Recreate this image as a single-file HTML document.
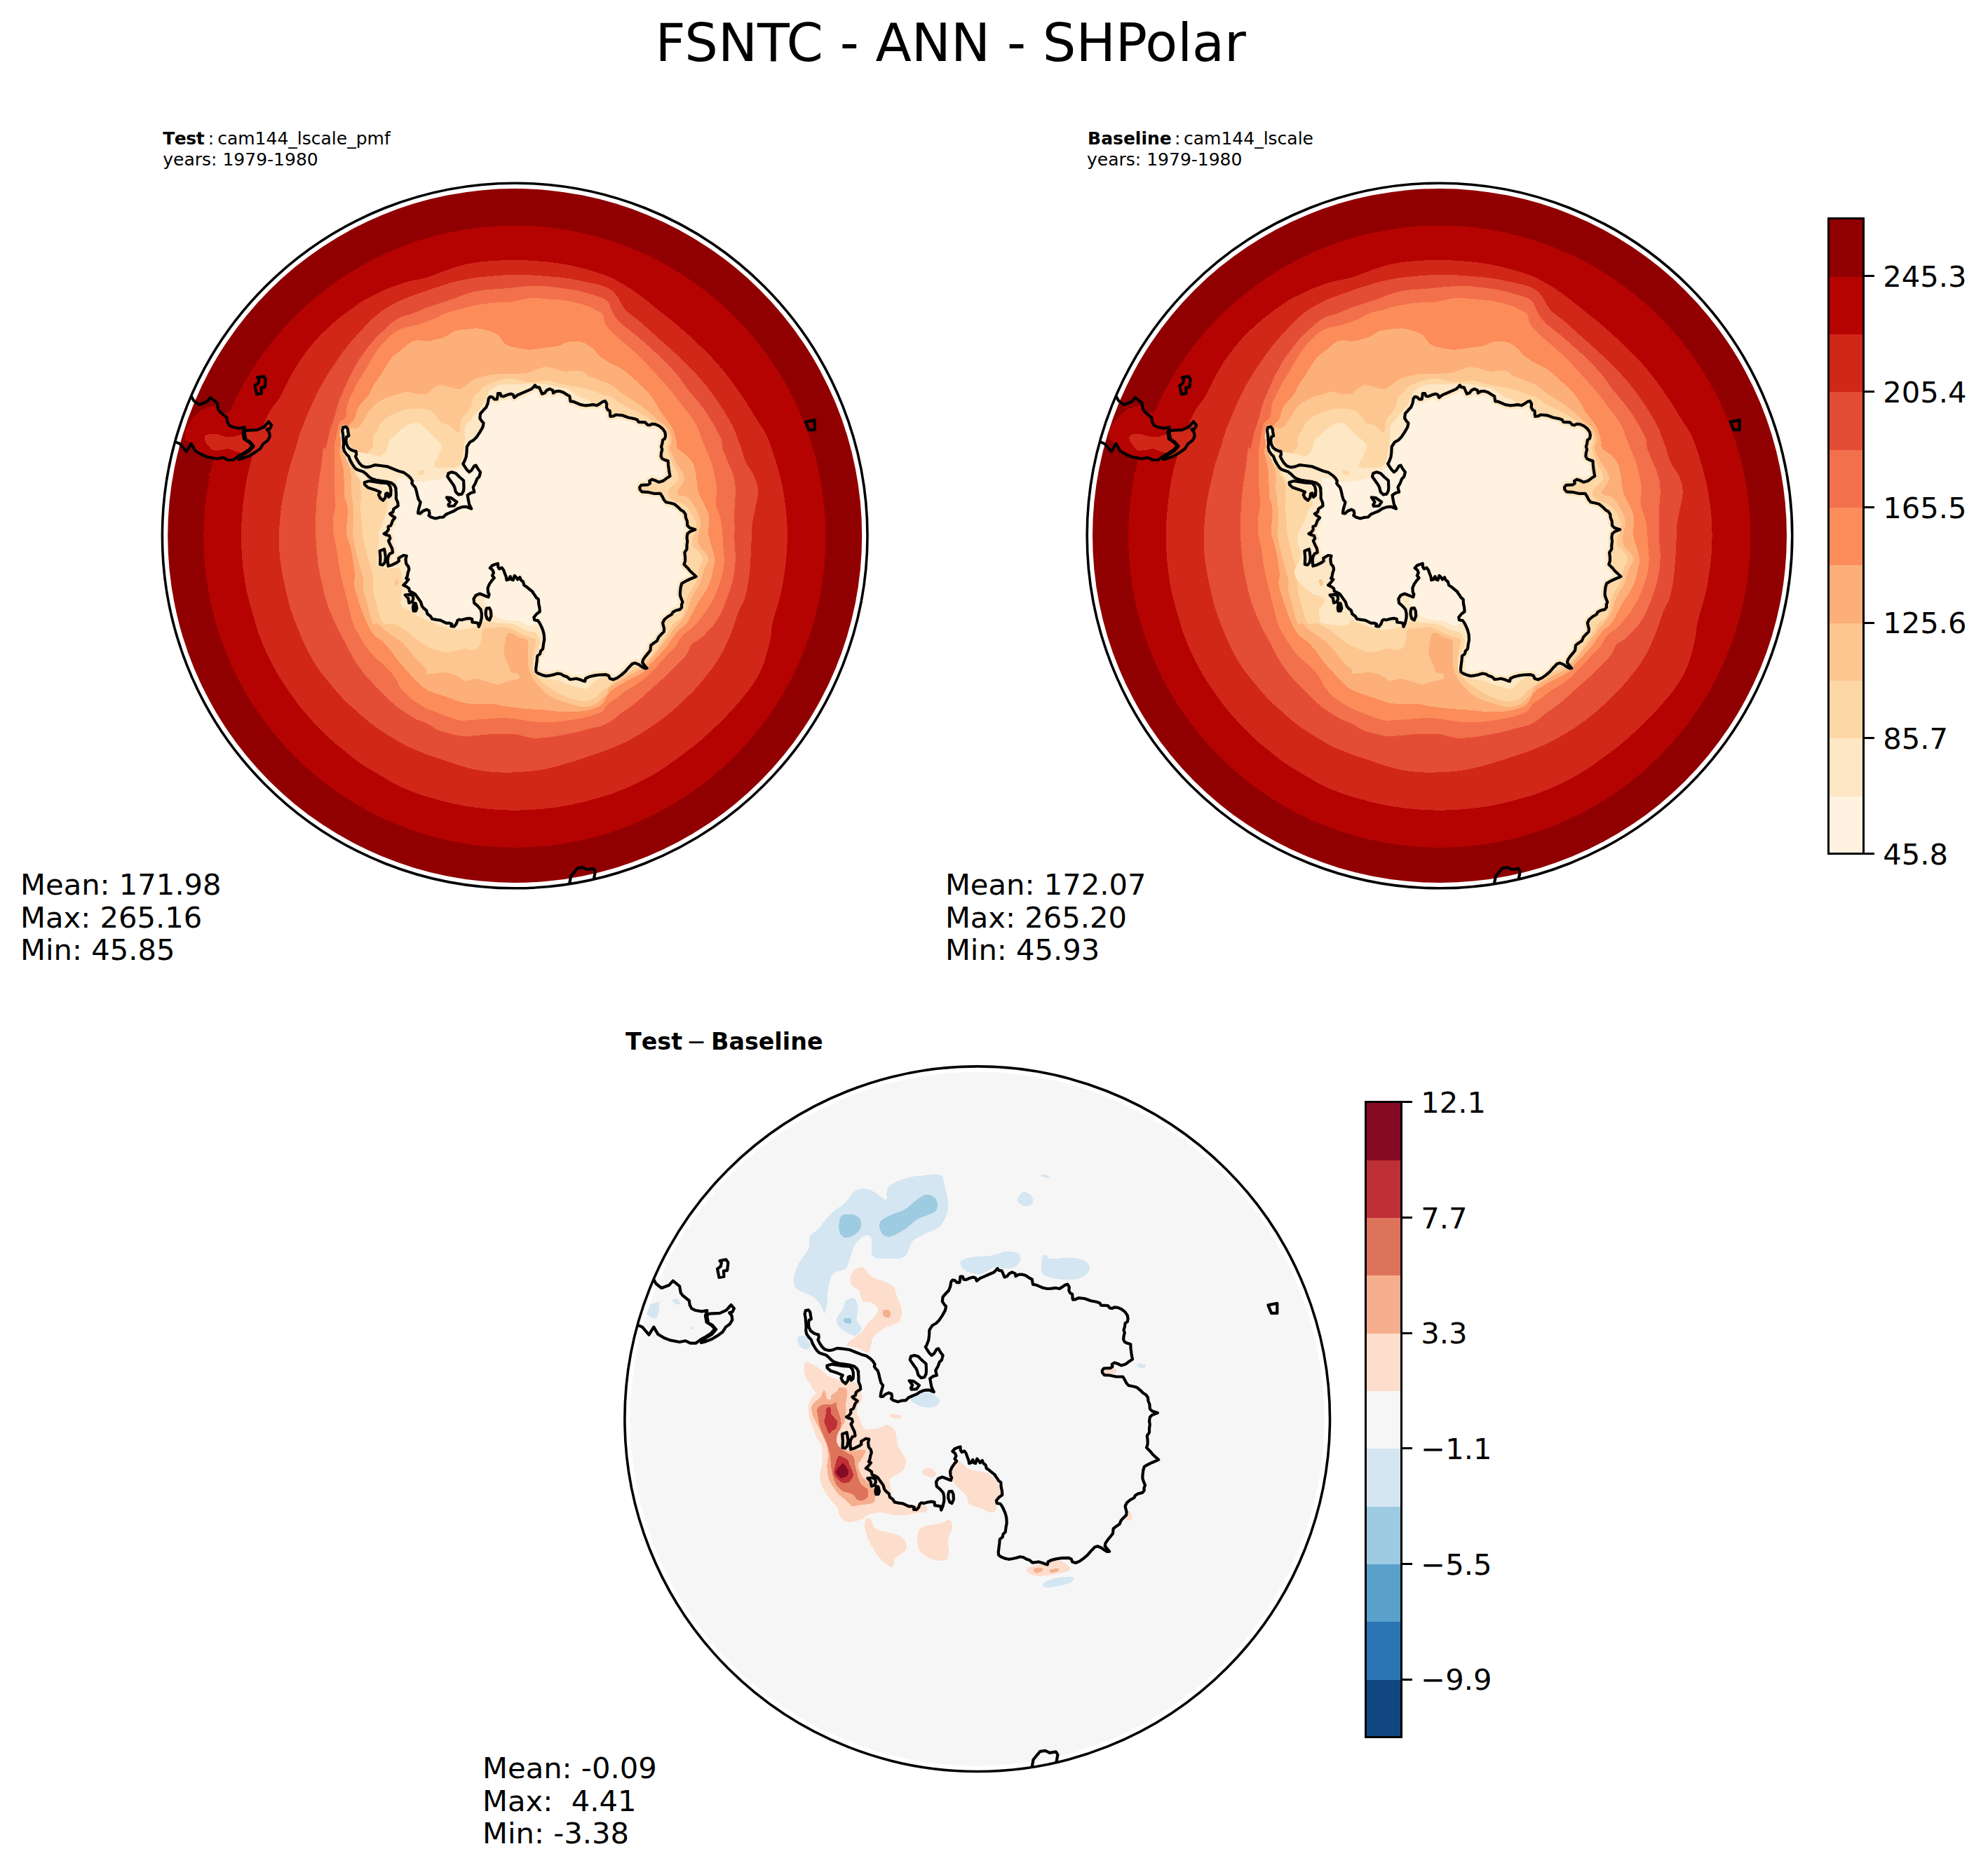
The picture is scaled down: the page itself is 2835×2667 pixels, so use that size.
<!DOCTYPE html>
<html><head><meta charset="utf-8"><title>FSNTC - ANN - SHPolar</title>
<style>html,body{margin:0;padding:0;background:#fff}body{width:2835px;height:2667px;overflow:hidden}
svg text{font-family:"DejaVu Sans","Liberation Sans",sans-serif;fill:#000;white-space:pre}</style></head>
<body>
<svg width="2835" height="2667" viewBox="0 0 2835 2667" style="display:block">
<rect width="2835" height="2667" fill="#fff"/>
<defs>
<clipPath id="cd1"><circle cx="734.2" cy="764" r="495.0"/></clipPath>
<clipPath id="co1"><circle cx="734.2" cy="764" r="502.8"/></clipPath>
<clipPath id="cd2"><circle cx="2053" cy="764" r="495.0"/></clipPath>
<clipPath id="co2"><circle cx="2053" cy="764" r="502.8"/></clipPath>
<clipPath id="cd3"><circle cx="1393.7" cy="2023.7" r="495.0"/></clipPath>
<clipPath id="co3"><circle cx="1393.7" cy="2023.7" r="502.8"/></clipPath>
</defs>
<g clip-path="url(#cd1)" shape-rendering="crispEdges">
<circle cx="734.2" cy="764" r="497.0" fill="#910000"/>
<path d="M1177.5 765.2 L1176.9 788.4 L1175.1 811.6 L1172 834.6 L1167.8 857.4 L1162.4 880 L1155.8 902.3 L1148 924.2 L1139.1 945.6 L1129.2 966.6 L1118.1 987 L1105.9 1006.8 L1092.8 1025.9 L1078.6 1044.4 L1063.6 1062 L1047.6 1078.9 L1030.7 1094.9 L1013.1 1109.9 L994.6 1124.1 L975.5 1137.2 L955.7 1149.4 L935.3 1160.5 L914.3 1170.4 L892.9 1179.3 L871 1187.1 L848.7 1193.7 L826.1 1199.1 L803.3 1203.3 L780.3 1206.4 L757.1 1208.2 L733.9 1208.8 L710.7 1208.2 L687.5 1206.4 L664.5 1203.3 L641.7 1199.1 L619.1 1193.7 L596.8 1187.1 L574.9 1179.3 L553.5 1170.4 L532.5 1160.5 L512.1 1149.4 L492.3 1137.2 L473.2 1124.1 L454.7 1109.9 L437.1 1094.9 L420.2 1078.9 L404.2 1062 L389.2 1044.4 L375 1025.9 L361.9 1006.8 L349.7 987 L338.6 966.6 L328.7 945.6 L319.8 924.2 L312 902.3 L305.4 880 L300 857.4 L295.8 834.6 L292.7 811.6 L290.9 788.4 L290.3 765.2 L290.9 742 L292.7 718.8 L295.8 695.8 L300 673 L305.4 650.4 L312 628.1 L319.8 606.2 L328.7 584.8 L338.6 563.8 L349.7 543.4 L361.9 523.6 L375 504.5 L389.2 486 L404.2 468.4 L420.2 451.5 L437.1 435.5 L454.7 420.5 L473.2 406.3 L492.3 393.2 L512.1 381 L532.5 369.9 L553.5 360 L574.9 351.1 L596.8 343.3 L619.1 336.7 L641.7 331.3 L664.5 327.1 L687.5 324 L710.7 322.2 L733.9 321.6 L757.1 322.2 L780.3 324 L803.3 327.1 L826.1 331.3 L848.7 336.7 L871 343.3 L892.9 351.1 L914.3 360 L935.3 369.9 L955.7 381 L975.5 393.2 L994.6 406.3 L1013.1 420.5 L1030.7 435.5 L1047.6 451.5 L1063.6 468.4 L1078.6 486 L1092.8 504.5 L1105.9 523.6 L1118.1 543.4 L1129.2 563.8 L1139.1 584.8 L1148 606.2 L1155.8 628.1 L1162.4 650.4 L1167.8 673 L1172 695.8 L1175.1 718.8 L1176.9 742Z" fill="#b50302"/>
<path d="M332.7 586.7 L329.1 587.1 L326.6 587.7 L324.8 588.5 L323.3 589.1 L321.5 589.3 L319.6 589 L317.7 588.5 L315.9 587.7 L314.3 586.8 L313 585.9 L312.1 584.7 L311.5 583.4 L311.1 582 L310.5 580.7 L309.6 579.9 L308.3 579.4 L306.8 579.2 L305.1 579.2 L303.1 579.5 L301 579.9 L298.5 580.5 L295.7 581.4 L292.7 582.5 L289.8 583.7 L287.3 585 L285.3 586.3 L283.5 587.8 L281.9 589.3 L280.4 591 L278.8 592.7 L277 594.6 L275.2 596.6 L273.5 598.7 L271.8 600.8 L270.2 603 L268.8 605.1 L267.3 607.3 L266.1 609.5 L265 611.8 L264.2 614.1 L263.7 616.5 L263.4 619.1 L263.3 621.6 L263.6 624 L264.2 626.1 L265.4 627.7 L267.1 629.1 L269 630.3 L271 631.5 L272.8 632.9 L274.4 634.5 L275.9 636.3 L277.4 638.1 L278.9 639.8 L280.5 641.5 L282.1 643 L283.7 644.5 L285.3 645.8 L287.1 647.1 L289 648.3 L291.3 649.3 L294 650.2 L296.7 651 L299.1 651.8 L301 652.6 L302.3 653.3 L303.3 653.9 L303.9 654.5 L304.3 655.5 L304.4 656.9 L304.3 658.9 L303.8 661.5 L303.1 664.3 L302.4 667.2 L301.9 669.7 L300.7 672.1 L298.7 674.5 L297.3 676.7 L297.6 678.6 L301 680 L309.1 682.1 L321.1 685.1 L334.5 687 L346.9 686 L355.8 680 L361.1 666.1 L364.4 645.6 L366 623 L365.9 602.5 L364.3 588.4 L360.2 582.3 L353.6 581.1 L345.8 582.8 L338.3 585.4Z" fill="#b50302"/>
<path d="M349.6 696.2 L351.6 684.6 L353.9 673.8 L356.4 663.5 L359.2 653.4 L362.3 643.2 L365.8 632.4 L369.8 621.4 L373.9 610.6 L378 600.7 L381.9 592.2 L385.5 585.5 L389.1 580.2 L392.6 575.8 L395.9 571.6 L399.1 566.8 L402 561.5 L404.7 556 L407.3 550.5 L409.9 545.2 L412.5 540.1 L415.1 535.2 L417.8 530.5 L420.5 526 L423.2 521.6 L425.8 517.3 L428.5 513.3 L431.2 509.4 L433.9 505.7 L436.5 502.1 L439.2 498.6 L441.9 495.2 L444.6 491.9 L447.2 488.7 L449.9 485.6 L452.6 482.6 L455.3 479.7 L457.9 477 L460.6 474.3 L463.3 471.8 L466 469.2 L468.6 466.7 L471.3 464.2 L474 461.8 L476.6 459.5 L479.3 457.2 L482 454.9 L484.7 452.7 L487.3 450.6 L490 448.5 L492.7 446.5 L495.4 444.5 L498 442.6 L500.7 440.8 L503.4 439 L506.1 437.1 L508.7 435.2 L511.4 433.3 L514.1 431.3 L516.8 429.5 L519.4 427.8 L522.1 426.3 L524.8 424.9 L527.4 423.6 L530.1 422.4 L532.8 421.1 L535.5 419.7 L538.1 418.3 L540.8 417 L543.5 415.7 L546.2 414.4 L548.8 413.2 L551.5 412.1 L554.2 411.1 L556.9 410.1 L559.5 409.1 L562.2 408.1 L564.9 407.1 L567.6 406.2 L570.2 405.3 L572.9 404.4 L575.4 403.5 L577.8 402.8 L580.3 402 L583 401.2 L586.3 400.4 L589.7 399.7 L593.1 399.2 L597 398.6 L602.1 397.6 L609 395.7 L618 392.6 L628.7 388.4 L640.7 383.9 L653.2 379.7 L665.9 376.5 L678.8 374.3 L692.4 372.8 L706.3 371.7 L720.4 371.2 L734.2 371 L748.1 371.2 L762.1 372 L776.1 373.1 L789.6 374.6 L802.5 376.5 L815.1 378.8 L827.4 381.7 L839.1 384.9 L849.8 388.1 L859 391 L866.3 393.6 L871.8 396 L876.5 398.4 L880.9 400.9 L885.7 403.7 L891.1 406.8 L896.4 410.1 L901.8 413.6 L907.1 417.3 L912.5 421.1 L917.8 425.1 L923.2 429.4 L928.5 433.7 L933.9 438.1 L939.2 442.5 L944.6 446.7 L949.9 450.9 L955.3 455.1 L960.6 459.4 L966 463.9 L971.3 468.5 L976.6 473.2 L982 478 L987.3 482.9 L992.7 487.9 L998.1 493.1 L1003.7 498.6 L1009.2 504 L1014.5 509.4 L1019.4 514.7 L1023.9 519.6 L1027.9 524.3 L1031.8 528.9 L1035.6 533.7 L1039.5 538.7 L1043.5 544 L1047.5 549.5 L1051.5 555.1 L1055.5 560.9 L1059.5 566.8 L1063.6 573 L1067.7 579.4 L1071.8 586 L1075.7 592.5 L1079.6 598.9 L1083.2 604.5 L1086.6 609.5 L1090 614.8 L1093.4 621.2 L1097 629.6 L1100.9 640.7 L1105.2 653.8 L1109.4 668.1 L1113.2 682.6 L1116.3 696.6 L1118.6 710.1 L1120.4 723.5 L1121.7 737 L1122.5 750.5 L1122.8 764 L1122.5 777.6 L1121.7 791.4 L1120.3 805.2 L1118.6 818.6 L1116.6 831.4 L1114 844.2 L1110.6 857.2 L1107.1 869.4 L1103.9 880.3 L1101.6 889 L1100.5 894.7 L1100.1 898 L1100.1 900 L1100 902 L1099.6 905 L1098.8 909.3 L1097.9 914.1 L1096.8 919.1 L1095.6 924.2 L1094.3 929.1 L1092.9 934 L1091.4 938.9 L1089.8 943.8 L1088.1 948.6 L1086.3 953.2 L1084.4 957.4 L1082.4 961.4 L1080.4 965.3 L1078.1 969.2 L1075.6 973.2 L1072.8 977.4 L1069.7 981.6 L1066.5 985.9 L1063.1 990.2 L1059.5 994.6 L1055.8 999.1 L1051.8 1003.7 L1047.7 1008.4 L1043.6 1012.9 L1039.5 1017.3 L1035.6 1021.5 L1031.8 1025.4 L1027.9 1029.2 L1023.9 1033.2 L1019.4 1037.4 L1014.5 1042 L1009.2 1046.9 L1003.7 1051.9 L998.1 1056.8 L992.7 1061.5 L987.3 1065.7 L982 1069.8 L976.6 1073.8 L971.3 1077.7 L966 1081.5 L960.6 1085.4 L955.3 1089.3 L949.9 1093.1 L944.6 1096.8 L939.2 1100.2 L933.9 1103.5 L928.5 1106.5 L923.2 1109.4 L917.8 1112.2 L912.5 1114.9 L907.1 1117.6 L901.8 1120.1 L896.4 1122.5 L891.1 1124.8 L885.7 1127 L880.9 1128.9 L876.5 1130.7 L871.9 1132.4 L866.3 1134.2 L859 1136.3 L849.8 1138.9 L839 1141.9 L827.2 1144.9 L814.8 1147.7 L802.3 1150 L789.4 1151.9 L775.9 1153.4 L762 1154.6 L748 1155.4 L734.2 1155.7 L720.4 1155.4 L706.4 1154.6 L692.6 1153.4 L679 1151.9 L666.1 1150 L653.5 1147.7 L640.8 1144.9 L628.8 1141.8 L618 1138.8 L609 1136.3 L602.1 1134.3 L597 1132.6 L593 1131 L589.7 1129.6 L586.3 1128.3 L583 1127.1 L580.3 1126 L577.8 1125.1 L575.4 1124.1 L572.9 1123 L570.2 1121.7 L567.6 1120.4 L564.9 1119.1 L562.2 1117.7 L559.5 1116.3 L556.9 1114.8 L554.2 1113.2 L551.5 1111.5 L548.8 1109.9 L546.2 1108.3 L543.5 1106.6 L540.8 1105 L538.1 1103.4 L535.5 1101.8 L532.8 1100.2 L530.1 1098.6 L527.4 1097.1 L524.8 1095.5 L522.1 1093.9 L519.4 1092.2 L516.8 1090.4 L514.1 1088.6 L511.4 1086.8 L508.7 1084.8 L506.1 1082.9 L503.4 1080.8 L500.7 1078.7 L498 1076.5 L495.4 1074.3 L492.7 1072.2 L490 1070 L487.3 1067.9 L484.7 1065.8 L482 1063.7 L479.3 1061.5 L476.6 1059.2 L474 1056.8 L471.3 1054.4 L468.6 1051.9 L466 1049.4 L463.3 1046.9 L460.6 1044.2 L457.9 1041.6 L455.3 1038.8 L452.6 1036.1 L449.9 1033.2 L447.2 1030.3 L444.6 1027.4 L441.9 1024.4 L439.2 1021.4 L436.5 1018.3 L433.9 1015.2 L431.2 1012 L428.5 1008.7 L425.8 1005.3 L423.2 1001.8 L420.5 998.1 L417.8 994.3 L415.1 990.5 L412.5 986.6 L409.8 982.7 L407.1 978.9 L404.5 974.9 L401.8 970.8 L399.1 966.5 L396.4 962.1 L393.8 957.5 L391.1 952.7 L388.4 947.7 L385.7 942.5 L383 936.9 L380.1 930.8 L377.3 924.7 L374.7 918.7 L372.4 913.1 L370.5 908.4 L369.1 904.6 L367.8 900.8 L366.3 895.8 L364.3 889 L361.7 879.9 L358.5 869 L355.2 857 L352.1 844.5 L349.6 831.8 L347.7 818.9 L346.1 805.5 L344.9 791.6 L344.2 777.7 L343.9 764 L344.2 750.2 L345 736.2 L346.3 722.2 L347.9 708.8Z" fill="#d12719"/>
<path d="M291.6 623.5 L292.2 622.3 L293.1 621.3 L294.4 620.4 L295.9 619.7 L297.6 619.2 L299.5 618.9 L301.8 618.8 L304.2 618.8 L306.6 619 L308.7 619.2 L310.6 619.6 L312.3 620.1 L314 620.7 L315.6 621.3 L317.3 621.8 L319 622.2 L320.7 622.7 L322.4 623 L324.1 623.3 L325.8 623.5 L327.5 623.5 L329.1 623.4 L330.8 623.2 L332.5 623 L334.4 622.7 L336.6 622.1 L339.1 621.3 L341.6 620.5 L343.8 620 L345.5 620.1 L346.3 620.9 L346.5 622.3 L346.5 623.9 L346.6 625.6 L347.2 626.9 L348.5 627.9 L350.3 628.8 L352.3 629.6 L354.2 630.4 L355.8 631.2 L357.1 632 L358.3 632.8 L359.3 633.6 L359.9 634.5 L360 635.5 L359.5 636.6 L358.5 637.8 L357.1 639.1 L355.6 640.4 L354 641.5 L352.5 642.5 L350.8 643.6 L349 644.6 L347.2 645.3 L345.5 645.7 L343.8 645.8 L342 645.5 L340.2 645.1 L338.5 644.5 L336.9 644 L335.4 643.6 L334 643 L332.6 642.5 L331.3 641.9 L330.1 641.5 L329 641 L328 640.6 L327.1 640.2 L326.1 639.9 L325 639.8 L323.7 639.9 L322.3 640.2 L320.8 640.7 L319.2 641.1 L317.3 641.5 L314.9 641.8 L312.2 642.2 L309.3 642.5 L306.6 642.6 L304.4 642.3 L302.8 641.7 L301.5 640.7 L300.4 639.5 L299.4 638.3 L298.4 637.2 L297.5 636.2 L296.5 635.3 L295.7 634.4 L294.9 633.3 L294.2 632.1 L293.4 630.5 L292.6 628.7 L291.9 626.8 L291.5 625Z" fill="#d12719"/>
<path d="M384.8 602.1 L376.3 609 L366.9 612.8 L355.8 613.7 L349.8 614.1 L348.9 626.9 L355.8 631.2 L360.9 635.5 L355.8 643.2 L347.2 648.3 L340.4 655.2 L351.5 653.4 L360 648.3 L359.2 661.1 L355.8 680 L390 680 L396 597Z" fill="#d12719"/>
<path d="M398.4 752.6 L398.8 746 L399.4 739.3 L400 732.6 L400.8 725.9 L401.8 719.2 L402.9 712.4 L404.2 705.5 L405.6 698.7 L407.1 692 L408.5 685.8 L409.8 679.9 L411.1 674.3 L412.5 668.9 L413.8 663.9 L415.1 659.1 L416.5 654.7 L417.8 650.7 L419.2 646.9 L420.5 643.1 L421.8 639 L423.1 634.7 L424.3 630.3 L425.6 625.8 L426.9 621.1 L428.5 616.3 L430.4 611.2 L432.4 606 L434.6 600.6 L436.8 595.1 L439.2 589.5 L441.7 583.7 L444.4 577.7 L447.1 571.6 L449.9 565.7 L452.6 560.1 L455.3 554.9 L457.9 549.9 L460.6 545.1 L463.3 540.5 L466 536.1 L468.6 531.8 L471.3 527.7 L474 523.7 L476.6 519.9 L479.3 516 L482 512.1 L484.7 508.3 L487.3 504.5 L490 500.8 L492.7 497.3 L495.4 493.9 L498 490.6 L500.7 487.4 L503.4 484.3 L506.1 481.2 L508.7 478.2 L511.4 475.2 L514.1 472.3 L516.8 469.4 L519.4 466.5 L522.1 463.7 L524.8 461 L527.4 458.3 L530.1 455.7 L532.8 453.2 L535.5 450.8 L538.1 448.6 L540.8 446.4 L543.5 444.4 L546.2 442.5 L548.8 440.7 L551.5 439 L554.2 437.4 L556.9 435.9 L559.5 434.5 L562.2 433 L564.9 431.6 L567.6 430.3 L570.2 429 L572.9 427.8 L575.6 426.6 L578.3 425.5 L580.9 424.4 L583.6 423.4 L586.3 422.4 L589 421.4 L591.8 420.4 L594.6 419.5 L597.2 418.6 L599.6 417.7 L601.6 417 L603.2 416.5 L604.7 415.9 L606.5 415.3 L609 414.4 L612.3 413.3 L616.3 411.9 L620.5 410.5 L624.9 409.1 L629.1 407.7 L633 406.5 L636.8 405.2 L640.6 404 L644.7 402.9 L649.1 401.7 L654 400.5 L659.3 399.4 L664.8 398.3 L670.4 397.2 L675.8 396.4 L681.2 395.6 L686.5 395 L691.9 394.6 L697.2 394.1 L702.6 393.7 L707.9 393.2 L713.3 392.8 L718.6 392.4 L724 392.1 L729.3 391.9 L734.7 391.9 L740 391.9 L745.4 392 L750.7 392.1 L756.1 392.3 L761.4 392.6 L766.8 393 L772.1 393.4 L777.4 393.9 L782.8 394.3 L788.1 394.8 L793.5 395.2 L798.8 395.7 L804.2 396.3 L809.5 397 L814.9 397.9 L820.4 399 L825.9 400.1 L831.2 401.3 L836.3 402.4 L841.2 403.4 L846.1 404.4 L850.8 405.5 L855.1 406.6 L859 407.7 L862.3 408.9 L865.2 410.1 L867.8 411.4 L870.1 412.8 L872.4 414.4 L874.5 416.2 L876.3 418.1 L878.1 420.1 L879.8 422.5 L881.7 425.1 L883.6 428.2 L885.5 431.6 L887.4 435.3 L889.7 439 L892.4 442.5 L895.7 445.6 L899.4 448.6 L903.5 451.6 L907.9 454.8 L912.5 458.5 L917.4 462.8 L922.7 467.6 L928.2 472.6 L933.8 477.6 L939.2 482.6 L944.6 487.4 L949.9 492.1 L955.3 496.8 L960.6 501.7 L966 506.6 L971.4 511.9 L977 517.3 L982.5 522.8 L987.8 528.2 L992.7 533.4 L997.1 538.3 L1001.2 542.9 L1005 547.6 L1008.8 552.3 L1012.7 557.4 L1016.9 563.1 L1021.1 569.1 L1025.3 575.2 L1029.2 581.2 L1032.8 586.9 L1035.9 592 L1038.8 596.7 L1041.3 601.3 L1043.8 605.9 L1046.2 610.9 L1048.5 616.4 L1050.8 622.3 L1053 628.2 L1055 633.8 L1056.9 639 L1058.4 643.5 L1059.6 647.6 L1060.7 651.4 L1061.9 655.2 L1063.5 659.1 L1065.7 663.1 L1068.3 667.1 L1071 671.1 L1073.5 675.1 L1075.6 679.1 L1077.2 683.1 L1078.6 687.1 L1079.7 691.1 L1080.5 695.1 L1080.9 699.2 L1080.9 703.1 L1080.6 706.9 L1079.9 710.7 L1079.1 714.8 L1078.3 719.2 L1077.3 724.1 L1076.1 729.4 L1074.9 734.9 L1073.8 740.5 L1072.9 746 L1072.4 751.3 L1072.1 756.6 L1071.9 762 L1071.8 767.3 L1071.6 772.7 L1071.3 778 L1071.1 783.4 L1070.9 788.7 L1070.6 794.1 L1070.2 799.4 L1069.8 804.8 L1069.4 810.1 L1068.9 815.5 L1068.3 820.8 L1067.6 826.2 L1066.7 831.6 L1065.8 837.2 L1064.8 842.7 L1063.6 848 L1062.2 852.9 L1060.6 857.3 L1058.7 861.2 L1056.7 865 L1054.7 868.8 L1052.9 873 L1051.1 877.6 L1049.5 882.7 L1047.9 887.8 L1046.3 892.7 L1044.8 897 L1043.4 900.7 L1042.1 904 L1040.9 906.9 L1039.5 909.9 L1038.1 913.1 L1036.7 916.5 L1035.2 919.9 L1033.6 923.4 L1031.9 926.9 L1030.1 930.4 L1028.2 933.9 L1026.2 937.4 L1024 940.9 L1021.8 944.3 L1019.4 947.8 L1016.9 951.3 L1014.3 954.8 L1011.5 958.3 L1008.8 961.8 L1006.1 965.2 L1003.4 968.5 L1000.7 971.8 L998 975.1 L995.4 978.2 L992.7 981.2 L990.1 984 L987.7 986.5 L985.1 989 L982.4 991.6 L979.3 994.6 L975.7 998.1 L971.8 1001.8 L967.6 1005.8 L963.4 1009.7 L959.3 1013.3 L955.3 1016.8 L951.2 1020.1 L947.2 1023.3 L943.2 1026.4 L939.2 1029.4 L935.2 1032.2 L931.2 1035 L927.2 1037.6 L923.2 1040.2 L919.2 1042.7 L915.1 1045.3 L911.1 1047.8 L907.1 1050.2 L903.1 1052.6 L899.1 1054.8 L895.1 1056.8 L891.1 1058.8 L887.1 1060.6 L883.1 1062.4 L879.1 1064.1 L875 1065.9 L870.8 1067.6 L866.7 1069.2 L862.8 1070.7 L859 1072.2 L855.6 1073.4 L852.5 1074.4 L849.5 1075.4 L846.4 1076.4 L843 1077.5 L839.3 1078.7 L835.5 1080 L831.6 1081.4 L827.4 1082.7 L822.9 1084.2 L818 1085.7 L812.7 1087.4 L807.2 1089.1 L801.6 1090.7 L796.2 1092.2 L790.8 1093.6 L785.5 1094.9 L780.1 1096.2 L774.8 1097.3 L769.4 1098.2 L764.1 1099 L758.7 1099.6 L753.4 1100.1 L748 1100.5 L742.7 1100.9 L737.3 1101.2 L732 1101.4 L726.6 1101.6 L721.3 1101.6 L716 1101.6 L710.5 1101.4 L704.9 1101.1 L699.4 1100.6 L694.1 1100.1 L689.2 1099.6 L684.8 1098.9 L680.7 1098.2 L676.9 1097.4 L673.1 1096.5 L669.2 1095.6 L665.1 1094.5 L661.1 1093.3 L657.1 1092.1 L653.1 1090.8 L649.1 1089.5 L645.1 1088.2 L641.1 1086.9 L637.1 1085.6 L633.1 1084.2 L629.1 1082.9 L624.9 1081.5 L620.5 1080 L616.3 1078.6 L612.3 1077.3 L609 1076.2 L606.5 1075.2 L604.7 1074.4 L603.2 1073.7 L601.6 1073 L599.6 1072.2 L597.2 1071.2 L594.6 1070.2 L591.8 1069.1 L589 1068 L586.3 1066.8 L583.6 1065.6 L580.9 1064.3 L578.3 1063 L575.6 1061.6 L572.9 1060.1 L570.2 1058.6 L567.6 1057 L564.9 1055.4 L562.2 1053.7 L559.5 1052.1 L556.9 1050.5 L554.2 1049 L551.5 1047.4 L548.8 1045.8 L546.2 1044.1 L543.5 1042.3 L540.8 1040.5 L538.1 1038.6 L535.5 1036.7 L532.8 1034.7 L530.1 1032.7 L527.4 1030.6 L524.8 1028.5 L522.1 1026.3 L519.4 1024 L516.8 1021.7 L514.1 1019.3 L511.4 1016.9 L508.7 1014.4 L506.1 1012 L503.4 1009.6 L500.7 1007.3 L498 1005 L495.4 1002.5 L492.7 1000 L490 997.2 L487.3 994.3 L484.7 991.4 L482 988.3 L479.3 985.3 L476.6 982.2 L474 979 L471.3 975.8 L468.6 972.5 L466 969.2 L463.3 965.9 L460.6 962.6 L457.9 959.2 L455.3 955.7 L452.6 951.8 L449.8 947.6 L447 943 L444.3 938.3 L441.6 933.6 L439.2 929.1 L437.1 924.9 L435.1 920.9 L433.3 916.9 L431.6 913 L429.9 909.1 L428.2 905.1 L426.6 901.2 L425 897.2 L423.4 893.2 L421.8 889 L420.2 884.7 L418.6 880.3 L416.9 875.8 L415.3 871.1 L413.8 866.3 L412.4 861.2 L411 855.9 L409.6 850.4 L408.4 844.9 L407.1 839.5 L405.9 834.2 L404.8 828.8 L403.7 823.5 L402.7 818.1 L401.8 812.8 L400.9 807.6 L400.1 802.4 L399.4 797.2 L398.9 791.8 L398.4 786.1 L398.2 779.8 L398 773.2 L398 766.3 L398.2 759.4Z" fill="#e44d35"/>
<path d="M449.9 752.6 L450 746.3 L450.2 739.4 L450.5 732.4 L450.9 725.6 L451.2 719.2 L451.7 713.4 L452.2 708 L452.7 702.9 L453.3 697.7 L453.9 692.5 L454.6 687.1 L455.5 681.8 L456.3 676.4 L457.1 671.1 L457.9 665.7 L458.6 660 L459.3 653.8 L460 647.8 L460.6 642.6 L461.3 639 L461.9 637.7 L462.5 638.2 L463.1 639.4 L463.8 640 L464.6 639 L465.5 635.9 L466.5 631.4 L467.6 626.3 L468.8 621 L470 616.3 L471.2 612.1 L472.6 608.1 L474 604.1 L475.4 600.2 L476.6 596.2 L477.7 592.3 L478.7 588.3 L479.6 584.4 L480.7 580.3 L482 576.2 L483.6 571.7 L485.5 567 L487.5 562.3 L489.5 557.7 L491.4 553.4 L493 549.7 L494.5 546.2 L496 542.9 L497.6 539.6 L499.4 536.1 L501.4 532.1 L503.5 527.9 L505.8 523.7 L508 519.6 L510.1 516 L512 513 L513.7 510.4 L515.5 508 L517.3 505.5 L519.4 502.6 L521.8 499.4 L524.5 495.8 L527.3 492.1 L530.1 488.5 L532.8 485.3 L535.5 482.3 L538.1 479.6 L540.8 476.9 L543.5 474.4 L546.2 471.9 L548.8 469.3 L551.5 466.8 L554.2 464.3 L556.9 462 L559.5 459.9 L562.2 457.9 L564.9 456.2 L567.6 454.6 L570.2 453.1 L572.9 451.8 L575.6 450.8 L578.3 450 L580.9 449.3 L583.6 448.6 L586.3 447.8 L589 446.8 L591.8 445.7 L594.6 444.6 L597.2 443.5 L599.6 442.5 L601.6 441.6 L603.2 440.9 L604.7 440.2 L606.5 439.4 L609 438.5 L612.3 437.3 L616.3 436 L620.5 434.6 L624.9 433.2 L629.1 431.8 L633.1 430.5 L637.1 429.1 L641.1 427.8 L645.1 426.5 L649.1 425.1 L653.1 423.6 L657.1 422 L661.1 420.5 L665.1 419 L669.2 417.7 L673.1 416.7 L676.9 415.8 L680.7 415 L684.8 414.4 L689.2 413.7 L694.1 413.2 L699.4 412.8 L704.9 412.5 L710.5 412.1 L716 411.7 L721.3 411.2 L726.6 410.6 L732 410.1 L737.3 409.5 L742.7 409.1 L748 408.6 L753.4 408.2 L758.7 407.9 L764.1 407.7 L769.4 407.7 L774.8 408 L780.1 408.4 L785.5 409 L790.8 409.7 L796.2 410.4 L801.6 411.1 L807.2 411.8 L812.7 412.6 L818 413.5 L822.9 414.4 L827.4 415.4 L831.6 416.4 L835.5 417.5 L839.3 418.7 L843 419.7 L846.6 420.8 L850 421.9 L853.4 423 L856.4 424 L859 425.1 L861.1 426 L862.8 426.7 L864.2 427.4 L865.5 428.6 L867 430.4 L868.6 433.2 L870.1 436.7 L871.6 440.6 L873.3 444.4 L875 447.8 L876.9 450.7 L878.7 453.3 L880.7 455.8 L883 458.4 L885.7 461.2 L889.1 464.2 L893.1 467.4 L897.3 470.6 L901.6 473.9 L905.8 477.2 L909.8 480.6 L913.8 484 L917.8 487.5 L921.8 491 L925.8 494.6 L929.9 498.2 L933.9 501.9 L937.9 505.6 L941.9 509.4 L945.9 513.3 L950 517.5 L954.2 521.8 L958.4 526.2 L962.4 530.6 L966 534.7 L969.1 538.7 L971.8 542.5 L974.3 546.3 L976.8 549.9 L979.3 553.4 L982 556.8 L984.7 560 L987.3 563.1 L990 566.2 L992.7 569.5 L995.4 572.8 L998 576.1 L1000.7 579.6 L1003.4 583.1 L1006.1 586.9 L1008.8 590.9 L1011.6 595.3 L1014.4 599.7 L1017 604.1 L1019.4 608.3 L1021.7 612.3 L1023.8 616.3 L1025.8 620.1 L1027.5 623.7 L1028.8 627 L1029.5 629.7 L1029.6 631.9 L1029.5 633.9 L1029.6 636.2 L1030.1 639 L1031.3 642.5 L1032.9 646.4 L1034.6 650.6 L1036.4 654.9 L1038.1 659.1 L1039.8 663.1 L1041.6 667.1 L1043.3 671.1 L1044.9 675.1 L1046.2 679.1 L1047.1 683 L1047.8 686.8 L1048.3 690.7 L1048.6 694.7 L1048.8 699.2 L1048.8 704.1 L1048.5 709.4 L1048.1 714.9 L1047.7 720.4 L1047.5 725.9 L1047.4 731.4 L1047.4 736.9 L1047.4 742.4 L1047.5 747.7 L1047.5 752.6 L1047.5 757.1 L1047.4 761.1 L1047.4 765 L1047.4 768.8 L1047.5 772.7 L1047.7 776.7 L1048.1 780.7 L1048.4 784.7 L1048.7 788.7 L1048.8 792.7 L1048.8 796.8 L1048.6 800.8 L1048.4 804.8 L1048 808.8 L1047.5 812.8 L1046.9 816.8 L1046.2 820.8 L1045.4 824.8 L1044.5 828.8 L1043.5 832.9 L1042.3 836.9 L1041.1 840.9 L1039.7 844.9 L1038.3 848.9 L1036.8 852.9 L1035.3 857 L1033.8 861.1 L1032.2 865.2 L1030.5 869.2 L1028.8 873 L1027 876.5 L1025.1 879.9 L1023.2 883.2 L1021.3 886.2 L1019.4 889 L1017.6 891.5 L1015.7 893.7 L1013.9 895.7 L1012 897.6 L1010.1 899.7 L1008.1 901.9 L1006 904 L1003.9 906.2 L1001.7 908.3 L999.4 910.4 L996.8 912.3 L993.9 914 L991 915.8 L988.3 917.6 L986 919.7 L984.3 922.1 L983.2 924.7 L982.2 927.5 L981 930.3 L979.3 933.1 L977.1 936 L974.5 939 L971.6 942 L968.7 944.9 L966 947.8 L963.3 950.6 L960.6 953.3 L957.9 956 L955.3 958.6 L952.6 961.2 L949.9 963.7 L947.2 966.1 L944.6 968.5 L941.9 970.8 L939.2 973.2 L936.5 975.6 L933.9 978 L931.2 980.4 L928.5 982.9 L925.8 985.3 L923.2 987.7 L920.5 990.1 L917.8 992.6 L915.1 995 L912.5 997.3 L909.8 999.5 L907.1 1001.7 L904.5 1003.9 L901.8 1006 L899.1 1008 L896.4 1009.9 L893.8 1011.8 L891.1 1013.6 L888.4 1015.4 L885.7 1017.3 L883.1 1019.5 L880.4 1021.7 L877.7 1024 L875 1026.1 L872.4 1028 L869.7 1029.7 L867.1 1031.1 L864.5 1032.4 L861.8 1033.6 L859 1034.7 L856 1035.7 L853 1036.5 L849.8 1037.2 L846.5 1037.9 L843 1038.7 L839.2 1039.7 L835.2 1040.8 L831.1 1042 L827 1043.1 L822.9 1044.1 L818.9 1045 L814.9 1045.8 L810.9 1046.6 L806.9 1047.4 L802.9 1048.1 L798.8 1048.8 L794.8 1049.6 L790.8 1050.3 L786.8 1050.9 L782.8 1051.4 L778.7 1051.9 L774.5 1052.3 L770.3 1052.6 L766.3 1052.7 L762.7 1052.8 L759.6 1052.6 L756.9 1052.3 L754.4 1051.8 L751.9 1051.3 L749.4 1050.8 L746.8 1050.1 L744.3 1049.4 L741.8 1048.6 L739.1 1047.9 L736 1047.4 L732.4 1047.1 L728.5 1046.9 L724.3 1046.8 L720.1 1046.8 L716 1046.8 L711.9 1046.8 L707.9 1046.9 L703.9 1047 L699.9 1047.2 L695.9 1047.4 L691.9 1047.8 L687.9 1048.2 L683.9 1048.7 L679.9 1049.1 L675.8 1049.4 L671.8 1049.6 L667.8 1049.8 L663.8 1049.9 L659.8 1049.8 L655.8 1049.4 L651.7 1048.8 L647.4 1047.9 L643.3 1046.8 L639.3 1045.8 L635.7 1044.7 L632.6 1043.9 L629.9 1043 L627.4 1042.2 L624.9 1041.2 L622.4 1040.1 L619.7 1038.7 L617.1 1037 L614.5 1035.3 L611.8 1033.6 L609 1032 L605.9 1030.6 L602.6 1029.3 L599.3 1028.1 L596 1026.8 L593 1025.4 L590.1 1023.8 L587.4 1022.3 L584.7 1020.6 L582.1 1019 L579.6 1017.3 L577.1 1015.8 L574.6 1014.2 L572.2 1012.6 L569.9 1011 L567.6 1009.3 L565.3 1007.6 L563.2 1005.7 L561.1 1003.9 L559 1001.9 L556.9 1000 L554.8 998 L552.7 995.9 L550.6 993.8 L548.5 991.6 L546.2 989.3 L543.7 986.8 L541 984.2 L538.3 981.5 L535.5 978.7 L532.8 975.9 L530.1 973.1 L527.4 970.3 L524.8 967.4 L522.1 964.4 L519.4 961.2 L516.7 957.7 L514 954.1 L511.2 950.3 L508.6 946.4 L506.1 942.5 L503.7 938.5 L501.5 934.4 L499.4 930.3 L497.4 926.3 L495.4 922.4 L493.4 918.8 L491.5 915.2 L489.6 911.8 L487.8 908.4 L486 905 L484.4 902 L482.9 899.2 L481.4 896.3 L479.8 893 L478 889 L475.7 883.9 L473.2 878.1 L470.6 871.8 L468.1 865.5 L466 859.6 L464.3 854.1 L462.8 848.7 L461.6 843.4 L460.4 838.2 L459.3 832.9 L458.1 827.5 L456.9 822.2 L455.8 816.8 L454.8 811.5 L453.9 806.1 L453.2 800.8 L452.6 795.4 L452.1 790.1 L451.7 784.7 L451.2 779.4 L450.9 774.1 L450.5 769 L450.2 763.8 L450 758.4Z" fill="#f2704c"/>
<path d="M475.3 759.3 L475 755.3 L474.9 751.3 L474.9 747.3 L475.1 743.3 L475.3 739.3 L475.7 735.4 L476.4 731.6 L477.1 727.7 L477.7 723.7 L478 719.2 L478 714.3 L477.7 709 L477.3 703.5 L476.9 697.9 L476.6 692.5 L476.6 687.1 L476.6 681.8 L476.6 676.4 L476.6 671.1 L476.6 665.7 L476.6 660.2 L476.5 654.5 L476.5 648.9 L476.5 643.7 L476.6 639 L477 635.1 L477.5 631.7 L478.1 628.7 L478.7 625.8 L479.3 623 L479.9 620 L480.4 617.2 L480.9 614.4 L481.5 611.9 L482 609.6 L482.4 607.6 L482.8 605.9 L483.2 604.4 L483.8 603 L484.7 601.6 L486 600.3 L487.7 599.4 L489.6 598.4 L491.3 597 L492.7 594.9 L493.5 591.9 L493.9 588.2 L494.2 584.1 L494.6 580 L495.4 576.2 L496.6 572.6 L498.2 569.1 L499.9 565.6 L501.7 562.2 L503.4 558.8 L505 555.4 L506.6 552.1 L508.2 548.8 L509.8 545.7 L511.4 542.7 L513 540.2 L514.5 538 L516 535.8 L517.7 533.5 L519.4 530.7 L521.4 527.4 L523.5 523.6 L525.7 519.6 L527.9 515.7 L530.1 512 L532.2 508.6 L534.3 505.3 L536.4 502 L538.6 498.9 L540.8 496 L543.1 493.1 L545.5 490.3 L547.9 487.6 L550.3 485 L552.9 482.6 L555.4 480.2 L558.1 477.9 L560.8 475.7 L563.5 473.6 L566.2 471.9 L568.9 470.4 L571.6 469.2 L574.2 468.2 L576.9 467.4 L579.6 466.5 L582.2 465.9 L584.8 465.4 L587.4 465 L590.1 464.5 L593 463.9 L596 463 L599.3 461.9 L602.6 460.8 L605.9 459.6 L609 458.5 L611.8 457.5 L614.5 456.4 L617.1 455.4 L619.7 454.3 L622.4 453.2 L624.9 451.9 L627.4 450.5 L629.9 449.1 L632.6 447.8 L635.7 446.5 L639.3 445.3 L643.3 444.3 L647.4 443.2 L651.7 442.2 L655.8 441.1 L659.7 440 L663.5 438.9 L667.3 437.8 L671.4 436.8 L675.8 435.8 L680.8 434.9 L686.1 434 L691.6 433.1 L697.1 432.4 L702.6 431.8 L707.9 431.4 L713.3 431.2 L718.6 431.1 L724 430.9 L729.3 430.4 L734.7 429.5 L740 428.3 L745.4 426.9 L750.7 425.8 L756.1 425.1 L761.4 424.9 L766.8 425.1 L772.1 425.5 L777.4 426 L782.8 426.4 L788.1 426.8 L793.5 427.2 L798.8 427.7 L804.2 428.3 L809.5 429.1 L815.1 430.2 L820.9 431.5 L826.5 432.9 L831.8 434.4 L836.3 435.8 L839.9 437.1 L842.8 438.5 L845.2 439.9 L847.4 441.2 L849.6 442.5 L851.9 443.5 L853.9 444.3 L855.8 445.2 L857.5 446.3 L859 447.8 L860.1 450 L860.7 452.7 L861.3 455.6 L862 458.5 L863 461.2 L864.5 463.7 L866.2 466.1 L868.1 468.5 L870.2 470.8 L872.4 473.2 L874.7 475.5 L877.1 477.8 L879.7 480.1 L882.6 482.5 L885.7 485.3 L889.3 488.3 L893.3 491.7 L897.4 495.2 L901.7 498.9 L905.8 502.6 L909.9 506.6 L914.1 510.7 L918.3 514.9 L922.3 519 L925.8 522.7 L928.9 526 L931.7 529 L934.2 531.8 L936.6 534.5 L939.2 537.4 L941.9 540.4 L944.7 543.3 L947.4 546.3 L950.1 549.2 L952.6 552.1 L954.9 554.8 L957 557.4 L959 560 L961.1 562.6 L963.3 565.5 L965.6 568.6 L968.1 571.8 L970.5 575.2 L973 578.4 L975.3 581.5 L977.6 584.3 L979.7 586.9 L981.9 589.5 L984 592.1 L986 594.9 L988 597.9 L990 601.2 L992 604.5 L993.8 607.8 L995.4 610.9 L996.7 614 L997.8 617 L998.8 619.9 L999.7 622.8 L1000.7 625.6 L1001.7 628.3 L1002.7 630.8 L1003.7 633.2 L1004.8 635.9 L1006.1 639 L1007.5 642.6 L1009.2 646.5 L1010.9 650.7 L1012.6 654.9 L1014.1 659.1 L1015.4 663.1 L1016.5 667.1 L1017.6 671.1 L1018.6 675.1 L1019.4 679.1 L1020.2 683.1 L1020.9 687.1 L1021.4 691.1 L1021.9 695.1 L1022.1 699.2 L1022 703.2 L1021.5 707.2 L1020.9 711.2 L1020.6 715.2 L1020.8 719.2 L1021.7 723.2 L1023.1 727.2 L1024.7 731.2 L1026.2 735.3 L1027.4 739.3 L1028.3 743.3 L1028.9 747.3 L1029.3 751.3 L1029.7 755.3 L1030.1 759.3 L1030.5 763.3 L1030.8 767.3 L1031 771.4 L1031.2 775.4 L1031.5 779.4 L1031.8 783.4 L1032.2 787.4 L1032.6 791.4 L1032.8 795.4 L1032.8 799.4 L1032.6 803.4 L1032.2 807.4 L1031.7 811.5 L1031 815.5 L1030.1 819.5 L1029 823.6 L1027.7 827.7 L1026.3 831.8 L1024.8 835.8 L1023.4 839.5 L1022.2 843 L1021 846.2 L1019.7 849.3 L1018.3 852.3 L1016.8 855.6 L1015 858.9 L1013.1 862.2 L1011 865.7 L1008.7 869.2 L1006.1 873 L1002.9 877.2 L999.2 881.9 L995.4 886.7 L991.7 890.9 L988.7 894.3 L986.3 896.6 L984.4 898 L982.7 898.9 L981.1 899.8 L979.3 901 L977.4 902.7 L975.4 904.5 L973.5 906.3 L971.7 908.3 L970 910.4 L968.5 912.6 L967.3 915.1 L966.1 917.6 L964.8 920.1 L963.3 922.4 L961.4 924.6 L959.4 926.6 L957.2 928.6 L955 930.7 L952.6 933.1 L950 935.9 L947.3 938.9 L944.5 942 L941.8 945.1 L939.2 947.8 L936.9 950.2 L934.7 952.5 L932.6 954.5 L930.5 956.5 L928.5 958.5 L926.6 960.5 L924.9 962.4 L923.1 964.2 L921.3 966 L919.2 967.9 L916.7 969.8 L914.1 971.7 L911.3 973.6 L908.5 975.4 L905.8 977.2 L903.1 978.9 L900.4 980.4 L897.8 981.9 L895.1 983.5 L892.4 985.3 L889.7 987.3 L887 989.5 L884.3 991.7 L881.6 993.9 L879.1 996 L876.5 997.7 L874 999.2 L871.5 1000.7 L869.1 1002.2 L867 1004 L865.2 1006 L863.6 1008.4 L862.1 1010.7 L860.6 1012.9 L859 1014.7 L857.3 1015.9 L855.5 1016.8 L853.7 1017.4 L851.8 1018 L849.6 1018.7 L847.3 1019.5 L844.9 1020.3 L842.3 1021.1 L839.4 1021.9 L836.3 1022.7 L832.7 1023.5 L828.7 1024.4 L824.6 1025.2 L820.3 1026 L816.2 1026.7 L812.2 1027.4 L808.2 1028 L804.2 1028.5 L800.2 1029 L796.2 1029.4 L792.2 1029.7 L788.1 1029.9 L784.1 1030 L780.1 1030.1 L776.1 1030 L772.1 1029.9 L768.1 1029.7 L764.1 1029.5 L760.1 1029.1 L756.1 1028.7 L752 1028.1 L748 1027.4 L744 1026.7 L740 1025.9 L736 1025.4 L732 1024.9 L728 1024.6 L724 1024.3 L720 1024.1 L716 1024 L711.9 1024.1 L707.9 1024.4 L703.9 1024.7 L699.9 1025.1 L695.9 1025.4 L691.9 1025.6 L687.9 1025.9 L683.9 1026.2 L679.9 1026.5 L675.8 1026.7 L671.8 1027 L667.8 1027.3 L663.8 1027.6 L659.8 1027.7 L655.8 1027.4 L651.7 1026.6 L647.4 1025.4 L643.3 1024 L639.3 1022.6 L635.7 1021.4 L632.6 1020.2 L629.9 1019.2 L627.4 1018.1 L624.9 1017.1 L622.4 1016 L619.6 1014.9 L616.8 1013.9 L614.1 1012.8 L611.4 1011.7 L609 1010.7 L606.9 1009.6 L605 1008.6 L603.3 1007.5 L601.5 1006.5 L599.6 1005.3 L597.6 1004.1 L595.4 1002.8 L593.2 1001.5 L591 1000.1 L588.9 998.6 L587 997.1 L585.1 995.6 L583.3 994.1 L581.4 992.4 L579.6 990.6 L577.7 988.6 L575.7 986.5 L573.7 984.3 L571.8 982.1 L570.2 979.9 L568.9 977.8 L567.9 975.6 L567 973.5 L566.1 971.4 L564.9 969.2 L563.5 967.1 L562 964.9 L560.4 962.8 L558.7 960.7 L556.9 958.5 L555 956.4 L553 954.4 L551 952.4 L548.7 950.2 L546.2 947.8 L543.2 945.1 L539.9 942.2 L536.4 939.2 L533.1 936.1 L530.1 933.1 L527.6 930.2 L525.4 927.3 L523.4 924.4 L521.4 921.4 L519.4 918.4 L517.4 915.2 L515.5 912 L513.6 908.7 L511.7 905.4 L510.1 902.4 L508.6 899.9 L507.3 897.9 L506.1 895.9 L504.9 893.1 L503.4 889 L501.6 883.1 L499.7 875.7 L497.7 867.8 L495.8 859.9 L494 852.9 L492.5 846.9 L491 841.2 L489.7 835.9 L488.5 830.9 L487.3 826.2 L486.4 821.8 L485.5 818 L484.8 814.3 L484.1 810.4 L483.3 806.1 L482.5 801.1 L481.7 795.6 L480.9 789.9 L480.1 784.4 L479.3 779.4 L478.5 774.9 L477.5 770.9 L476.6 767 L475.9 763.2Z" fill="#fc8c59"/>
<path d="M494 759.3 L493.9 755.3 L494.1 751.2 L494.6 747.1 L495.1 743.1 L495.4 739.3 L495.5 735.6 L495.7 731.9 L495.7 728.4 L495.6 725.1 L495.4 721.9 L494.8 719 L493.9 716.4 L492.9 713.9 L492 711.3 L491.4 708.5 L491 705.5 L490.8 702.5 L490.8 699.3 L490.8 696 L490.7 692.5 L490.6 688.7 L490.6 684.7 L490.5 680.6 L490.4 676.5 L490 672.4 L489.4 668.3 L488.5 664.1 L487.6 659.9 L486.7 656 L486 652.4 L485.4 649.5 L484.6 647.4 L484.1 645.3 L484 642.7 L484.7 639 L486.3 633.6 L488.9 626.7 L491.8 619.6 L494.6 613.1 L496.7 608.3 L498 605.6 L498.8 604.3 L499.4 603.9 L500 603.7 L500.7 602.9 L501.7 601.8 L502.8 600.6 L504 599.4 L505.1 598 L506.1 596.2 L506.9 593.9 L507.6 591.2 L508.3 588.2 L509.1 585.4 L510.1 582.9 L511.2 580.7 L512.4 578.9 L513.8 577.1 L515.2 575.4 L516.8 573.5 L518.5 571.5 L520.4 569.4 L522.4 567.3 L524.4 565.1 L526.1 562.8 L527.6 560.3 L528.9 557.6 L530.1 554.9 L531.3 552.1 L532.8 549.4 L534.5 546.8 L536.4 544.1 L538.4 541.4 L540.3 538.7 L542.2 536.1 L543.8 533.4 L545.4 530.7 L546.9 528 L548.5 525.4 L550.2 522.7 L551.9 520 L553.6 517.2 L555.4 514.5 L557.4 511.8 L559.5 509.3 L562 507 L564.6 504.9 L567.4 502.8 L570.2 500.7 L572.9 498.6 L575.6 496.4 L578.4 494 L581.1 491.6 L583.8 489.6 L586.3 487.9 L588.6 486.8 L590.7 486.1 L592.7 485.7 L594.8 485.4 L597 485.3 L599.3 485.3 L601.6 485.7 L604 486.2 L606.5 486.5 L609 486.6 L611.6 486.3 L614.3 485.9 L617 485.3 L619.7 484.6 L622.4 483.9 L625 483.3 L627.7 482.6 L630.4 481.9 L633.1 481 L635.7 479.9 L638.3 478.5 L640.8 476.7 L643.3 474.9 L646 473.2 L649.1 471.9 L652.8 471 L657 470.3 L661.3 469.9 L665.5 469.5 L669.2 469.2 L672.3 468.9 L675 468.6 L677.5 468.4 L680 468.4 L682.5 468.5 L685.2 468.9 L687.9 469.5 L690.6 470.2 L693.2 471 L695.9 471.9 L698.7 472.8 L701.6 473.8 L704.4 474.8 L707 476 L709.3 477.2 L711 478.7 L712.4 480.3 L713.6 482 L714.7 483.7 L716 485.3 L717.2 486.7 L718.3 488.2 L719.5 489.5 L720.9 490.8 L722.6 491.9 L724.8 492.9 L727.2 493.8 L729.9 494.6 L732.8 495.3 L736 496 L739.6 496.7 L743.5 497.4 L747.7 498 L751.9 498.5 L756.1 498.6 L760.1 498.4 L764.1 497.9 L768.1 497.3 L772.1 496.6 L776.1 496 L780.2 495.5 L784.5 495 L788.6 494.5 L792.6 494 L796.2 493.3 L799.3 492.3 L802 491.1 L804.5 489.9 L807 488.8 L809.5 487.9 L812.2 487.3 L814.9 486.9 L817.6 486.6 L820.2 486.5 L822.9 486.6 L825.6 487 L828.4 487.6 L831.1 488.5 L833.8 489.5 L836.3 490.6 L838.6 492 L840.9 493.5 L843.1 495.2 L845.1 497 L847 498.6 L848.6 500.3 L850 502 L851.3 503.7 L852.5 505.3 L853.7 506.6 L854.7 507.7 L855.6 508.4 L856.5 509.1 L857.6 509.7 L859 510.7 L860.7 511.8 L862.6 513.1 L864.8 514.4 L867.1 515.9 L869.7 517.3 L872.6 518.8 L875.9 520.3 L879.3 521.9 L882.6 523.6 L885.7 525.4 L888.6 527.3 L891.3 529.4 L893.9 531.6 L896.5 533.8 L899.1 536.1 L901.8 538.4 L904.5 540.7 L907.1 543.1 L909.8 545.6 L912.5 548.1 L915.2 550.7 L918 553.3 L920.8 556 L923.4 558.8 L925.8 561.5 L928 564.2 L930 566.9 L931.8 569.6 L933.6 572.2 L935.2 574.8 L936.7 577.3 L938 579.8 L939.2 582.2 L940.5 584.6 L941.9 586.9 L943.4 589.1 L945 591.2 L946.6 593.3 L948.3 595.4 L949.9 597.6 L951.6 599.7 L953.3 601.8 L955 604 L956.6 606.1 L957.9 608.3 L959 610.4 L959.9 612.5 L960.6 614.7 L961.3 616.8 L961.9 618.9 L962.6 621.1 L963.2 623.3 L963.7 625.5 L964.2 627.6 L964.6 629.6 L964.8 631.6 L964.7 633.4 L964.6 635.2 L964.9 637.1 L966 639 L967.9 641 L970.6 643.1 L973.7 645.3 L976.7 647.4 L979.3 649.7 L981.5 651.9 L983.6 654.2 L985.5 656.5 L987.2 659 L988.7 661.7 L989.8 664.8 L990.7 668.2 L991.4 671.7 L992.1 675.4 L992.7 679.1 L993.3 683.1 L993.7 687.3 L994.2 691.5 L994.7 695.5 L995.4 699.2 L996.2 702.3 L997.2 705 L998.3 707.5 L999.5 710 L1000.7 712.5 L1002 715.2 L1003.4 717.9 L1004.9 720.6 L1006.2 723.2 L1007.4 725.9 L1008.5 728.5 L1009.4 730.9 L1010.3 733.4 L1011 736.2 L1011.4 739.3 L1011.4 743 L1011.1 747.1 L1010.6 751.5 L1010.2 755.6 L1010.1 759.3 L1010.3 762.4 L1010.8 765.1 L1011.4 767.7 L1012.1 770.1 L1012.7 772.7 L1013.5 775.4 L1014.3 778 L1015.2 780.7 L1016 783.4 L1016.8 786.1 L1017.5 788.7 L1018.2 791.4 L1018.8 794.1 L1019.3 796.8 L1019.4 799.4 L1019.3 802.1 L1018.8 804.6 L1018.2 807.3 L1017.5 810 L1016.8 812.8 L1016.1 815.9 L1015.4 819.1 L1014.6 822.4 L1013.7 825.7 L1012.7 828.8 L1011.6 831.8 L1010.5 834.8 L1009.1 837.6 L1007.7 840.5 L1006.1 843.5 L1004.1 846.7 L1001.9 849.9 L999.6 853.2 L997.4 856.4 L995.4 859.6 L993.6 862.6 L992 865.6 L990.4 868.5 L988.9 871.4 L987.3 874.3 L985.8 877.3 L984.3 880.4 L982.7 883.5 L981.1 886.4 L979.3 889 L977.3 891.2 L975.1 893.1 L972.8 894.9 L970.6 896.6 L968.6 898.4 L966.9 900.2 L965.2 902 L963.7 903.8 L962.2 905.7 L960.6 907.7 L959 910 L957.4 912.5 L955.8 915 L954.2 917.5 L952.6 919.7 L951 921.7 L949.5 923.6 L948 925.3 L946.3 927.1 L944.6 929.1 L942.6 931.4 L940.3 933.9 L938.1 936.5 L935.9 938.9 L933.9 941.1 L932.1 943 L930.4 944.6 L928.8 946.1 L927.3 947.6 L925.8 949.2 L924.5 950.8 L923.4 952.4 L922.3 954 L920.9 955.6 L919.2 957.2 L916.9 958.8 L914.3 960.5 L911.5 962.1 L908.6 963.7 L905.8 965.2 L903.1 966.6 L900.4 967.9 L897.8 969.2 L895.1 970.5 L892.4 971.9 L889.7 973.4 L886.8 975.1 L884 976.8 L881.4 978.5 L879.1 979.9 L877.1 981.1 L875.4 982 L873.9 983 L872.5 984 L871 985.3 L869.6 986.9 L868.2 988.7 L866.9 990.7 L865.6 992.7 L864.3 994.6 L863.3 996.6 L862.3 998.6 L861.4 1000.5 L860.3 1002.4 L859 1004 L857.4 1005.3 L855.7 1006.5 L853.9 1007.5 L851.8 1008.4 L849.6 1009.3 L847.3 1010.2 L844.9 1011.1 L842.3 1011.9 L839.4 1012.7 L836.3 1013.3 L832.7 1013.9 L828.7 1014.4 L824.6 1014.8 L820.3 1015.1 L816.2 1015.3 L812.2 1015.4 L808.2 1015.3 L804.2 1015.2 L800.2 1014.9 L796.2 1014.7 L792.2 1014.3 L788.1 1013.9 L784.1 1013.5 L780.1 1013 L776.1 1012.7 L772.1 1012.4 L768.1 1012.1 L764.1 1011.9 L760.1 1011.6 L756.1 1011.3 L752 1011 L748 1010.6 L744 1010.2 L740 1009.8 L736 1009.3 L731.9 1008.8 L727.7 1008.3 L723.5 1007.7 L719.5 1007.2 L716 1006.6 L713 1006.1 L710.4 1005.4 L708.1 1004.9 L705.6 1004.3 L702.6 1004 L699 1003.8 L695 1003.8 L690.9 1003.9 L686.6 1004 L682.5 1004 L678.5 1003.9 L674.5 1003.8 L670.5 1003.6 L666.5 1003.3 L662.5 1002.6 L658.5 1001.6 L654.5 1000.3 L650.4 998.9 L646.4 997.4 L642.4 996 L638.3 994.6 L634.1 993.2 L629.9 991.8 L626 990.5 L622.4 989.3 L619.2 988.1 L616.3 987.1 L613.7 986.1 L611.3 985.1 L609 983.9 L606.9 982.7 L605 981.5 L603.3 980.3 L601.5 978.9 L599.6 977.2 L597.6 975.4 L595.4 973.2 L593.2 971 L591 968.7 L588.9 966.5 L587 964.4 L585.2 962.4 L583.5 960.3 L581.6 958.2 L579.6 955.8 L577.3 953.3 L574.8 950.7 L572.3 948 L569.8 945.2 L567.6 942.5 L565.6 939.8 L563.7 937.1 L562 934.5 L560.2 931.8 L558.2 929.1 L556 926.4 L553.6 923.6 L551.2 920.9 L548.7 918.2 L546.2 915.7 L543.5 913.5 L540.7 911.5 L537.9 909.6 L535.2 907.5 L532.8 905 L530.6 902.2 L528.6 899 L526.8 895.7 L525.1 892.3 L523.4 889 L521.9 885.9 L520.6 882.8 L519.3 879.7 L518 876.4 L516.8 873 L515.4 869.2 L514 865.2 L512.6 861.1 L511.3 857 L510.1 852.9 L508.8 848.8 L507.5 844.6 L506.3 840.4 L505.3 836.4 L504.7 832.9 L504.6 829.9 L505 827.3 L505.5 825 L505.9 822.5 L506.1 819.5 L505.8 815.9 L505.3 811.9 L504.7 807.8 L504.1 803.5 L503.4 799.4 L502.7 795.4 L501.9 791.4 L501.1 787.4 L500.3 783.4 L499.4 779.4 L498.3 775.4 L497 771.4 L495.7 767.3 L494.7 763.3Z" fill="#fdaf79"/>
<path d="M531.5 889 L529.9 884.9 L528.2 878.9 L526.5 872.1 L524.9 865.3 L523.4 859.6 L522.1 854.9 L520.9 850.6 L519.7 846.6 L518.8 843 L518.1 839.5 L517.8 836.5 L518 834 L518.2 831.7 L518.3 829.2 L518.1 826.2 L517.4 822.7 L516.4 818.9 L515.2 814.9 L514 810.7 L512.7 806.1 L511.4 801.1 L510 795.6 L508.6 789.9 L507.2 784.4 L506.1 779.4 L505.1 774.8 L504.3 770.6 L503.6 766.5 L503 762.8 L502.7 759.3 L502.7 756.4 L503 754.1 L503.4 751.9 L503.8 749.4 L504.1 746 L504.1 741.4 L504 735.9 L503.9 730.1 L503.7 724.3 L503.4 719.2 L502.9 714.8 L502.3 710.7 L501.7 706.9 L501.1 703.1 L500.7 699.2 L500.6 695 L500.6 690.8 L500.8 686.6 L500.8 682.7 L500.7 679.1 L500.4 676.1 L500 673.5 L499.4 671.1 L498.8 668.6 L498 665.7 L497 662.6 L495.6 659.3 L494.2 655.8 L493.1 651.8 L492.7 647 L493 640.8 L493.9 633.2 L495.2 625.5 L496.6 618.6 L498 613.6 L499.5 611.1 L501.1 610.3 L502.8 610.5 L504.5 611 L506.1 610.9 L507.5 610.5 L508.9 610.1 L510.2 609.7 L511.5 609.1 L512.7 608.3 L513.9 607 L514.9 605.6 L515.9 603.9 L517 602.1 L518.1 600.2 L519.3 598.2 L520.7 596.1 L522 593.8 L523.4 591.6 L524.8 589.5 L526.1 587.5 L527.4 585.6 L528.7 583.7 L530 581.9 L531.5 580.2 L532.9 578.7 L534.3 577.3 L535.8 576 L537.5 574.8 L539.5 573.5 L541.8 572.1 L544.4 570.7 L547.2 569.3 L550.1 568 L552.9 566.8 L555.5 565.8 L558.2 565 L560.9 564.3 L563.5 563.6 L566.2 562.8 L568.9 561.9 L571.6 560.9 L574.2 559.9 L576.9 559.2 L579.6 558.8 L582.2 558.9 L584.8 559.5 L587.4 560.3 L590.1 561 L593 561.5 L596.1 561.7 L599.6 562 L603 562.1 L606.3 561.9 L609 561.5 L611.1 560.5 L612.7 559.2 L614.1 557.7 L615.5 556.1 L617 554.8 L618.7 553.5 L620.3 552.2 L622.1 550.9 L624.1 550 L626.4 549.4 L629.2 549.4 L632.5 549.9 L636 550.6 L639.4 551.4 L642.4 552.1 L645.1 552.9 L647.5 553.9 L649.8 554.8 L652.1 555.4 L654.5 555.4 L656.9 554.7 L659.3 553.3 L661.7 551.6 L664.1 549.8 L666.5 548.1 L668.9 546.5 L671.2 544.7 L673.6 543 L676 541.4 L678.5 540.1 L681 539 L683.6 538.1 L686.2 537.4 L688.9 536.7 L691.9 536.1 L695.1 535.4 L698.4 534.8 L701.9 534.2 L705.6 533.8 L709.3 533.4 L713.1 533.1 L717.1 533 L721.2 532.9 L725.3 532.8 L729.3 532.7 L733.4 532.6 L737.7 532.6 L741.8 532.6 L745.8 532.4 L749.4 532 L752.5 531.5 L755.2 530.7 L757.7 529.9 L760.2 528.9 L762.7 528 L765.4 527 L768.1 525.9 L770.8 524.8 L773.4 523.9 L776.1 523.4 L778.8 523.3 L781.5 523.6 L784.1 524.1 L786.8 524.7 L789.5 525.4 L792.2 526.1 L794.8 527 L797.5 528 L800.2 528.8 L802.9 529.4 L805.5 529.6 L808.2 529.7 L810.9 529.6 L813.5 529.4 L816.2 529.4 L819 529.3 L821.8 529.1 L824.5 528.9 L827.2 528.9 L829.6 529.4 L831.7 530.3 L833.6 531.7 L835.3 533.3 L837.1 534.8 L838.9 536.1 L841 537 L843.2 537.9 L845.4 538.6 L847.6 539.3 L849.6 540.1 L851.5 540.9 L853.3 541.6 L855 542.4 L856.9 543.2 L859 544.1 L861.4 545 L864.1 545.9 L866.8 546.8 L869.6 548 L872.4 549.4 L875 551.3 L877.7 553.4 L880.4 555.7 L883.1 558 L885.7 560.1 L888.4 562 L891.1 563.7 L893.8 565.4 L896.4 567.1 L899.1 568.8 L901.8 570.5 L904.5 572.2 L907.1 573.9 L909.8 575.6 L912.5 577.5 L915.1 579.5 L917.8 581.6 L920.5 583.7 L923.2 585.9 L925.8 588.2 L928.6 590.6 L931.3 593.1 L934.1 595.6 L936.7 598.1 L939.2 600.2 L941.6 602 L943.9 603.6 L946 605 L948.1 606.5 L949.9 608.3 L951.6 610.2 L953.1 612.3 L954.5 614.5 L955.7 616.8 L956.6 618.9 L957.3 621.1 L957.7 623.3 L957.9 625.5 L958 627.6 L957.9 629.6 L957.5 631.5 L956.8 633.3 L955.9 635 L955.3 636.9 L955.3 639 L955.8 641.5 L956.8 644.3 L958.1 647.1 L959.4 649.9 L960.6 652.4 L961.7 654.5 L962.7 656.3 L963.7 658.1 L964.8 659.8 L966 661.7 L967.3 663.8 L968.7 665.9 L970.1 668.1 L971.5 670.3 L972.6 672.4 L973.6 674.6 L974.6 676.8 L975.4 678.9 L975.9 681.1 L976 683.1 L975.6 685.1 L974.7 687 L973.6 688.9 L972.4 690.7 L971.3 692.5 L970.2 694.2 L968.9 695.9 L967.6 697.5 L966.6 699.1 L966 700.5 L965.6 701.8 L965.5 703 L965.7 704 L966.2 705 L967.3 705.8 L969 706.4 L971.4 706.6 L974.1 706.8 L976.8 707.3 L979.3 708.5 L981.6 710.5 L983.9 713.1 L986.1 716 L988.2 719 L990 721.9 L991.7 724.6 L993.2 727.4 L994.5 730.1 L995.7 732.8 L996.7 735.3 L997.6 737.5 L998.3 739.6 L998.9 741.6 L999.2 743.7 L999.4 746 L999.2 748.5 L998.6 751.1 L997.9 753.8 L997.2 756.6 L996.7 759.3 L996.2 762 L995.7 764.8 L995.4 767.5 L995.2 770.2 L995.4 772.7 L996 775.1 L997 777.4 L998.2 779.5 L999.4 781.5 L1000.7 783.4 L1002 784.9 L1003.5 786.2 L1004.9 787.4 L1006.3 788.6 L1007.4 790.1 L1008.3 791.7 L1009.1 793.6 L1009.8 795.5 L1010.1 797.4 L1010.1 799.4 L1009.5 801.4 L1008.4 803.5 L1007.1 805.6 L1005.8 807.8 L1004.7 810.1 L1003.8 812.7 L1003 815.4 L1002.3 818.2 L1001.5 820.9 L1000.7 823.5 L1000 825.8 L999.3 827.8 L998.6 829.8 L997.8 831.9 L996.7 834.2 L995.3 836.7 L993.7 839.4 L991.9 842.2 L990.2 844.9 L988.7 847.6 L987.4 850 L986.3 852.4 L985.2 854.7 L984.3 857.1 L983.3 859.6 L982.6 862.1 L982 864.7 L981.3 867.4 L980.5 870.1 L979.3 873 L977.5 876.1 L975.3 879.6 L972.9 883.1 L970.6 886.3 L968.6 889 L967 890.9 L965.7 892.2 L964.4 893.3 L963.2 894.3 L961.9 895.7 L960.6 897.4 L959.3 899.2 L958 901.1 L956.7 903 L955.3 905 L953.7 907.1 L952.1 909.2 L950.5 911.4 L948.9 913.6 L947.2 915.7 L945.7 917.9 L944.1 920 L942.5 922.1 L940.9 924.2 L939.2 926.4 L937.4 928.8 L935.5 931.3 L933.6 933.8 L931.7 936.2 L929.9 938.5 L928.1 940.6 L926.5 942.5 L924.9 944.4 L923.3 946.2 L921.8 947.8 L920.5 949.4 L919.3 950.8 L918.1 952.1 L916.8 953.3 L915.1 954.5 L913.1 955.6 L910.8 956.6 L908.3 957.6 L905.7 958.6 L903.1 959.9 L900.5 961.3 L897.8 962.9 L895.1 964.6 L892.4 966.3 L889.7 967.9 L887.2 969.3 L884.7 970.6 L882.3 972 L879.9 973.2 L877.7 974.6 L875.6 975.9 L873.5 977.2 L871.5 978.5 L869.8 979.8 L868.4 981.2 L867.5 982.8 L867 984.4 L866.7 986.1 L866.4 987.7 L865.7 989.3 L864.6 990.7 L863.4 992 L862.1 993.2 L860.6 994.6 L859 996 L857.4 997.5 L855.6 999.3 L853.8 1001 L851.8 1002.6 L849.6 1004 L847.2 1005.1 L844.6 1006.1 L841.8 1007 L839 1007.6 L836.3 1008 L833.6 1008.1 L830.9 1008 L828.3 1007.6 L825.6 1007.2 L822.9 1006.6 L820.2 1006 L817.6 1005.2 L814.9 1004.4 L812.2 1003.5 L809.5 1002.6 L806.9 1001.9 L804.2 1001.2 L801.5 1000.4 L798.8 999.6 L796.2 998.6 L793.4 997.5 L790.7 996.3 L788 994.9 L785.3 993.5 L782.8 991.9 L780.5 990.3 L778.3 988.5 L776.2 986.6 L774.1 984.6 L772.1 982.6 L770.1 980.6 L768.1 978.5 L766.2 976.3 L764.4 974.1 L762.7 971.9 L761.2 969.5 L759.7 967.1 L758.3 964.6 L757.1 962.2 L756.1 959.9 L755.2 957.8 L754.6 955.9 L754.1 954 L753.7 951.9 L753.4 949.2 L753.1 945.7 L753 941.6 L752.9 937.3 L752.8 933 L752.7 929.1 L752.8 925.4 L753 921.8 L753.1 918.4 L752.9 915.4 L752 913.1 L750.3 911.5 L747.9 910.7 L745.1 910.2 L742.3 909.7 L740 909.1 L738.2 908 L736.5 906.8 L735 905.5 L733.5 904.5 L732 903.7 L730.3 903.2 L728.6 902.9 L726.8 902.8 L725.3 903 L724 903.7 L723 904.9 L722.2 906.6 L721.6 908.6 L721.1 910.8 L720.6 913.1 L720.1 915.5 L719.6 918.3 L719.1 921.1 L718.8 923.9 L718.6 926.4 L718.6 928.7 L718.7 930.8 L719 932.9 L719.4 934.9 L720 937.1 L720.8 939.5 L721.9 942 L723.1 944.5 L724.3 946.9 L725.3 949.2 L726.1 951.3 L726.8 953.4 L727.4 955.4 L728.2 957.1 L729.3 958.5 L731 959.4 L733.1 959.9 L735.3 960.2 L737.2 960.5 L738.7 961.2 L739.7 962.3 L740.4 963.8 L740.7 965.3 L740.6 966.7 L740 967.9 L738.6 968.7 L736.5 969.2 L734.1 969.7 L731.6 970.1 L729.3 970.6 L727.4 971.1 L725.5 971.6 L723.6 972.2 L721.8 972.7 L720 973.2 L718.1 973.8 L716.2 974.5 L714.3 975.1 L712.4 975.6 L710.6 975.9 L709 975.9 L707.6 975.8 L706.1 975.5 L704.5 975.1 L702.6 974.6 L700.2 973.9 L697.5 973.1 L694.6 972.2 L691.8 971.3 L689.2 970.6 L686.9 969.9 L684.7 969.2 L682.6 968.5 L680.5 968.1 L678.5 967.9 L676.5 968 L674.6 968.4 L672.6 969 L670.8 969.5 L669.2 969.9 L667.8 970.2 L666.6 970.7 L665.5 971 L664.2 971 L662.5 970.6 L660.2 969.4 L657.6 967.7 L654.8 965.8 L651.9 964 L649.1 962.5 L646.4 961.5 L643.8 960.7 L641.1 960 L638.4 959.5 L635.7 959.2 L633.1 959.1 L630.4 959.1 L627.7 959.3 L625 959.6 L622.4 959.9 L619.5 960.2 L616.4 960.7 L613.4 961.1 L610.8 961.3 L609 961.2 L608.2 960.6 L608.3 959.5 L608.7 958.3 L609.1 957 L609 955.8 L608.4 954.9 L607.5 954 L606.4 953 L605.1 951.9 L603.7 950.5 L601.8 948.7 L599.7 946.7 L597.4 944.4 L595.1 942.1 L593 939.8 L591 937.5 L589.2 935.1 L587.4 932.6 L585.5 930.2 L583.6 927.8 L581.6 925.3 L579.5 922.8 L577.4 920.4 L575.2 918 L572.9 915.7 L570.4 913.7 L567.7 911.8 L565 910 L562.3 908.2 L559.5 906.4 L556.8 904.5 L553.9 902.6 L551.1 900.7 L548.5 898.8 L546.2 897 L544.2 895.2 L542.5 893.3 L541 891.6 L539.6 890.1 L538.1 889 L536.7 889 L535.4 889.8 L534.2 890.7 L532.9 890.8Z" fill="#fdc690"/>
<path d="M546.2 889 L544.2 885.9 L542.4 881.4 L540.9 876.3 L539.5 871 L538.1 866.3 L536.8 862 L535.6 857.7 L534.5 853.6 L533.6 849.8 L532.8 846.2 L532.3 843.1 L531.9 840.4 L531.7 837.9 L531.6 835.4 L531.5 832.9 L531.5 830.3 L531.6 827.8 L531.8 825.3 L531.8 822.6 L531.5 819.5 L530.7 815.9 L529.7 811.9 L528.5 807.8 L527.3 803.5 L526.1 799.4 L525 795.4 L523.9 791.4 L522.8 787.4 L521.7 783.4 L520.8 779.4 L519.8 775.3 L518.9 771 L518.1 766.9 L517.3 762.9 L516.8 759.3 L516.4 756.3 L516.3 753.8 L516.3 751.5 L516.3 748.9 L516.1 746 L515.7 742.4 L515.3 738.4 L514.8 734.2 L514.3 730 L514.1 725.9 L514.1 721.9 L514.3 717.9 L514.5 713.9 L514.7 709.9 L514.7 705.8 L514.6 701.7 L514.4 697.6 L514 693.4 L513.5 689.5 L512.7 685.8 L511.2 682.8 L508.9 680.4 L506.7 678 L505.5 675.1 L506.1 671.1 L509.3 665.4 L514.6 658.4 L520.7 651 L526.3 644.2 L530.1 639 L531.8 635.7 L532.3 633.6 L532 632.2 L531.6 631.1 L531.5 629.6 L531.7 628 L531.8 626.3 L532 624.8 L532.3 623.2 L532.8 621.6 L533.6 620.1 L534.6 618.5 L535.8 617 L537 615.4 L538.1 613.6 L539.1 611.6 L540.1 609.4 L541.1 607.1 L542.2 604.9 L543.5 602.9 L545 601.1 L546.8 599.4 L548.6 597.9 L550.7 596.4 L552.9 594.9 L555.3 593.4 L557.9 592 L560.7 590.6 L563.5 589.3 L566.2 588.2 L568.9 587.2 L571.6 586.3 L574.2 585.5 L576.9 584.8 L579.6 584.2 L582.2 583.7 L584.8 583.3 L587.4 583.1 L590.1 582.9 L593 582.9 L596.1 582.9 L599.6 583.1 L603.1 583.4 L606.3 583.8 L609 584.2 L610.9 584.6 L612.3 585 L613.5 585.4 L614.5 586 L615.7 586.9 L617 587.9 L618.4 589.1 L619.7 590.5 L621 592 L622.4 593.5 L623.7 595.4 L624.9 597.4 L626.2 599.5 L627.5 601.4 L629.1 602.9 L630.8 603.8 L632.7 604.3 L634.6 604.6 L636.6 605 L638.4 605.6 L640.1 606.5 L641.8 607.5 L643.5 608.7 L645 609.8 L646.4 610.9 L647.7 612.1 L648.8 613.4 L649.9 614.6 L650.8 615.6 L651.8 616.3 L652.7 616.6 L653.6 616.6 L654.5 616.4 L655.2 615.8 L655.8 614.9 L656.1 613.6 L656.2 611.7 L656.3 609.6 L656.3 607.5 L656.5 605.6 L656.7 603.9 L656.9 602.3 L657.3 600.7 L657.7 599.1 L658.5 597.6 L659.5 596 L660.8 594.4 L662.3 592.8 L663.7 591.2 L665.1 589.5 L666.6 587.7 L668.1 585.8 L669.5 583.9 L670.8 582 L671.8 580.2 L672.4 578.5 L672.6 576.9 L672.7 575.3 L672.8 573.7 L673.2 572.2 L673.8 570.5 L674.5 568.8 L675.3 567.1 L676.2 565.6 L677.2 564.1 L678.4 562.9 L679.7 561.9 L681.2 560.9 L682.6 559.9 L683.9 558.8 L684.9 557.5 L685.7 556.2 L686.6 554.8 L687.7 553.5 L689.2 552.1 L691.4 550.7 L694 549.3 L696.9 547.9 L699.8 546.6 L702.6 545.4 L705.3 544.4 L707.9 543.5 L710.6 542.7 L713.3 542 L716 541.4 L718.6 540.9 L721.3 540.5 L724 540.2 L726.6 540 L729.3 540.1 L732 540.3 L734.7 540.9 L737.3 541.5 L740 542.1 L742.7 542.7 L745.4 543.3 L748 544 L750.7 544.6 L753.4 545.1 L756.1 545.4 L758.7 545.4 L761.4 545.2 L764.1 544.8 L766.8 544.4 L769.4 544.1 L772.1 543.7 L774.8 543.3 L777.4 542.9 L780.1 542.7 L782.8 542.7 L785.5 543.2 L788.1 544 L790.8 545 L793.5 546 L796.2 546.8 L798.8 547.4 L801.5 547.9 L804.2 548.4 L806.9 548.9 L809.5 549.4 L812.2 550 L814.9 550.5 L817.6 551 L820.2 551.6 L822.9 552.1 L825.6 552.6 L828.3 553.1 L830.9 553.6 L833.6 554.2 L836.3 554.8 L839 555.5 L841.8 556.3 L844.6 557.1 L847.2 558 L849.6 558.8 L851.7 559.6 L853.5 560.4 L855.2 561.2 L856.9 562 L859 562.8 L861.4 563.5 L864.1 564.1 L866.8 564.8 L869.6 565.7 L872.4 566.8 L875 568.4 L877.7 570.3 L880.4 572.4 L883.1 574.4 L885.7 576.2 L888.4 577.7 L891.1 579 L893.8 580.3 L896.4 581.6 L899.1 582.9 L901.8 584.2 L904.5 585.5 L907.1 586.8 L909.8 588.1 L912.5 589.5 L915.1 591 L917.8 592.6 L920.5 594.2 L923.2 595.8 L925.8 597.6 L928.6 599.3 L931.3 601.2 L934.1 603.1 L936.7 605 L939.2 606.9 L941.6 608.8 L944 610.7 L946.2 612.6 L948.2 614.5 L949.9 616.3 L951.2 617.9 L952.2 619.5 L952.9 621.1 L953.5 622.6 L953.9 624.3 L954.2 626.1 L954.3 628.1 L954.3 630.1 L954.2 632 L953.9 633.7 L953.4 634.7 L952.6 635.4 L951.8 636 L951.2 637.1 L951.2 639 L952 642.2 L953.2 646.3 L954.8 650.8 L956.4 655.2 L957.9 659.1 L959.3 662.2 L960.8 665 L962.2 667.6 L963.5 670 L964.6 672.4 L965.6 674.8 L966.4 677 L967.1 679.2 L967.4 681.2 L967.3 683.1 L966.6 684.9 L965.3 686.6 L963.7 688.2 L962.1 689.7 L960.6 691.1 L959.2 692.5 L957.7 693.8 L956.2 695.1 L954.9 696.4 L953.9 697.8 L953.2 699.3 L952.6 700.9 L952.2 702.6 L952.2 704.2 L952.6 705.8 L953.5 707.5 L954.9 709.2 L956.7 710.9 L958.6 712.5 L960.6 713.9 L962.8 714.9 L965.3 715.6 L967.8 716.2 L970.3 716.9 L972.6 717.9 L974.7 719.1 L976.6 720.5 L978.5 722.1 L980.3 723.9 L982 725.9 L983.8 728.3 L985.6 731.2 L987.3 734.1 L988.8 736.9 L990 739.3 L991 740.9 L991.7 742.1 L992.2 743.1 L992.5 744.3 L992.7 746 L992.7 748.3 L992.6 751.1 L992.3 754 L991.9 756.9 L991.4 759.3 L990.7 761.2 L989.7 762.8 L988.8 764.2 L987.9 765.7 L987.3 767.3 L987 769.4 L986.7 771.6 L986.6 773.8 L986.8 776 L987.3 778 L988.5 779.8 L990 781.3 L991.9 782.8 L993.7 784.3 L995.4 786.1 L997 788 L998.6 790.1 L1000.2 792.3 L1001.4 794.6 L1002 796.8 L1001.9 798.9 L1001.1 801.2 L1000.1 803.4 L998.9 805.5 L998 807.4 L997.4 809.1 L996.9 810.6 L996.4 812 L995.9 813.6 L995.4 815.5 L994.9 817.8 L994.6 820.4 L994.1 823.2 L993.6 826.1 L992.7 828.8 L991.4 831.6 L989.7 834.3 L987.9 837.1 L986.2 839.7 L984.7 842.2 L983.4 844.5 L982.2 846.6 L981.1 848.6 L980.2 850.6 L979.3 852.9 L978.6 855.4 L978.1 858.1 L977.7 860.8 L977.2 863.6 L976.6 866.3 L976.1 869 L975.5 871.8 L974.9 874.6 L974 877.2 L972.6 879.6 L970.7 881.7 L968.2 883.5 L965.5 885.2 L962.9 886.9 L960.6 889 L958.8 891.4 L957.2 894.1 L955.7 896.8 L954.2 899.6 L952.6 902.4 L950.8 905.1 L948.9 907.8 L946.9 910.5 L945 913.1 L943.2 915.7 L941.6 918.3 L940 920.7 L938.4 923.1 L936.9 925.5 L935.2 927.8 L933.5 930 L931.7 932 L929.9 934.1 L928 936.2 L925.8 938.5 L923.4 941.1 L920.8 944 L918 946.9 L915.2 949.6 L912.5 951.8 L909.8 953.4 L907.1 954.4 L904.5 955.2 L901.8 956 L899.1 957.2 L896.4 958.7 L893.6 960.5 L890.8 962.4 L888.2 964.3 L885.7 965.9 L883.6 967.2 L881.7 968.4 L879.9 969.5 L878.2 970.6 L876.4 971.9 L874.5 973.4 L872.6 975.1 L870.7 976.8 L868.8 978.4 L867 979.9 L865.4 981.1 L863.8 982 L862.2 983 L860.7 984 L859 985.3 L857.3 986.9 L855.5 988.9 L853.7 991 L851.8 992.9 L849.6 994.6 L847.2 996 L844.6 997.4 L841.8 998.5 L839 999.4 L836.3 1000 L833.6 1000.2 L830.9 1000 L828.3 999.7 L825.6 999.2 L822.9 998.6 L820.2 998 L817.6 997.3 L814.9 996.5 L812.2 995.6 L809.5 994.6 L806.9 993.5 L804.2 992.2 L801.5 990.8 L798.8 989.4 L796.2 987.9 L793.5 986.5 L790.8 984.9 L788.1 983.4 L785.5 981.7 L782.8 979.9 L780 978 L777.2 976 L774.4 973.8 L771.8 971.6 L769.4 969.2 L767.4 966.7 L765.5 964.1 L763.9 961.3 L762.5 958.6 L761.4 955.8 L760.7 953.2 L760.3 950.5 L760.1 947.8 L760.1 945.1 L760.1 942.5 L760.1 939.8 L760.3 937.3 L760.6 934.6 L761 932 L761.4 929.1 L762 925.9 L762.9 922.3 L763.7 918.7 L764.2 915.5 L764.1 913.1 L763.2 911.5 L761.9 910.7 L760.2 910.2 L758.2 909.7 L756.1 909.1 L753.7 908.1 L751.1 907.1 L748.3 906 L745.4 904.9 L742.7 903.7 L740 902.4 L737.3 900.9 L734.7 899.5 L732 898.1 L729.3 897 L726.6 896.2 L724 895.5 L721.3 894.9 L718.6 894.6 L716 894.3 L713.3 894.4 L710.6 894.6 L707.9 895 L705.3 895.4 L702.6 895.7 L699.7 895.8 L696.7 895.7 L693.8 895.7 L691.2 896.1 L689.2 897 L688 898.8 L687.4 901.1 L687.1 903.8 L686.9 906.6 L686.5 909.1 L686.1 911.3 L685.7 913.6 L685.3 915.8 L684.7 917.8 L683.9 919.7 L682.7 921.6 L681.3 923.4 L679.7 925 L677.9 926.3 L675.8 927.1 L673.5 927.2 L670.9 926.7 L668.1 926 L665.2 925.3 L662.5 925.1 L659.8 925.3 L657.1 925.8 L654.5 926.5 L651.8 927.2 L649.1 927.8 L646.4 928.4 L643.8 929.2 L641.1 929.9 L638.4 930.3 L635.7 930.4 L633.1 930.1 L630.4 929.4 L627.7 928.4 L625 927.4 L622.4 926.4 L619.5 925.5 L616.4 924.4 L613.4 923.4 L610.8 922.4 L609 921.8 L608.3 921.4 L608.5 921.4 L609 921.5 L609.4 921.5 L609 921.1 L607.8 920.4 L606.1 919.5 L604.1 918.5 L601.9 917.2 L599.6 915.7 L597.2 913.9 L594.6 911.8 L591.8 909.5 L589 907.2 L586.3 905 L583.6 903 L580.9 901.1 L578.3 899.2 L575.6 897.4 L572.9 895.7 L570.2 894.1 L567.6 892.5 L564.9 891.1 L562.2 889.9 L559.5 889 L556.8 888.9 L553.9 889.6 L551.1 890.3 L548.5 890.3Z" fill="#fdd8a6"/>
<path d="M690 575 L682.7 585.1 L676.3 591.5 L671.5 599.5 L665.1 604.3 L662.7 613.2 L662.7 629.2 L661.1 641.2 L658.7 653.3 L655.5 662.9 L648.3 666.9 L636.2 666.9 L625 667.7 L619 665.3 L620.2 658.9 L624.2 653.3 L627.4 645.2 L630.6 638 L629.8 634 L624.2 628.4 L617 622 L609.8 614.8 L602.6 607.6 L596.1 602.3 L588.1 603.5 L578.5 607.6 L570.5 614 L562.5 622 L556 627.6 L552.8 638 L550.4 645.2 L542.3 651.1 L526.2 647.1 L510.4 644.7 L510.3 643.7 L510.2 643.4 L510.2 643.2 L510.1 642.9 L510 642.7 L509.8 642.5 L509.7 642.3 L509.5 642.1 L509.3 641.9 L509.1 641.8 L508.9 641.7 L508.6 641.6 L508.4 641.5 L505.3 640.7 L502.8 639.7 L497 632 L498 623.9 L498.5 623.7 L498.7 623.6 L498.9 623.4 L499.1 623.3 L499.3 623.1 L499.4 622.9 L499.5 622.7 L499.7 622.4 L499.7 622.2 L499.8 622 L499.8 621.7 L499.9 621.5 L499.8 621.2 L499.8 621 L499 617 L498.9 616.5 L499 616 L498.8 615.7 L498.2 611.5 L498.2 611.2 L498.1 611 L498 610.8 L497.9 610.5 L497.8 610.3 L495.4 607.1 L495.2 606.9 L495 606.8 L494.8 606.6 L494.6 606.5 L494.4 606.3 L494.1 606.3 L494 606 L488 606 L487.4 607.9 L487.4 607.9 L487.2 608.1 L487.1 608.3 L487 608.6 L486.9 608.8 L486.5 610.5 L485 615 L486 630 L487.3 636.7 L487.2 638.1 L487.2 638.4 L487.3 638.7 L487.3 638.9 L488.5 643.7 L488.6 644 L488.7 644.3 L488.9 644.5 L488.9 644.6 L489 645 L494 654 L500 664 L502.4 666.4 L503.3 667.8 L503.4 668 L503.6 668.1 L506.8 671.3 L507 671.5 L507.2 671.6 L507.4 671.8 L507.6 671.9 L507.8 672 L508 672 L516 688 L530 697 L545 708 L553.6 715 L552 727 L548 739 L544 751 L539.5 759.3 L540.8 772.7 L539.5 783.4 L538.1 806.1 L552.9 811.5 L567.6 808.8 L572.9 816.8 L574.1 832.1 L573.5 832.8 L573.3 833 L573.2 833.2 L573.1 833.4 L573 833.6 L572.9 833.8 L572.8 834.1 L572.8 834.3 L572.8 834.6 L572.8 834.8 L572.8 835.1 L572.9 835.3 L573 835.5 L573.1 835.8 L573.2 836 L573.4 836.2 L573.6 836.3 L573.7 836.5 L573.8 836.5 L572.1 851.4 L571.3 861 L574.5 866.7 L581.7 869.1 L588.1 873.1 L596.1 878.7 L604.2 882.7 L616.2 887.5 L628.2 892.3 L640.2 896.3 L652.3 898.7 L664.3 897.1 L676.3 894.7 L680 892.8 L680.3 894.3 L680.3 894.5 L680.4 894.8 L680.5 895 L680.6 895.2 L680.8 895.4 L680.9 895.6 L681.1 895.8 L681.3 895.9 L681.5 896.1 L681.7 896.2 L681.9 896.3 L682.2 896.4 L682.4 896.4 L682.7 896.4 L682.9 896.4 L683.2 896.4 L683.4 896.3 L683.6 896.2 L683.9 896.1 L684.1 896 L684.3 895.9 L684.5 895.7 L684.6 895.5 L684.8 895.3 L684.9 895.1 L685 894.9 L687.4 889.3 L687.5 889.1 L687.6 888.9 L690 887.5 L698 885.9 L706 887.5 L718.1 888.7 L730.1 889.9 L738.1 892.3 L746.1 897.1 L754.2 900.3 L762.2 901.1 L767 906 L770.2 913.2 L769.4 921.2 L766.2 929.2 L762.2 935.6 L760.6 945.2 L759.8 953.3 L762.2 958.9 L762.2 958.9 L762.3 959.1 L762.4 959.3 L762.5 959.5 L762.7 959.7 L762.9 959.9 L763.1 960.1 L766.3 962.5 L766.5 962.6 L766.8 962.8 L767.3 963 L770.2 965.3 L778.2 967.7 L786.2 969.3 L794.3 970.1 L802.3 972.5 L810.3 976.5 L818.3 978.1 L826.3 980.5 L834.3 982.9 L840 980 L848 971.7 L856 966.9 L864.1 965.3 L863.9 964.7 L866.1 965.6 L867.4 968.6 L867.5 968.8 L867.6 969.1 L867.7 969.2 L867.9 969.4 L868 969.6 L868.2 969.7 L868.4 969.9 L868.7 970 L868.9 970.1 L873.7 971.7 L873.9 971.7 L874.2 971.8 L874.5 971.8 L874.7 971.8 L875 971.7 L875.2 971.7 L875.5 971.6 L881.1 969.2 L881.3 969.1 L881.5 968.9 L887.2 964.9 L887.3 964.8 L893 960 L893.2 959.7 L898.8 953.4 L903.1 949.1 L905.6 948.3 L909.4 949.9 L914 952.9 L914.1 953 L918.1 955.4 L918.3 955.5 L918.5 955.6 L918.8 955.7 L919 955.7 L919.2 955.8 L919.5 955.8 L919.7 955.7 L922.9 955.3 L923.2 955.3 L923.4 955.2 L923.6 955.1 L923.8 955 L924 954.9 L924.2 954.7 L924.4 954.6 L924.6 954.4 L924.7 954.2 L924.8 954 L924.9 953.7 L925 953.5 L925.1 953.3 L925.1 953 L925.1 952.8 L925.1 952.5 L925 952.3 L925 952 L924.9 951.8 L924.8 951.6 L924.6 951.4 L924.5 951.2 L921.3 947.6 L918.9 944.6 L919.3 942.2 L922.2 937.9 L926.1 933.2 L926.2 933.2 L929.4 929.2 L929.5 929 L929.6 928.8 L929.7 928.6 L929.8 928.3 L929.9 928.1 L929.9 927.9 L930.6 921.7 L933.7 919.2 L938.4 916 L938.6 915.9 L938.8 915.7 L939 915.6 L939.1 915.4 L939.2 915.2 L939.3 915 L941.5 909.8 L945.2 906.1 L948.4 902.9 L948.6 902.7 L948.7 902.5 L948.9 902.3 L949 902.1 L949.1 901.8 L949.1 901.6 L949.1 901.3 L949.5 896.5 L949.6 896.3 L949.5 896.1 L949.5 895.8 L949.5 895.6 L948.3 891.7 L947.7 888.7 L949.5 885.1 L953.7 881.5 L959.1 878.4 L959.3 878.3 L959.5 878.2 L959.7 878 L959.9 877.8 L960 877.6 L960.1 877.4 L961.4 874.8 L964.5 873 L970.5 871.5 L970.8 871.4 L971 871.3 L971.2 871.2 L971.4 871.1 L971.6 870.9 L971.8 870.7 L971.9 870.6 L974.3 867.4 L974.5 867.2 L974.6 866.9 L974.7 866.7 L974.7 866.5 L974.8 866.3 L974.8 866 L974.8 865.8 L974.8 865.5 L974.5 863 L975.8 859.6 L975.9 859.3 L976 859.1 L976 858.9 L976 858.6 L976 858.4 L976 858.1 L975.9 857.9 L975.8 857.7 L973.9 852.9 L972.4 848.6 L972.4 845.1 L973.2 838.2 L974.5 833.8 L977.5 831.9 L983.8 828.8 L993.7 824.5 L993.9 824.4 L994.1 824.2 L994.3 824.1 L994.5 823.9 L994.7 823.7 L994.8 823.5 L994.9 823.3 L995 823.1 L995.1 822.8 L995.2 822.6 L995.2 822.4 L995.2 822.1 L995.2 821.9 L995.1 821.6 L995.1 821.4 L995 821.1 L994.8 820.9 L994.7 820.7 L994.6 820.5 L994.4 820.3 L986.2 812.8 L982.3 808.1 L982.1 807.9 L978.4 804.2 L979.5 800.8 L979.6 800.6 L979.6 800.3 L979.6 800.1 L979.6 794.4 L979.6 794.1 L978.9 788.6 L981.6 784.6 L981.7 784.4 L981.8 784.2 L981.9 783.9 L982 783.7 L982 783.5 L982 783.2 L982 777.8 L982.8 772.3 L982.8 772.1 L982.8 771.8 L982.8 771.6 L982.1 767.1 L982.7 762.7 L984.9 760.5 L992.3 757.6 L992.5 757.5 L992.7 757.4 L992.9 757.3 L993.1 757.1 L993.3 756.9 L993.5 756.7 L993.6 756.5 L993.7 756.3 L993.8 756.1 L993.8 755.8 L993.9 755.6 L993.9 755.4 L993.9 755.1 L993.9 754.9 L993.8 754.6 L993.7 754.4 L993.6 754.2 L993.5 754 L993.4 753.8 L993.2 753.6 L993 753.4 L992.8 753.3 L992.6 753.1 L992.4 753 L992.2 752.9 L984.9 750.5 L982.8 748.4 L982.4 743 L982.4 742.7 L982.3 742.4 L982.2 742.2 L980.4 737.7 L980 733.3 L980 733 L979.9 732.8 L979.8 732.5 L979.7 732.3 L979.6 732.1 L976.8 728 L976.6 727.8 L976.4 727.7 L976.2 727.5 L976 727.3 L972.3 725.1 L968.5 721.3 L968.3 721.1 L963.5 717.1 L963.3 717 L963.1 716.8 L962.8 716.7 L962.6 716.7 L957 715.1 L956.7 715 L951.2 714 L948.7 711.2 L946.5 706.7 L946.4 706.5 L944 702.5 L943.8 702.3 L943.7 702.1 L943.5 701.9 L943.3 701.8 L943.1 701.6 L942.8 701.5 L942.6 701.4 L942.4 701.4 L942.1 701.3 L941.8 701.3 L932.5 701.3 L924 699.4 L923.7 699.3 L923.5 699.3 L916.6 699 L915 697.1 L914.8 695.7 L915.9 694.2 L924.3 693.8 L924.5 693.8 L924.8 693.8 L925 693.7 L925.2 693.6 L925.5 693.5 L925.7 693.4 L928.5 691.4 L928.7 691.2 L928.8 691.1 L929 690.9 L929.1 690.7 L929.3 690.4 L929.4 690.2 L929.4 690 L929.5 689.7 L929.5 689.5 L929.5 689.2 L929.5 689 L929.4 688.7 L929.1 687.2 L930.2 686.5 L933.7 687.7 L938.3 690 L938.5 690.1 L938.8 690.2 L939 690.2 L939.2 690.2 L939.5 690.2 L939.7 690.2 L940 690.2 L940.2 690.1 L946.6 688.1 L946.9 688 L947.1 687.9 L947.4 687.7 L952.1 684.2 L956.9 681 L957.1 680.9 L957.2 680.7 L957.4 680.5 L957.6 680.3 L957.7 680.1 L957.8 679.9 L957.9 679.6 L957.9 679.4 L958 679.2 L958 678.9 L958 678.7 L957.9 678.4 L957.1 674.5 L956.3 669.7 L955.6 663.5 L955.2 657.1 L955.1 656.9 L955.1 656.6 L955 656.4 L954.9 656.2 L954.8 656 L954.7 655.8 L954.5 655.6 L954.4 655.4 L954.2 655.3 L954 655.1 L953.8 655 L953.6 654.9 L953.3 654.9 L949.2 653.7 L946.1 652.2 L945.2 650.4 L945.5 646.5 L946.7 641.8 L946.7 641.6 L946.7 641.3 L946.7 641 L946.7 640.8 L946.6 640.5 L945.7 637.2 L946.6 633.9 L946.7 633.7 L946.7 633.6 L947.4 629 L949.8 627.2 L950 627 L950.1 626.8 L950.3 626.6 L950.4 626.4 L950.6 626.2 L950.6 625.9 L950.7 625.7 L951.5 621.7 L951.5 621.4 L951.6 621.2 L951.6 621 L951.5 620.8 L950.7 616 L950.7 615.7 L950.6 615.5 L950.5 615.2 L950.3 615 L947.1 610.2 L947 610 L946.8 609.8 L946.7 609.6 L941.8 605.6 L941.6 605.5 L941.4 605.4 L941.2 605.3 L935.6 602.8 L935.4 602.8 L935.1 602.7 L934.8 602.7 L930 602.3 L929.8 602.2 L929.6 602.3 L929.3 602.3 L929.1 602.3 L928.9 602.4 L928.7 602.5 L926.2 603.8 L924.6 603.6 L922.1 600.7 L921.9 600.5 L921.7 600.3 L921.5 600.2 L921.3 600.1 L921 600 L920.8 599.9 L920.5 599.9 L920.3 599.8 L912.1 599.5 L911.2 597.6 L911.1 597.4 L910.9 597.2 L910.8 597 L910.6 596.8 L910.4 596.7 L910.2 596.6 L910 596.4 L909.8 596.4 L904.9 594.8 L904.6 594.7 L896.8 593.1 L888.2 590 L888 589.9 L887.8 589.9 L887.5 589.8 L878.7 589 L878.5 589 L878.3 589 L878 589.1 L877.8 589.1 L877.6 589.2 L877.4 589.3 L873.8 591.1 L872.5 591.2 L872.2 585.7 L872.1 585.5 L872.1 585.2 L872 585 L871.9 584.8 L871.8 584.6 L871.6 584.4 L871.5 584.2 L871.3 584 L871.1 583.8 L870.9 583.7 L870.7 583.6 L868.6 582.7 L867.4 580.5 L867.8 576.1 L867.8 575.8 L867.7 575.6 L867.7 575.3 L867.6 575.1 L867.5 574.8 L867.4 574.6 L865 570.6 L864.9 570.4 L864.7 570.2 L864.5 570 L864.4 569.9 L864.2 569.7 L863.9 569.6 L863.7 569.5 L863.5 569.4 L863.3 569.4 L863 569.4 L862.8 569.4 L862.5 569.4 L862.3 569.4 L862.1 569.5 L858.5 570.7 L858.2 570.8 L858 570.9 L857.8 571 L853.9 573.8 L850.8 575.6 L846.1 574.6 L845.9 574.6 L845.7 574.6 L845.5 574.6 L845.3 574.6 L843 574.9 L840 570.7 L834.3 569.1 L826.3 565.9 L818.3 560.2 L810.3 554.6 L802.3 552.2 L794.3 551.4 L786.2 549 L770.2 547.4 L764.5 547.4 L764.3 547.3 L764.1 547.2 L763.9 547.1 L763.6 547 L763.4 546.9 L763.2 546.9 L762.9 546.9 L762.7 546.9 L762.4 547 L762.2 547 L762 547.1 L761.8 547.2 L761.6 547.4 L761.5 547.4 L754.2 547.4 L738.1 548.2 L722.1 547.8 L710 549.8 L698 557Z" fill="#fee7c5"/>
<path d="M693.2 581.1 L690 584.3 L685.1 589.9 L684.3 596.3 L686.8 600.3 L689.6 603.5 L688.4 609.2 L684.3 616.4 L679.5 623.6 L675.5 627.6 L669.9 630.8 L665.9 637.2 L665.5 645.2 L664.7 651.7 L661.9 658.9 L660.3 661.3 L662.7 665.3 L662.7 665.3 L662.7 665.3 L652.3 670.1 L636.2 681.3 L620.2 684.5 L604.2 686.9 L591.3 686.9 L584.9 686.1 L580.1 683.7 L579.2 683.4 L578.1 682.3 L576.8 681.4 L566 682 L566 700 L564.7 701.5 L564.9 703 L564.9 711 L567.3 716.7 L567.7 721.5 L564.1 723.9 L563.4 724.3 L565.4 744.4 L564.9 745 L563.2 749.8 L563 750.4 L562.2 752 L561.9 752.5 L561.6 752.9 L561.2 753.3 L560.8 753.7 L560.4 754 L560 754.3 L559.5 754.5 L559.5 754.6 L559.5 755.2 L559.5 755.7 L559.4 756.3 L559.3 756.8 L559.1 757.3 L558.8 757.8 L558.5 758.3 L557.9 759.2 L558 759.2 L558.4 759.5 L558.8 759.8 L559.2 760.2 L559.6 760.6 L559.9 761 L560.1 761.4 L560.3 761.9 L560.5 762.4 L561.7 766.4 L561.8 766.9 L561.9 767.4 L561.9 767.9 L561.9 768.4 L561.9 768.9 L561.7 769.4 L561.6 769.9 L561.4 770.4 L561.1 770.8 L560.8 771.3 L560.3 772 L561 773.7 L564.2 780 L564.4 780.5 L564.6 781.1 L564.7 781.6 L565.5 787.2 L565.5 787.8 L565.5 788.3 L565.5 788.8 L565.4 789.3 L565.2 789.8 L565 790.3 L564.8 790.8 L564.5 791.2 L564.2 791.6 L563.8 792 L563.4 792.3 L563 792.7 L562.6 792.9 L562.1 793.1 L559.8 794 L558.9 795.5 L558.4 799.4 L558.4 799.9 L562.8 797.8 L563.1 797.5 L563 796.6 L563 796.1 L563 795.5 L563.1 795 L563.2 794.5 L563.4 794 L563.6 793.6 L563.8 793.1 L564.1 792.7 L564.5 792.3 L564.8 791.9 L565.2 791.6 L565.7 791.3 L569.9 788.8 L570.5 794.9 L575.3 792 L579.7 792.8 L578.5 797.6 L579.3 804.1 L582.5 808.1 L583.3 812.1 L581.7 816.9 L580.9 821.7 L579.3 824.9 L582.5 826.5 L579.3 830.5 L575.3 834.5 L580.1 836.9 L583.3 839.3 L584.1 843.4 L588.1 845 L592.1 847.4 L596.1 853 L600.1 858.6 L601.7 864.2 L604.2 867.5 L608.2 870.7 L609.4 875.5 L613.8 878.7 L616.2 882.7 L622.6 883.9 L628.2 884.7 L632.2 886.7 L636.2 888.7 L641 888.7 L644.3 889.9 L643.4 893.1 L647.5 893.5 L650.7 889.9 L652.3 885.1 L654.7 883.5 L657.9 884.3 L663.5 882.7 L669.1 881.9 L673.1 882.7 L673.5 887.5 L677.9 887.9 L681.9 888.7 L682.7 893.9 L685.1 888.3 L686.8 881.1 L686.8 874.7 L685.5 869.1 L681.1 864.2 L676.3 860.2 L675.5 853.8 L678.7 849 L684.3 846.8 L690 849 L693.8 850.5 L690 860 L698 866.7 L701.2 871.5 L707.6 879.5 L718.1 883.5 L730.1 884.7 L742.1 885.9 L748.5 889.9 L754.2 892.7 L760.6 891.1 L766.2 887.5 L769.1 887.9 L769.4 888.3 L771.8 893.1 L774.2 898.7 L775.8 905.1 L776.2 912.4 L775 918.8 L774.2 925.2 L773.1 926.3 L779.1 927.6 L779 927.8 L778.8 928.3 L778.4 928.7 L778.1 929.1 L776.1 931.1 L775.6 933.5 L775.5 934 L775.3 934.5 L775 935 L774.7 935.5 L774.4 935.9 L774 936.3 L773.6 936.7 L771.5 938.4 L771.3 941.6 L771.2 941.9 L770.4 948.3 L769.7 954.1 L769.8 955.1 L770.6 955.7 L775.1 957.6 L779.2 958.5 L783.7 957.9 L788.8 956.8 L793.3 955.3 L793.8 955.1 L794.4 955 L794.9 955 L795.4 955 L796 955.1 L800.8 955.9 L801.3 956 L801.8 956.1 L802.2 956.3 L802.7 956.6 L806.2 958.7 L810.4 960.1 L811 960.3 L811.5 960.5 L811.9 960.8 L812.4 961.2 L814.6 963.2 L816.7 963 L820.4 962.3 L821 962.2 L821.5 962.2 L822 962.2 L822.5 962.3 L823 962.4 L828.6 964 L829.2 964.2 L830.5 964.7 L830.6 964.6 L831 964.1 L831.3 963.7 L831.8 963.4 L832.2 963 L832.7 962.8 L837.5 960.4 L838.1 960.1 L838.6 960 L845.1 958.3 L845.6 958.2 L853.6 957 L854.2 957 L863.8 956.6 L864.4 956.6 L865 956.7 L865.6 956.8 L866.1 957 L870.1 958.6 L870.6 958.8 L871.1 959.1 L871.5 959.4 L872 959.8 L872.3 960.2 L872.7 960.7 L872.9 961.1 L873.2 961.6 L873.8 963.3 L874.2 963.4 L877.4 962.1 L882.3 958.5 L887.4 954.2 L892.8 948 L893 947.8 L897.9 943 L898.3 942.6 L898.7 942.3 L899.2 942 L899.7 941.8 L900.2 941.6 L904.2 940.4 L904.7 940.2 L905.2 940.2 L905.8 940.1 L906.3 940.2 L906.8 940.2 L907.4 940.4 L907.9 940.6 L911.2 942 L911.6 940.2 L911.7 939.6 L911.9 939.1 L912.1 938.6 L912.4 938.2 L915.6 933.4 L916 932.9 L919.9 928.1 L922.1 925.4 L922.7 919.8 L922.8 919.2 L923 918.7 L923.2 918.2 L923.4 917.7 L923.7 917.3 L924 916.8 L924.4 916.4 L924.8 916.1 L928.8 912.9 L929.2 912.6 L932.6 910.3 L934.4 906.2 L934.6 905.7 L934.9 905.3 L935.2 904.8 L935.5 904.5 L939.6 900.5 L941.3 898.7 L941.5 896.9 L940.6 893.9 L940.5 893.4 L939.7 889.4 L939.6 888.9 L939.6 888.4 L939.6 887.8 L939.6 887.3 L939.8 886.8 L939.9 886.3 L940.1 885.8 L942.5 881 L942.8 880.5 L943.1 880.1 L943.5 879.7 L943.9 879.3 L948.7 875.3 L949.1 875 L949.5 874.7 L953.7 872.3 L954.6 870.6 L954.8 870.2 L955.1 869.7 L955.5 869.3 L955.8 869 L956.2 868.6 L956.7 868.4 L960.7 865.9 L961.1 865.7 L961.6 865.5 L962.2 865.3 L966.6 864.2 L966.5 863.3 L966.4 862.8 L966.4 862.2 L966.5 861.7 L966.6 861.1 L966.8 860.6 L967.6 858.7 L966.4 855.9 L966.3 855.6 L964.7 850.7 L964.5 850.2 L964.4 849.6 L964.4 849 L964.4 845 L964.4 844.4 L965.2 837.1 L965.3 836.7 L965.4 836.2 L967 830.6 L967.2 830.1 L967.4 829.7 L967.7 829.2 L968 828.8 L968.3 828.4 L968.7 828 L969.1 827.7 L969.5 827.4 L973.5 825 L973.9 824.8 L980.3 821.6 L980.5 821.5 L982.8 820.5 L980.6 818.5 L980.1 818 L976.3 813.4 L971.6 808.8 L971.3 808.3 L970.9 807.9 L970.7 807.4 L970.4 806.9 L970.2 806.4 L970.1 805.9 L970 805.3 L970 804.8 L970.1 804.2 L970.2 803.7 L970.3 803.1 L971.6 799.2 L971.6 794.8 L970.9 788.7 L970.8 788.1 L970.8 787.6 L970.9 787 L971 786.5 L971.2 786 L971.5 785.5 L971.8 785 L974 781.5 L974 777.6 L974.1 776.8 L974.8 772 L974.1 768.1 L974 767.5 L974 767 L974.1 766.4 L974.9 760.8 L975 760.3 L975.1 759.8 L975.3 759.3 L975.5 758.9 L975.8 758.4 L976.1 758 L976.4 757.7 L978.6 755.5 L976.4 753.4 L976.1 753 L975.7 752.5 L975.4 752 L975.2 751.5 L975 751 L974.9 750.4 L974.8 749.9 L974.5 744.4 L972.9 740.4 L972.7 739.9 L972.5 739.3 L972.5 738.8 L972.2 735.4 L970.9 733.6 L967.9 731.8 L967.3 731.4 L966.8 731 L963 727.1 L959.3 724 L955 722.8 L948.9 721.7 L948.3 721.5 L947.9 721.4 L947.4 721.2 L946.9 720.9 L946.5 720.6 L946.1 720.3 L945.8 719.9 L942.5 716.3 L942.2 715.9 L942 715.5 L941.7 715.1 L939.4 710.5 L938.7 709.3 L932.2 709.3 L931.6 709.3 L931 709.2 L922.6 707.3 L915.1 706.9 L914.6 706.9 L914 706.7 L913.5 706.6 L913 706.4 L912.5 706.1 L912 705.8 L911.6 705.4 L911.2 705 L908.4 701.8 L908.1 701.4 L907.8 700.9 L907.6 700.5 L907.4 699.9 L907.2 699.4 L907.1 698.9 L906.7 695.6 L906.7 695.1 L906.7 694.6 L906.7 694.1 L906.9 693.5 L907 693 L907.2 692.6 L907.5 692.1 L907.8 691.7 L910.2 688.5 L910.5 688 L910.9 687.7 L911.3 687.3 L911.8 687 L912.3 686.8 L912.8 686.6 L913.3 686.4 L913.8 686.3 L914.4 686.3 L920.7 686 L920.7 685.9 L920.8 685.4 L920.8 684.9 L921 684.4 L921.2 683.9 L921.4 683.5 L921.7 683 L922 682.6 L922.4 682.2 L922.7 681.9 L923.2 681.6 L926.8 679.2 L927.2 678.9 L927.7 678.6 L928.3 678.5 L928.8 678.3 L929.4 678.3 L929.9 678.2 L930.5 678.3 L931 678.4 L931.6 678.5 L936.4 680.1 L937.1 680.4 L939.9 681.8 L943.3 680.8 L947.4 677.7 L947.6 677.6 L949.4 676.4 L949.3 676 L949.3 675.8 L948.4 671 L948.4 670.8 L947.6 664.4 L947.6 664 L947.4 661.5 L946.8 661.4 L946.3 661.2 L945.8 661 L941.8 659 L941.3 658.7 L940.9 658.4 L940.5 658.1 L940.2 657.8 L939.9 657.4 L939.6 657 L939.3 656.5 L937.7 653.3 L937.5 652.9 L937.4 652.4 L937.2 651.9 L937.2 651.4 L937.1 650.9 L937.2 650.4 L937.6 645.6 L937.6 645.1 L937.7 644.7 L938.5 641.4 L937.8 638.8 L937.7 638.3 L937.6 637.8 L937.5 637.2 L937.6 636.7 L937.7 636.2 L937.8 635.6 L938.9 632 L939.6 626.8 L939.7 626.3 L939.9 625.8 L940.1 625.3 L940.3 624.8 L940.6 624.3 L941 623.9 L941.3 623.5 L941.8 623.2 L943.3 622.1 L943.5 621.1 L943 618.4 L940.9 615.3 L937.3 612.3 L933.3 610.6 L930.9 610.4 L929.1 611.3 L928.6 611.5 L928.1 611.7 L927.5 611.8 L927 611.8 L926.5 611.8 L925.9 611.8 L922.7 611.4 L922.2 611.3 L921.6 611.1 L921.1 610.9 L920.6 610.7 L920.1 610.4 L919.7 610 L919.3 609.6 L917.6 607.7 L910.3 607.4 L909.8 607.4 L909.3 607.3 L908.8 607.1 L908.3 606.9 L907.8 606.7 L907.4 606.4 L906.9 606.1 L906.6 605.7 L906.2 605.3 L905.9 604.9 L905.7 604.4 L905.1 603.2 L902.7 602.5 L895.1 600.9 L894.7 600.8 L894.3 600.7 L886.1 597.7 L879.6 597.1 L876.9 598.4 L876.5 598.6 L876 598.8 L875.5 598.9 L875 599 L871 599.4 L870.5 599.4 L870 599.4 L869.5 599.3 L869 599.2 L868.5 599 L868 598.8 L867.5 598.6 L867.1 598.3 L866.7 597.9 L866.3 597.5 L866 597.1 L865.7 596.7 L865.5 596.2 L865.3 595.8 L865.1 595.3 L864.7 593.6 L864.6 593.2 L864.6 592.7 L864.4 589.6 L864.2 589.5 L863.8 589.3 L863.4 588.9 L863 588.6 L862.6 588.2 L862.3 587.8 L862.1 587.4 L860.1 583.8 L859.8 583.3 L859.6 582.8 L859.5 582.3 L859.4 581.7 L859.4 581.2 L859.4 580.7 L859.5 579.6 L858.4 580.4 L858.1 580.6 L854.1 583 L853.6 583.2 L853.1 583.4 L852.6 583.6 L852.1 583.7 L851.6 583.8 L851.1 583.8 L850.6 583.7 L850.1 583.7 L845.4 582.7 L840.7 583.3 L840.4 583.4 L834.7 583.8 L834.3 583.8 L833.8 583.8 L833.3 583.7 L826.9 582.5 L826.3 582.3 L825.8 582.1 L820.2 579.7 L816.1 578.1 L812.9 577.7 L812.4 577.7 L811.9 577.5 L811.3 577.3 L810.9 577.1 L810.4 576.8 L809.9 576.5 L809.5 576.1 L809.2 575.7 L808.9 575.2 L808.6 574.7 L808.4 574.2 L808.2 573.7 L808.1 573.2 L807.3 568.6 L805.2 567.5 L804.8 567.2 L800.7 564.5 L796.9 563.4 L794.5 563.6 L792.1 565.2 L791.6 565.5 L791.1 565.7 L790.6 565.9 L790.1 566 L789.6 566.1 L789 566.1 L788.5 566.1 L788 566 L787.4 565.9 L786.9 565.7 L786.4 565.5 L786 565.2 L785.5 564.9 L785.2 564.5 L784.8 564.1 L784.5 563.7 L784.2 563.2 L784 562.7 L783.8 562.2 L783.6 561.7 L783.5 560.9 L783.4 561 L780.9 564.1 L780.6 564.5 L780.2 564.8 L779.8 565.1 L779.3 565.4 L778.8 565.7 L778.3 565.9 L774.7 567.1 L774.2 567.2 L773.7 567.3 L773.1 567.3 L772.6 567.3 L772 567.3 L771.5 567.1 L771 567 L770.5 566.7 L770 566.5 L769.6 566.1 L769.1 565.8 L768.8 565.4 L768.4 564.9 L768.2 564.5 L767.9 564 L766 559.2 L765.3 557.8 L764.4 557.7 L763.9 557.6 L763.4 557.5 L763.2 557.4 L762.1 558.5 L761.7 558.9 L761.3 559.2 L760.8 559.4 L760.4 559.6 L753.2 562.9 L753.2 562.9 L746.7 565.7 L740.9 568.2 L736.6 571.5 L736.2 571.8 L735.7 572 L735.2 572.2 L734.7 572.4 L734.2 572.5 L733.7 572.5 L733.1 572.6 L732.6 572.5 L732.1 572.4 L731.6 572.3 L731.1 572.1 L730.6 571.8 L730.1 571.6 L729.7 571.2 L729.3 570.9 L729 570.5 L728.7 570 L728.4 569.6 L728.2 569.1 L727.6 567.7 L725.4 568.3 L720.2 570.5 L719.7 570.7 L719.1 570.8 L718.5 570.9 L718 570.9 L717.4 570.9 L714.2 570.5 L714.1 571 L714 571.5 L713.7 572 L713.5 572.5 L713.1 572.9 L712.8 573.3 L712.4 573.7 L711.9 574 L711.5 574.3 L711 574.5 L710.5 574.7 L709.9 574.9 L709.4 574.9 L708.8 575 L705.2 575 L704.7 574.9 L704.2 574.9 L703.6 574.7 L703.1 574.5 L702.6 574.3 L702.2 574 L701.7 573.7 L701.5 573.5 L701 576.4 L700.9 577 L700.7 577.6 L700 579.2 L700 566 L698.8 565.9 L696.8 568.3 L695.6 575.5Z" fill="#fff2e0"/>
<path d="M562.5 828 L562.8 827.2 L563.2 826.5 L563.8 826 L564.4 825.6 L565 825.5 L565.5 825.6 L566.1 826 L566.6 826.6 L567.1 827.3 L567.5 828 L567.8 828.9 L568 829.9 L568.1 831 L568.1 832.1 L568 833 L567.8 833.9 L567.4 834.8 L567 835.6 L566.5 836.2 L566 836.5 L565.5 836.4 L565 836.1 L564.4 835.5 L563.9 834.8 L563.5 834 L563.1 833 L562.8 831.7 L562.6 830.3 L562.5 829Z" fill="#fdc690"/>
<path d="M595.3 671 L604.5 670.5 L605 677 L596.5 677.3Z" fill="#fdd8a6"/>
</g>
<g clip-path="url(#cd2)" shape-rendering="crispEdges">
<circle cx="2053" cy="764" r="497.0" fill="#910000"/>
<path d="M2496.3 765.2 L2495.7 788.4 L2493.9 811.6 L2490.8 834.6 L2486.6 857.4 L2481.2 880 L2474.6 902.3 L2466.8 924.2 L2457.9 945.6 L2448 966.6 L2436.9 987 L2424.7 1006.8 L2411.6 1025.9 L2397.4 1044.4 L2382.4 1062 L2366.4 1078.9 L2349.5 1094.9 L2331.9 1109.9 L2313.4 1124.1 L2294.3 1137.2 L2274.5 1149.4 L2254.1 1160.5 L2233.1 1170.4 L2211.7 1179.3 L2189.8 1187.1 L2167.5 1193.7 L2144.9 1199.1 L2122.1 1203.3 L2099.1 1206.4 L2075.9 1208.2 L2052.7 1208.8 L2029.5 1208.2 L2006.3 1206.4 L1983.3 1203.3 L1960.5 1199.1 L1937.9 1193.7 L1915.6 1187.1 L1893.7 1179.3 L1872.3 1170.4 L1851.3 1160.5 L1830.9 1149.4 L1811.1 1137.2 L1792 1124.1 L1773.5 1109.9 L1755.9 1094.9 L1739 1078.9 L1723 1062 L1708 1044.4 L1693.8 1025.9 L1680.7 1006.8 L1668.5 987 L1657.4 966.6 L1647.5 945.6 L1638.6 924.2 L1630.8 902.3 L1624.2 880 L1618.8 857.4 L1614.6 834.6 L1611.5 811.6 L1609.7 788.4 L1609.1 765.2 L1609.7 742 L1611.5 718.8 L1614.6 695.8 L1618.8 673 L1624.2 650.4 L1630.8 628.1 L1638.6 606.2 L1647.5 584.8 L1657.4 563.8 L1668.5 543.4 L1680.7 523.6 L1693.8 504.5 L1708 486 L1723 468.4 L1739 451.5 L1755.9 435.5 L1773.5 420.5 L1792 406.3 L1811.1 393.2 L1830.9 381 L1851.3 369.9 L1872.3 360 L1893.7 351.1 L1915.6 343.3 L1937.9 336.7 L1960.5 331.3 L1983.3 327.1 L2006.3 324 L2029.5 322.2 L2052.7 321.6 L2075.9 322.2 L2099.1 324 L2122.1 327.1 L2144.9 331.3 L2167.5 336.7 L2189.8 343.3 L2211.7 351.1 L2233.1 360 L2254.1 369.9 L2274.5 381 L2294.3 393.2 L2313.4 406.3 L2331.9 420.5 L2349.5 435.5 L2366.4 451.5 L2382.4 468.4 L2397.4 486 L2411.6 504.5 L2424.7 523.6 L2436.9 543.4 L2448 563.8 L2457.9 584.8 L2466.8 606.2 L2474.6 628.1 L2481.2 650.4 L2486.6 673 L2490.8 695.8 L2493.9 718.8 L2495.7 742Z" fill="#b50302"/>
<path d="M1651.5 586.7 L1647.9 587.1 L1645.4 587.7 L1643.6 588.5 L1642.1 589.1 L1640.3 589.3 L1638.4 589 L1636.5 588.5 L1634.7 587.7 L1633.1 586.8 L1631.8 585.9 L1630.9 584.7 L1630.3 583.4 L1629.9 582 L1629.3 580.7 L1628.4 579.9 L1627.1 579.4 L1625.6 579.2 L1623.9 579.2 L1621.9 579.5 L1619.8 579.9 L1617.3 580.5 L1614.5 581.4 L1611.5 582.5 L1608.6 583.7 L1606.1 585 L1604.1 586.3 L1602.3 587.8 L1600.7 589.3 L1599.2 591 L1597.6 592.7 L1595.8 594.6 L1594 596.6 L1592.3 598.7 L1590.6 600.8 L1589 603 L1587.6 605.1 L1586.1 607.3 L1584.9 609.5 L1583.8 611.8 L1583 614.1 L1582.5 616.5 L1582.2 619.1 L1582.1 621.6 L1582.4 624 L1583 626.1 L1584.2 627.7 L1585.9 629.1 L1587.8 630.3 L1589.8 631.5 L1591.6 632.9 L1593.2 634.5 L1594.7 636.3 L1596.2 638.1 L1597.7 639.8 L1599.3 641.5 L1600.9 643 L1602.5 644.5 L1604.1 645.8 L1605.9 647.1 L1607.8 648.3 L1610.1 649.3 L1612.8 650.2 L1615.5 651 L1617.9 651.8 L1619.8 652.6 L1621.1 653.3 L1622.1 653.9 L1622.7 654.5 L1623.1 655.5 L1623.2 656.9 L1623.1 658.9 L1622.6 661.5 L1621.9 664.3 L1621.2 667.2 L1620.7 669.7 L1619.5 672.1 L1617.5 674.5 L1616.1 676.7 L1616.4 678.6 L1619.8 680 L1627.9 682.1 L1639.9 685.1 L1653.3 687 L1665.7 686 L1674.6 680 L1679.9 666.1 L1683.2 645.6 L1684.8 623 L1684.7 602.5 L1683.1 588.4 L1679 582.3 L1672.4 581.1 L1664.6 582.8 L1657.1 585.4Z" fill="#b50302"/>
<path d="M1668.4 696.2 L1670.4 684.6 L1672.7 673.8 L1675.2 663.5 L1678 653.4 L1681.1 643.2 L1684.6 632.4 L1688.6 621.4 L1692.7 610.6 L1696.8 600.7 L1700.7 592.2 L1704.3 585.5 L1707.9 580.2 L1711.4 575.8 L1714.7 571.6 L1717.9 566.8 L1720.8 561.5 L1723.5 556 L1726.1 550.5 L1728.7 545.2 L1731.3 540.1 L1733.9 535.2 L1736.6 530.5 L1739.3 526 L1742 521.6 L1744.6 517.3 L1747.3 513.3 L1750 509.4 L1752.7 505.7 L1755.3 502.1 L1758 498.6 L1760.7 495.2 L1763.4 491.9 L1766 488.7 L1768.7 485.6 L1771.4 482.6 L1774.1 479.7 L1776.7 477 L1779.4 474.3 L1782.1 471.8 L1784.8 469.2 L1787.4 466.7 L1790.1 464.2 L1792.8 461.8 L1795.4 459.5 L1798.1 457.2 L1800.8 454.9 L1803.5 452.7 L1806.1 450.6 L1808.8 448.5 L1811.5 446.5 L1814.2 444.5 L1816.8 442.6 L1819.5 440.8 L1822.2 439 L1824.9 437.1 L1827.5 435.2 L1830.2 433.3 L1832.9 431.3 L1835.6 429.5 L1838.2 427.8 L1840.9 426.3 L1843.6 424.9 L1846.2 423.6 L1848.9 422.4 L1851.6 421.1 L1854.3 419.7 L1856.9 418.3 L1859.6 417 L1862.3 415.7 L1865 414.4 L1867.6 413.2 L1870.3 412.1 L1873 411.1 L1875.7 410.1 L1878.3 409.1 L1881 408.1 L1883.7 407.1 L1886.4 406.2 L1889 405.3 L1891.7 404.4 L1894.2 403.5 L1896.6 402.8 L1899.1 402 L1901.8 401.2 L1905.1 400.4 L1908.5 399.7 L1911.9 399.2 L1915.8 398.6 L1920.9 397.6 L1927.8 395.7 L1936.8 392.6 L1947.5 388.4 L1959.5 383.9 L1972 379.7 L1984.7 376.5 L1997.6 374.3 L2011.2 372.8 L2025.1 371.7 L2039.2 371.2 L2053 371 L2066.9 371.2 L2080.9 372 L2094.9 373.1 L2108.4 374.6 L2121.3 376.5 L2133.9 378.8 L2146.2 381.7 L2157.9 384.9 L2168.6 388.1 L2177.8 391 L2185.1 393.6 L2190.6 396 L2195.3 398.4 L2199.7 400.9 L2204.5 403.7 L2209.9 406.8 L2215.2 410.1 L2220.6 413.6 L2225.9 417.3 L2231.3 421.1 L2236.6 425.1 L2242 429.4 L2247.3 433.7 L2252.7 438.1 L2258 442.5 L2263.4 446.7 L2268.7 450.9 L2274.1 455.1 L2279.4 459.4 L2284.8 463.9 L2290.1 468.5 L2295.4 473.2 L2300.8 478 L2306.1 482.9 L2311.5 487.9 L2316.9 493.1 L2322.5 498.6 L2328 504 L2333.3 509.4 L2338.2 514.7 L2342.7 519.6 L2346.7 524.3 L2350.6 528.9 L2354.4 533.7 L2358.3 538.7 L2362.3 544 L2366.3 549.5 L2370.3 555.1 L2374.3 560.9 L2378.3 566.8 L2382.4 573 L2386.5 579.4 L2390.6 586 L2394.5 592.5 L2398.4 598.9 L2402 604.5 L2405.4 609.5 L2408.8 614.8 L2412.2 621.2 L2415.8 629.6 L2419.7 640.7 L2424 653.8 L2428.2 668.1 L2432 682.6 L2435.1 696.6 L2437.4 710.1 L2439.2 723.5 L2440.5 737 L2441.3 750.5 L2441.6 764 L2441.3 777.6 L2440.5 791.4 L2439.1 805.2 L2437.4 818.6 L2435.4 831.4 L2432.8 844.2 L2429.4 857.2 L2425.9 869.4 L2422.7 880.3 L2420.4 889 L2419.3 894.7 L2418.9 898 L2418.9 900 L2418.8 902 L2418.4 905 L2417.6 909.3 L2416.7 914.1 L2415.6 919.1 L2414.4 924.2 L2413.1 929.1 L2411.7 934 L2410.2 938.9 L2408.6 943.8 L2406.9 948.6 L2405.1 953.2 L2403.2 957.4 L2401.2 961.4 L2399.2 965.3 L2396.9 969.2 L2394.4 973.2 L2391.6 977.4 L2388.5 981.6 L2385.3 985.9 L2381.9 990.2 L2378.3 994.6 L2374.6 999.1 L2370.6 1003.7 L2366.5 1008.4 L2362.4 1012.9 L2358.3 1017.3 L2354.4 1021.5 L2350.6 1025.4 L2346.7 1029.2 L2342.7 1033.2 L2338.2 1037.4 L2333.3 1042 L2328 1046.9 L2322.5 1051.9 L2316.9 1056.8 L2311.5 1061.5 L2306.1 1065.7 L2300.8 1069.8 L2295.4 1073.8 L2290.1 1077.7 L2284.8 1081.5 L2279.4 1085.4 L2274.1 1089.3 L2268.7 1093.1 L2263.4 1096.8 L2258 1100.2 L2252.7 1103.5 L2247.3 1106.5 L2242 1109.4 L2236.6 1112.2 L2231.3 1114.9 L2225.9 1117.6 L2220.6 1120.1 L2215.2 1122.5 L2209.9 1124.8 L2204.5 1127 L2199.7 1128.9 L2195.3 1130.7 L2190.7 1132.4 L2185.1 1134.2 L2177.8 1136.3 L2168.6 1138.9 L2157.8 1141.9 L2146 1144.9 L2133.6 1147.7 L2121.1 1150 L2108.2 1151.9 L2094.7 1153.4 L2080.8 1154.6 L2066.8 1155.4 L2053 1155.7 L2039.2 1155.4 L2025.2 1154.6 L2011.4 1153.4 L1997.8 1151.9 L1984.9 1150 L1972.3 1147.7 L1959.6 1144.9 L1947.6 1141.8 L1936.8 1138.8 L1927.8 1136.3 L1920.9 1134.3 L1915.8 1132.6 L1911.8 1131 L1908.5 1129.6 L1905.1 1128.3 L1901.8 1127.1 L1899.1 1126 L1896.6 1125.1 L1894.2 1124.1 L1891.7 1123 L1889 1121.7 L1886.4 1120.4 L1883.7 1119.1 L1881 1117.7 L1878.3 1116.3 L1875.7 1114.8 L1873 1113.2 L1870.3 1111.5 L1867.6 1109.9 L1865 1108.3 L1862.3 1106.6 L1859.6 1105 L1856.9 1103.4 L1854.3 1101.8 L1851.6 1100.2 L1848.9 1098.6 L1846.2 1097.1 L1843.6 1095.5 L1840.9 1093.9 L1838.2 1092.2 L1835.6 1090.4 L1832.9 1088.6 L1830.2 1086.8 L1827.5 1084.8 L1824.9 1082.9 L1822.2 1080.8 L1819.5 1078.7 L1816.8 1076.5 L1814.2 1074.3 L1811.5 1072.2 L1808.8 1070 L1806.1 1067.9 L1803.5 1065.8 L1800.8 1063.7 L1798.1 1061.5 L1795.4 1059.2 L1792.8 1056.8 L1790.1 1054.4 L1787.4 1051.9 L1784.8 1049.4 L1782.1 1046.9 L1779.4 1044.2 L1776.7 1041.6 L1774.1 1038.8 L1771.4 1036.1 L1768.7 1033.2 L1766 1030.3 L1763.4 1027.4 L1760.7 1024.4 L1758 1021.4 L1755.3 1018.3 L1752.7 1015.2 L1750 1012 L1747.3 1008.7 L1744.6 1005.3 L1742 1001.8 L1739.3 998.1 L1736.6 994.3 L1733.9 990.5 L1731.3 986.6 L1728.6 982.7 L1725.9 978.9 L1723.3 974.9 L1720.6 970.8 L1717.9 966.5 L1715.2 962.1 L1712.6 957.5 L1709.9 952.7 L1707.2 947.7 L1704.5 942.5 L1701.8 936.9 L1698.9 930.8 L1696.1 924.7 L1693.5 918.7 L1691.2 913.1 L1689.3 908.4 L1687.9 904.6 L1686.6 900.8 L1685.1 895.8 L1683.1 889 L1680.5 879.9 L1677.3 869 L1674 857 L1670.9 844.5 L1668.4 831.8 L1666.5 818.9 L1664.9 805.5 L1663.7 791.6 L1663 777.7 L1662.7 764 L1663 750.2 L1663.8 736.2 L1665.1 722.2 L1666.7 708.8Z" fill="#d12719"/>
<path d="M1610.4 623.5 L1611 622.3 L1611.9 621.3 L1613.2 620.4 L1614.7 619.7 L1616.4 619.2 L1618.3 618.9 L1620.6 618.8 L1623 618.8 L1625.4 619 L1627.5 619.2 L1629.4 619.6 L1631.1 620.1 L1632.8 620.7 L1634.4 621.3 L1636.1 621.8 L1637.8 622.2 L1639.5 622.7 L1641.2 623 L1642.9 623.3 L1644.6 623.5 L1646.3 623.5 L1647.9 623.4 L1649.6 623.2 L1651.3 623 L1653.2 622.7 L1655.4 622.1 L1657.9 621.3 L1660.4 620.5 L1662.6 620 L1664.3 620.1 L1665.1 620.9 L1665.3 622.3 L1665.3 623.9 L1665.4 625.6 L1666 626.9 L1667.3 627.9 L1669.1 628.8 L1671.1 629.6 L1673 630.4 L1674.6 631.2 L1675.9 632 L1677.1 632.8 L1678.1 633.6 L1678.7 634.5 L1678.8 635.5 L1678.3 636.6 L1677.3 637.8 L1675.9 639.1 L1674.4 640.4 L1672.8 641.5 L1671.3 642.5 L1669.6 643.6 L1667.8 644.6 L1666 645.3 L1664.3 645.7 L1662.6 645.8 L1660.8 645.5 L1659 645.1 L1657.3 644.5 L1655.7 644 L1654.2 643.6 L1652.8 643 L1651.4 642.5 L1650.1 641.9 L1648.9 641.5 L1647.8 641 L1646.8 640.6 L1645.9 640.2 L1644.9 639.9 L1643.8 639.8 L1642.5 639.9 L1641.1 640.2 L1639.6 640.7 L1638 641.1 L1636.1 641.5 L1633.7 641.8 L1631 642.2 L1628.1 642.5 L1625.4 642.6 L1623.2 642.3 L1621.6 641.7 L1620.3 640.7 L1619.2 639.5 L1618.2 638.3 L1617.2 637.2 L1616.3 636.2 L1615.3 635.3 L1614.5 634.4 L1613.7 633.3 L1613 632.1 L1612.2 630.5 L1611.4 628.7 L1610.7 626.8 L1610.3 625Z" fill="#d12719"/>
<path d="M1703.6 602.1 L1695.1 609 L1685.7 612.8 L1674.6 613.7 L1668.6 614.1 L1667.7 626.9 L1674.6 631.2 L1679.7 635.5 L1674.6 643.2 L1666 648.3 L1659.2 655.2 L1670.3 653.4 L1678.8 648.3 L1678 661.1 L1674.6 680 L1708.8 680 L1714.8 597Z" fill="#d12719"/>
<path d="M1717.2 752.6 L1717.6 746 L1718.2 739.3 L1718.8 732.6 L1719.6 725.9 L1720.6 719.2 L1721.7 712.4 L1723 705.5 L1724.4 698.7 L1725.9 692 L1727.3 685.8 L1728.6 679.9 L1729.9 674.3 L1731.3 668.9 L1732.6 663.9 L1733.9 659.1 L1735.3 654.7 L1736.6 650.7 L1738 646.9 L1739.3 643.1 L1740.6 639 L1741.9 634.7 L1743.1 630.3 L1744.4 625.8 L1745.7 621.1 L1747.3 616.3 L1749.2 611.2 L1751.2 606 L1753.4 600.6 L1755.6 595.1 L1758 589.5 L1760.5 583.7 L1763.2 577.7 L1765.9 571.6 L1768.7 565.7 L1771.4 560.1 L1774.1 554.9 L1776.7 549.9 L1779.4 545.1 L1782.1 540.5 L1784.8 536.1 L1787.4 531.8 L1790.1 527.7 L1792.8 523.7 L1795.4 519.9 L1798.1 516 L1800.8 512.1 L1803.5 508.3 L1806.1 504.5 L1808.8 500.8 L1811.5 497.3 L1814.2 493.9 L1816.8 490.6 L1819.5 487.4 L1822.2 484.3 L1824.9 481.2 L1827.5 478.2 L1830.2 475.2 L1832.9 472.3 L1835.6 469.4 L1838.2 466.5 L1840.9 463.7 L1843.6 461 L1846.2 458.3 L1848.9 455.7 L1851.6 453.2 L1854.3 450.8 L1856.9 448.6 L1859.6 446.4 L1862.3 444.4 L1865 442.5 L1867.6 440.7 L1870.3 439 L1873 437.4 L1875.7 435.9 L1878.3 434.5 L1881 433 L1883.7 431.6 L1886.4 430.3 L1889 429 L1891.7 427.8 L1894.4 426.6 L1897.1 425.5 L1899.7 424.4 L1902.4 423.4 L1905.1 422.4 L1907.8 421.4 L1910.6 420.4 L1913.4 419.5 L1916 418.6 L1918.4 417.7 L1920.4 417 L1922 416.5 L1923.5 415.9 L1925.3 415.3 L1927.8 414.4 L1931.1 413.3 L1935.1 411.9 L1939.3 410.5 L1943.7 409.1 L1947.9 407.7 L1951.8 406.5 L1955.6 405.2 L1959.4 404 L1963.5 402.9 L1967.9 401.7 L1972.8 400.5 L1978.1 399.4 L1983.6 398.3 L1989.2 397.2 L1994.6 396.4 L2000 395.6 L2005.3 395 L2010.7 394.6 L2016 394.1 L2021.4 393.7 L2026.7 393.2 L2032.1 392.8 L2037.4 392.4 L2042.8 392.1 L2048.1 391.9 L2053.5 391.9 L2058.8 391.9 L2064.2 392 L2069.5 392.1 L2074.9 392.3 L2080.2 392.6 L2085.6 393 L2090.9 393.4 L2096.2 393.9 L2101.6 394.3 L2106.9 394.8 L2112.3 395.2 L2117.6 395.7 L2123 396.3 L2128.3 397 L2133.7 397.9 L2139.2 399 L2144.7 400.1 L2150 401.3 L2155.1 402.4 L2160 403.4 L2164.9 404.4 L2169.6 405.5 L2173.9 406.6 L2177.8 407.7 L2181.1 408.9 L2184 410.1 L2186.6 411.4 L2188.9 412.8 L2191.2 414.4 L2193.3 416.2 L2195.1 418.1 L2196.9 420.1 L2198.6 422.5 L2200.5 425.1 L2202.4 428.2 L2204.3 431.6 L2206.2 435.3 L2208.5 439 L2211.2 442.5 L2214.5 445.6 L2218.2 448.6 L2222.3 451.6 L2226.7 454.8 L2231.3 458.5 L2236.2 462.8 L2241.5 467.6 L2247 472.6 L2252.6 477.6 L2258 482.6 L2263.4 487.4 L2268.7 492.1 L2274.1 496.8 L2279.4 501.7 L2284.8 506.6 L2290.2 511.9 L2295.8 517.3 L2301.3 522.8 L2306.6 528.2 L2311.5 533.4 L2315.9 538.3 L2320 542.9 L2323.8 547.6 L2327.6 552.3 L2331.5 557.4 L2335.7 563.1 L2339.9 569.1 L2344.1 575.2 L2348 581.2 L2351.6 586.9 L2354.7 592 L2357.6 596.7 L2360.1 601.3 L2362.6 605.9 L2365 610.9 L2367.3 616.4 L2369.6 622.3 L2371.8 628.2 L2373.8 633.8 L2375.7 639 L2377.2 643.5 L2378.4 647.6 L2379.5 651.4 L2380.7 655.2 L2382.3 659.1 L2384.5 663.1 L2387.1 667.1 L2389.8 671.1 L2392.3 675.1 L2394.4 679.1 L2396 683.1 L2397.4 687.1 L2398.5 691.1 L2399.3 695.1 L2399.7 699.2 L2399.7 703.1 L2399.4 706.9 L2398.7 710.7 L2397.9 714.8 L2397.1 719.2 L2396.1 724.1 L2394.9 729.4 L2393.7 734.9 L2392.6 740.5 L2391.7 746 L2391.2 751.3 L2390.9 756.6 L2390.7 762 L2390.6 767.3 L2390.4 772.7 L2390.1 778 L2389.9 783.4 L2389.7 788.7 L2389.4 794.1 L2389 799.4 L2388.6 804.8 L2388.2 810.1 L2387.7 815.5 L2387.1 820.8 L2386.4 826.2 L2385.5 831.6 L2384.6 837.2 L2383.6 842.7 L2382.4 848 L2381 852.9 L2379.4 857.3 L2377.5 861.2 L2375.5 865 L2373.5 868.8 L2371.7 873 L2369.9 877.6 L2368.3 882.7 L2366.7 887.8 L2365.1 892.7 L2363.6 897 L2362.2 900.7 L2360.9 904 L2359.7 906.9 L2358.3 909.9 L2356.9 913.1 L2355.5 916.5 L2354 919.9 L2352.4 923.4 L2350.7 926.9 L2348.9 930.4 L2347 933.9 L2345 937.4 L2342.8 940.9 L2340.6 944.3 L2338.2 947.8 L2335.7 951.3 L2333.1 954.8 L2330.3 958.3 L2327.6 961.8 L2324.9 965.2 L2322.2 968.5 L2319.5 971.8 L2316.8 975.1 L2314.2 978.2 L2311.5 981.2 L2308.9 984 L2306.5 986.5 L2303.9 989 L2301.2 991.6 L2298.1 994.6 L2294.5 998.1 L2290.6 1001.8 L2286.4 1005.8 L2282.2 1009.7 L2278.1 1013.3 L2274.1 1016.8 L2270 1020.1 L2266 1023.3 L2262 1026.4 L2258 1029.4 L2254 1032.2 L2250 1035 L2246 1037.6 L2242 1040.2 L2238 1042.7 L2233.9 1045.3 L2229.9 1047.8 L2225.9 1050.2 L2221.9 1052.6 L2217.9 1054.8 L2213.9 1056.8 L2209.9 1058.8 L2205.9 1060.6 L2201.9 1062.4 L2197.9 1064.1 L2193.8 1065.9 L2189.6 1067.6 L2185.5 1069.2 L2181.6 1070.7 L2177.8 1072.2 L2174.4 1073.4 L2171.3 1074.4 L2168.3 1075.4 L2165.2 1076.4 L2161.8 1077.5 L2158.1 1078.7 L2154.3 1080 L2150.4 1081.4 L2146.2 1082.7 L2141.7 1084.2 L2136.8 1085.7 L2131.5 1087.4 L2126 1089.1 L2120.4 1090.7 L2115 1092.2 L2109.6 1093.6 L2104.3 1094.9 L2098.9 1096.2 L2093.6 1097.3 L2088.2 1098.2 L2082.9 1099 L2077.5 1099.6 L2072.2 1100.1 L2066.8 1100.5 L2061.5 1100.9 L2056.1 1101.2 L2050.8 1101.4 L2045.4 1101.6 L2040.1 1101.6 L2034.8 1101.6 L2029.3 1101.4 L2023.7 1101.1 L2018.2 1100.6 L2012.9 1100.1 L2008 1099.6 L2003.6 1098.9 L1999.5 1098.2 L1995.7 1097.4 L1991.9 1096.5 L1988 1095.6 L1983.9 1094.5 L1979.9 1093.3 L1975.9 1092.1 L1971.9 1090.8 L1967.9 1089.5 L1963.9 1088.2 L1959.9 1086.9 L1955.9 1085.6 L1951.9 1084.2 L1947.9 1082.9 L1943.7 1081.5 L1939.3 1080 L1935.1 1078.6 L1931.1 1077.3 L1927.8 1076.2 L1925.3 1075.2 L1923.5 1074.4 L1922 1073.7 L1920.4 1073 L1918.4 1072.2 L1916 1071.2 L1913.4 1070.2 L1910.6 1069.1 L1907.8 1068 L1905.1 1066.8 L1902.4 1065.6 L1899.7 1064.3 L1897.1 1063 L1894.4 1061.6 L1891.7 1060.1 L1889 1058.6 L1886.4 1057 L1883.7 1055.4 L1881 1053.7 L1878.3 1052.1 L1875.7 1050.5 L1873 1049 L1870.3 1047.4 L1867.6 1045.8 L1865 1044.1 L1862.3 1042.3 L1859.6 1040.5 L1856.9 1038.6 L1854.3 1036.7 L1851.6 1034.7 L1848.9 1032.7 L1846.2 1030.6 L1843.6 1028.5 L1840.9 1026.3 L1838.2 1024 L1835.6 1021.7 L1832.9 1019.3 L1830.2 1016.9 L1827.5 1014.4 L1824.9 1012 L1822.2 1009.6 L1819.5 1007.3 L1816.8 1005 L1814.2 1002.5 L1811.5 1000 L1808.8 997.2 L1806.1 994.3 L1803.5 991.4 L1800.8 988.3 L1798.1 985.3 L1795.4 982.2 L1792.8 979 L1790.1 975.8 L1787.4 972.5 L1784.8 969.2 L1782.1 965.9 L1779.4 962.6 L1776.7 959.2 L1774.1 955.7 L1771.4 951.8 L1768.6 947.6 L1765.8 943 L1763.1 938.3 L1760.4 933.6 L1758 929.1 L1755.9 924.9 L1753.9 920.9 L1752.1 916.9 L1750.4 913 L1748.7 909.1 L1747 905.1 L1745.4 901.2 L1743.8 897.2 L1742.2 893.2 L1740.6 889 L1739 884.7 L1737.4 880.3 L1735.7 875.8 L1734.1 871.1 L1732.6 866.3 L1731.2 861.2 L1729.8 855.9 L1728.4 850.4 L1727.2 844.9 L1725.9 839.5 L1724.7 834.2 L1723.6 828.8 L1722.5 823.5 L1721.5 818.1 L1720.6 812.8 L1719.7 807.6 L1718.9 802.4 L1718.2 797.2 L1717.7 791.8 L1717.2 786.1 L1717 779.8 L1716.8 773.2 L1716.8 766.3 L1717 759.4Z" fill="#e44d35"/>
<path d="M1768.7 752.6 L1768.8 746.3 L1769 739.4 L1769.3 732.4 L1769.7 725.6 L1770 719.2 L1770.5 713.4 L1771 708 L1771.5 702.9 L1772.1 697.7 L1772.7 692.5 L1773.4 687.1 L1774.3 681.8 L1775.1 676.4 L1775.9 671.1 L1776.7 665.7 L1777.4 660 L1778.1 653.8 L1778.8 647.8 L1779.4 642.6 L1780.1 639 L1780.7 637.7 L1781.3 638.2 L1781.9 639.4 L1782.6 640 L1783.4 639 L1784.3 635.9 L1785.3 631.4 L1786.4 626.3 L1787.6 621 L1788.8 616.3 L1790 612.1 L1791.4 608.1 L1792.8 604.1 L1794.2 600.2 L1795.4 596.2 L1796.5 592.3 L1797.5 588.3 L1798.4 584.4 L1799.5 580.3 L1800.8 576.2 L1802.4 571.7 L1804.3 567 L1806.3 562.3 L1808.3 557.7 L1810.2 553.4 L1811.8 549.7 L1813.3 546.2 L1814.8 542.9 L1816.4 539.6 L1818.2 536.1 L1820.2 532.1 L1822.3 527.9 L1824.6 523.7 L1826.8 519.6 L1828.9 516 L1830.8 513 L1832.5 510.4 L1834.3 508 L1836.1 505.5 L1838.2 502.6 L1840.6 499.4 L1843.3 495.8 L1846.1 492.1 L1848.9 488.5 L1851.6 485.3 L1854.3 482.3 L1856.9 479.6 L1859.6 476.9 L1862.3 474.4 L1865 471.9 L1867.6 469.3 L1870.3 466.8 L1873 464.3 L1875.7 462 L1878.3 459.9 L1881 457.9 L1883.7 456.2 L1886.4 454.6 L1889 453.1 L1891.7 451.8 L1894.4 450.8 L1897.1 450 L1899.7 449.3 L1902.4 448.6 L1905.1 447.8 L1907.8 446.8 L1910.6 445.7 L1913.4 444.6 L1916 443.5 L1918.4 442.5 L1920.4 441.6 L1922 440.9 L1923.5 440.2 L1925.3 439.4 L1927.8 438.5 L1931.1 437.3 L1935.1 436 L1939.3 434.6 L1943.7 433.2 L1947.9 431.8 L1951.9 430.5 L1955.9 429.1 L1959.9 427.8 L1963.9 426.5 L1967.9 425.1 L1971.9 423.6 L1975.9 422 L1979.9 420.5 L1983.9 419 L1988 417.7 L1991.9 416.7 L1995.7 415.8 L1999.5 415 L2003.6 414.4 L2008 413.7 L2012.9 413.2 L2018.2 412.8 L2023.7 412.5 L2029.3 412.1 L2034.8 411.7 L2040.1 411.2 L2045.4 410.6 L2050.8 410.1 L2056.1 409.5 L2061.5 409.1 L2066.8 408.6 L2072.2 408.2 L2077.5 407.9 L2082.9 407.7 L2088.2 407.7 L2093.6 408 L2098.9 408.4 L2104.3 409 L2109.6 409.7 L2115 410.4 L2120.4 411.1 L2126 411.8 L2131.5 412.6 L2136.8 413.5 L2141.7 414.4 L2146.2 415.4 L2150.4 416.4 L2154.3 417.5 L2158.1 418.7 L2161.8 419.7 L2165.4 420.8 L2168.8 421.9 L2172.2 423 L2175.2 424 L2177.8 425.1 L2179.9 426 L2181.6 426.7 L2183 427.4 L2184.3 428.6 L2185.8 430.4 L2187.4 433.2 L2188.9 436.7 L2190.4 440.6 L2192.1 444.4 L2193.8 447.8 L2195.7 450.7 L2197.5 453.3 L2199.5 455.8 L2201.8 458.4 L2204.5 461.2 L2207.9 464.2 L2211.9 467.4 L2216.1 470.6 L2220.4 473.9 L2224.6 477.2 L2228.6 480.6 L2232.6 484 L2236.6 487.5 L2240.6 491 L2244.6 494.6 L2248.7 498.2 L2252.7 501.9 L2256.7 505.6 L2260.7 509.4 L2264.7 513.3 L2268.8 517.5 L2273 521.8 L2277.2 526.2 L2281.2 530.6 L2284.8 534.7 L2287.9 538.7 L2290.6 542.5 L2293.1 546.3 L2295.6 549.9 L2298.1 553.4 L2300.8 556.8 L2303.5 560 L2306.1 563.1 L2308.8 566.2 L2311.5 569.5 L2314.2 572.8 L2316.8 576.1 L2319.5 579.6 L2322.2 583.1 L2324.9 586.9 L2327.6 590.9 L2330.4 595.3 L2333.2 599.7 L2335.8 604.1 L2338.2 608.3 L2340.5 612.3 L2342.6 616.3 L2344.6 620.1 L2346.3 623.7 L2347.6 627 L2348.3 629.7 L2348.4 631.9 L2348.3 633.9 L2348.4 636.2 L2348.9 639 L2350.1 642.5 L2351.7 646.4 L2353.4 650.6 L2355.2 654.9 L2356.9 659.1 L2358.6 663.1 L2360.4 667.1 L2362.1 671.1 L2363.7 675.1 L2365 679.1 L2365.9 683 L2366.6 686.8 L2367.1 690.7 L2367.4 694.7 L2367.6 699.2 L2367.6 704.1 L2367.3 709.4 L2366.9 714.9 L2366.5 720.4 L2366.3 725.9 L2366.2 731.4 L2366.2 736.9 L2366.2 742.4 L2366.3 747.7 L2366.3 752.6 L2366.3 757.1 L2366.2 761.1 L2366.2 765 L2366.2 768.8 L2366.3 772.7 L2366.5 776.7 L2366.9 780.7 L2367.2 784.7 L2367.5 788.7 L2367.6 792.7 L2367.6 796.8 L2367.4 800.8 L2367.2 804.8 L2366.8 808.8 L2366.3 812.8 L2365.7 816.8 L2365 820.8 L2364.2 824.8 L2363.3 828.8 L2362.3 832.9 L2361.1 836.9 L2359.9 840.9 L2358.5 844.9 L2357.1 848.9 L2355.6 852.9 L2354.1 857 L2352.6 861.1 L2351 865.2 L2349.3 869.2 L2347.6 873 L2345.8 876.5 L2343.9 879.9 L2342 883.2 L2340.1 886.2 L2338.2 889 L2336.4 891.5 L2334.5 893.7 L2332.7 895.7 L2330.8 897.6 L2328.9 899.7 L2326.9 901.9 L2324.8 904 L2322.7 906.2 L2320.5 908.3 L2318.2 910.4 L2315.6 912.3 L2312.7 914 L2309.8 915.8 L2307.1 917.6 L2304.8 919.7 L2303.1 922.1 L2302 924.7 L2301 927.5 L2299.8 930.3 L2298.1 933.1 L2295.9 936 L2293.3 939 L2290.4 942 L2287.5 944.9 L2284.8 947.8 L2282.1 950.6 L2279.4 953.3 L2276.7 956 L2274.1 958.6 L2271.4 961.2 L2268.7 963.7 L2266 966.1 L2263.4 968.5 L2260.7 970.8 L2258 973.2 L2255.3 975.6 L2252.7 978 L2250 980.4 L2247.3 982.9 L2244.6 985.3 L2242 987.7 L2239.3 990.1 L2236.6 992.6 L2233.9 995 L2231.3 997.3 L2228.6 999.5 L2225.9 1001.7 L2223.3 1003.9 L2220.6 1006 L2217.9 1008 L2215.2 1009.9 L2212.6 1011.8 L2209.9 1013.6 L2207.2 1015.4 L2204.5 1017.3 L2201.9 1019.5 L2199.2 1021.7 L2196.5 1024 L2193.8 1026.1 L2191.2 1028 L2188.5 1029.7 L2185.9 1031.1 L2183.3 1032.4 L2180.6 1033.6 L2177.8 1034.7 L2174.8 1035.7 L2171.8 1036.5 L2168.6 1037.2 L2165.3 1037.9 L2161.8 1038.7 L2158 1039.7 L2154 1040.8 L2149.9 1042 L2145.8 1043.1 L2141.7 1044.1 L2137.7 1045 L2133.7 1045.8 L2129.7 1046.6 L2125.7 1047.4 L2121.7 1048.1 L2117.6 1048.8 L2113.6 1049.6 L2109.6 1050.3 L2105.6 1050.9 L2101.6 1051.4 L2097.5 1051.9 L2093.3 1052.3 L2089.1 1052.6 L2085.1 1052.7 L2081.5 1052.8 L2078.4 1052.6 L2075.7 1052.3 L2073.2 1051.8 L2070.7 1051.3 L2068.2 1050.8 L2065.6 1050.1 L2063.1 1049.4 L2060.6 1048.6 L2057.9 1047.9 L2054.8 1047.4 L2051.2 1047.1 L2047.3 1046.9 L2043.1 1046.8 L2038.9 1046.8 L2034.8 1046.8 L2030.7 1046.8 L2026.7 1046.9 L2022.7 1047 L2018.7 1047.2 L2014.7 1047.4 L2010.7 1047.8 L2006.7 1048.2 L2002.7 1048.7 L1998.7 1049.1 L1994.6 1049.4 L1990.6 1049.6 L1986.6 1049.8 L1982.6 1049.9 L1978.6 1049.8 L1974.6 1049.4 L1970.5 1048.8 L1966.2 1047.9 L1962.1 1046.8 L1958.1 1045.8 L1954.5 1044.7 L1951.4 1043.9 L1948.7 1043 L1946.2 1042.2 L1943.7 1041.2 L1941.2 1040.1 L1938.5 1038.7 L1935.9 1037 L1933.3 1035.3 L1930.6 1033.6 L1927.8 1032 L1924.7 1030.6 L1921.4 1029.3 L1918.1 1028.1 L1914.8 1026.8 L1911.8 1025.4 L1908.9 1023.8 L1906.2 1022.3 L1903.5 1020.6 L1900.9 1019 L1898.4 1017.3 L1895.9 1015.8 L1893.4 1014.2 L1891 1012.6 L1888.7 1011 L1886.4 1009.3 L1884.1 1007.6 L1882 1005.7 L1879.9 1003.9 L1877.8 1001.9 L1875.7 1000 L1873.6 998 L1871.5 995.9 L1869.4 993.8 L1867.3 991.6 L1865 989.3 L1862.5 986.8 L1859.8 984.2 L1857.1 981.5 L1854.3 978.7 L1851.6 975.9 L1848.9 973.1 L1846.2 970.3 L1843.6 967.4 L1840.9 964.4 L1838.2 961.2 L1835.5 957.7 L1832.8 954.1 L1830 950.3 L1827.4 946.4 L1824.9 942.5 L1822.5 938.5 L1820.3 934.4 L1818.2 930.3 L1816.2 926.3 L1814.2 922.4 L1812.2 918.8 L1810.3 915.2 L1808.4 911.8 L1806.6 908.4 L1804.8 905 L1803.2 902 L1801.7 899.2 L1800.2 896.3 L1798.6 893 L1796.8 889 L1794.5 883.9 L1792 878.1 L1789.4 871.8 L1786.9 865.5 L1784.8 859.6 L1783.1 854.1 L1781.6 848.7 L1780.4 843.4 L1779.2 838.2 L1778.1 832.9 L1776.9 827.5 L1775.7 822.2 L1774.6 816.8 L1773.6 811.5 L1772.7 806.1 L1772 800.8 L1771.4 795.4 L1770.9 790.1 L1770.5 784.7 L1770 779.4 L1769.7 774.1 L1769.3 769 L1769 763.8 L1768.8 758.4Z" fill="#f2704c"/>
<path d="M1794.1 759.3 L1793.8 755.3 L1793.7 751.3 L1793.7 747.3 L1793.9 743.3 L1794.1 739.3 L1794.5 735.4 L1795.2 731.6 L1795.9 727.7 L1796.5 723.7 L1796.8 719.2 L1796.8 714.3 L1796.5 709 L1796.1 703.5 L1795.7 697.9 L1795.4 692.5 L1795.4 687.1 L1795.4 681.8 L1795.4 676.4 L1795.4 671.1 L1795.4 665.7 L1795.4 660.2 L1795.3 654.5 L1795.3 648.9 L1795.3 643.7 L1795.4 639 L1795.8 635.1 L1796.3 631.7 L1796.9 628.7 L1797.5 625.8 L1798.1 623 L1798.7 620 L1799.2 617.2 L1799.7 614.4 L1800.3 611.9 L1800.8 609.6 L1801.2 607.6 L1801.6 605.9 L1802 604.4 L1802.6 603 L1803.5 601.6 L1804.8 600.3 L1806.5 599.4 L1808.4 598.4 L1810.1 597 L1811.5 594.9 L1812.3 591.9 L1812.7 588.2 L1813 584.1 L1813.4 580 L1814.2 576.2 L1815.4 572.6 L1817 569.1 L1818.7 565.6 L1820.5 562.2 L1822.2 558.8 L1823.8 555.4 L1825.4 552.1 L1827 548.8 L1828.6 545.7 L1830.2 542.7 L1831.8 540.2 L1833.3 538 L1834.8 535.8 L1836.5 533.5 L1838.2 530.7 L1840.2 527.4 L1842.3 523.6 L1844.5 519.6 L1846.7 515.7 L1848.9 512 L1851 508.6 L1853.1 505.3 L1855.2 502 L1857.4 498.9 L1859.6 496 L1861.9 493.1 L1864.3 490.3 L1866.7 487.6 L1869.1 485 L1871.7 482.6 L1874.2 480.2 L1876.9 477.9 L1879.6 475.7 L1882.3 473.6 L1885 471.9 L1887.7 470.4 L1890.4 469.2 L1893 468.2 L1895.7 467.4 L1898.4 466.5 L1901 465.9 L1903.6 465.4 L1906.2 465 L1908.9 464.5 L1911.8 463.9 L1914.8 463 L1918.1 461.9 L1921.4 460.8 L1924.7 459.6 L1927.8 458.5 L1930.6 457.5 L1933.3 456.4 L1935.9 455.4 L1938.5 454.3 L1941.2 453.2 L1943.7 451.9 L1946.2 450.5 L1948.7 449.1 L1951.4 447.8 L1954.5 446.5 L1958.1 445.3 L1962.1 444.3 L1966.2 443.2 L1970.5 442.2 L1974.6 441.1 L1978.5 440 L1982.3 438.9 L1986.1 437.8 L1990.2 436.8 L1994.6 435.8 L1999.6 434.9 L2004.9 434 L2010.4 433.1 L2015.9 432.4 L2021.4 431.8 L2026.7 431.4 L2032.1 431.2 L2037.4 431.1 L2042.8 430.9 L2048.1 430.4 L2053.5 429.5 L2058.8 428.3 L2064.2 426.9 L2069.5 425.8 L2074.9 425.1 L2080.2 424.9 L2085.6 425.1 L2090.9 425.5 L2096.2 426 L2101.6 426.4 L2106.9 426.8 L2112.3 427.2 L2117.6 427.7 L2123 428.3 L2128.3 429.1 L2133.9 430.2 L2139.7 431.5 L2145.3 432.9 L2150.6 434.4 L2155.1 435.8 L2158.7 437.1 L2161.6 438.5 L2164 439.9 L2166.2 441.2 L2168.4 442.5 L2170.7 443.5 L2172.7 444.3 L2174.6 445.2 L2176.3 446.3 L2177.8 447.8 L2178.9 450 L2179.5 452.7 L2180.1 455.6 L2180.8 458.5 L2181.8 461.2 L2183.3 463.7 L2185 466.1 L2186.9 468.5 L2189 470.8 L2191.2 473.2 L2193.5 475.5 L2195.9 477.8 L2198.5 480.1 L2201.4 482.5 L2204.5 485.3 L2208.1 488.3 L2212.1 491.7 L2216.2 495.2 L2220.5 498.9 L2224.6 502.6 L2228.7 506.6 L2232.9 510.7 L2237.1 514.9 L2241.1 519 L2244.6 522.7 L2247.7 526 L2250.5 529 L2253 531.8 L2255.4 534.5 L2258 537.4 L2260.7 540.4 L2263.5 543.3 L2266.2 546.3 L2268.9 549.2 L2271.4 552.1 L2273.7 554.8 L2275.8 557.4 L2277.8 560 L2279.9 562.6 L2282.1 565.5 L2284.4 568.6 L2286.9 571.8 L2289.3 575.2 L2291.8 578.4 L2294.1 581.5 L2296.4 584.3 L2298.5 586.9 L2300.7 589.5 L2302.8 592.1 L2304.8 594.9 L2306.8 597.9 L2308.8 601.2 L2310.8 604.5 L2312.6 607.8 L2314.2 610.9 L2315.5 614 L2316.6 617 L2317.6 619.9 L2318.5 622.8 L2319.5 625.6 L2320.5 628.3 L2321.5 630.8 L2322.5 633.2 L2323.6 635.9 L2324.9 639 L2326.3 642.6 L2328 646.5 L2329.7 650.7 L2331.4 654.9 L2332.9 659.1 L2334.2 663.1 L2335.3 667.1 L2336.4 671.1 L2337.4 675.1 L2338.2 679.1 L2339 683.1 L2339.7 687.1 L2340.2 691.1 L2340.7 695.1 L2340.9 699.2 L2340.8 703.2 L2340.3 707.2 L2339.7 711.2 L2339.4 715.2 L2339.6 719.2 L2340.5 723.2 L2341.9 727.2 L2343.5 731.2 L2345 735.3 L2346.2 739.3 L2347.1 743.3 L2347.7 747.3 L2348.1 751.3 L2348.5 755.3 L2348.9 759.3 L2349.3 763.3 L2349.6 767.3 L2349.8 771.4 L2350 775.4 L2350.3 779.4 L2350.6 783.4 L2351 787.4 L2351.4 791.4 L2351.6 795.4 L2351.6 799.4 L2351.4 803.4 L2351 807.4 L2350.5 811.5 L2349.8 815.5 L2348.9 819.5 L2347.8 823.6 L2346.5 827.7 L2345.1 831.8 L2343.6 835.8 L2342.2 839.5 L2341 843 L2339.8 846.2 L2338.5 849.3 L2337.1 852.3 L2335.6 855.6 L2333.8 858.9 L2331.9 862.2 L2329.8 865.7 L2327.5 869.2 L2324.9 873 L2321.7 877.2 L2318 881.9 L2314.2 886.7 L2310.5 890.9 L2307.5 894.3 L2305.1 896.6 L2303.2 898 L2301.5 898.9 L2299.9 899.8 L2298.1 901 L2296.2 902.7 L2294.2 904.5 L2292.3 906.3 L2290.5 908.3 L2288.8 910.4 L2287.3 912.6 L2286.1 915.1 L2284.9 917.6 L2283.6 920.1 L2282.1 922.4 L2280.2 924.6 L2278.2 926.6 L2276 928.6 L2273.8 930.7 L2271.4 933.1 L2268.8 935.9 L2266.1 938.9 L2263.3 942 L2260.6 945.1 L2258 947.8 L2255.7 950.2 L2253.5 952.5 L2251.4 954.5 L2249.3 956.5 L2247.3 958.5 L2245.4 960.5 L2243.7 962.4 L2241.9 964.2 L2240.1 966 L2238 967.9 L2235.5 969.8 L2232.9 971.7 L2230.1 973.6 L2227.3 975.4 L2224.6 977.2 L2221.9 978.9 L2219.2 980.4 L2216.6 981.9 L2213.9 983.5 L2211.2 985.3 L2208.5 987.3 L2205.8 989.5 L2203.1 991.7 L2200.4 993.9 L2197.9 996 L2195.3 997.7 L2192.8 999.2 L2190.3 1000.7 L2187.9 1002.2 L2185.8 1004 L2184 1006 L2182.4 1008.4 L2180.9 1010.7 L2179.4 1012.9 L2177.8 1014.7 L2176.1 1015.9 L2174.3 1016.8 L2172.5 1017.4 L2170.6 1018 L2168.4 1018.7 L2166.1 1019.5 L2163.7 1020.3 L2161.1 1021.1 L2158.2 1021.9 L2155.1 1022.7 L2151.5 1023.5 L2147.5 1024.4 L2143.4 1025.2 L2139.1 1026 L2135 1026.7 L2131 1027.4 L2127 1028 L2123 1028.5 L2119 1029 L2115 1029.4 L2111 1029.7 L2106.9 1029.9 L2102.9 1030 L2098.9 1030.1 L2094.9 1030 L2090.9 1029.9 L2086.9 1029.7 L2082.9 1029.5 L2078.9 1029.1 L2074.9 1028.7 L2070.8 1028.1 L2066.8 1027.4 L2062.8 1026.7 L2058.8 1025.9 L2054.8 1025.4 L2050.8 1024.9 L2046.8 1024.6 L2042.8 1024.3 L2038.8 1024.1 L2034.8 1024 L2030.7 1024.1 L2026.7 1024.4 L2022.7 1024.7 L2018.7 1025.1 L2014.7 1025.4 L2010.7 1025.6 L2006.7 1025.9 L2002.7 1026.2 L1998.7 1026.5 L1994.6 1026.7 L1990.6 1027 L1986.6 1027.3 L1982.6 1027.6 L1978.6 1027.7 L1974.6 1027.4 L1970.5 1026.6 L1966.2 1025.4 L1962.1 1024 L1958.1 1022.6 L1954.5 1021.4 L1951.4 1020.2 L1948.7 1019.2 L1946.2 1018.1 L1943.7 1017.1 L1941.2 1016 L1938.4 1014.9 L1935.6 1013.9 L1932.9 1012.8 L1930.2 1011.7 L1927.8 1010.7 L1925.7 1009.6 L1923.8 1008.6 L1922.1 1007.5 L1920.3 1006.5 L1918.4 1005.3 L1916.4 1004.1 L1914.2 1002.8 L1912 1001.5 L1909.8 1000.1 L1907.7 998.6 L1905.8 997.1 L1903.9 995.6 L1902.1 994.1 L1900.2 992.4 L1898.4 990.6 L1896.5 988.6 L1894.5 986.5 L1892.5 984.3 L1890.6 982.1 L1889 979.9 L1887.7 977.8 L1886.7 975.6 L1885.8 973.5 L1884.9 971.4 L1883.7 969.2 L1882.3 967.1 L1880.8 964.9 L1879.2 962.8 L1877.5 960.7 L1875.7 958.5 L1873.8 956.4 L1871.8 954.4 L1869.8 952.4 L1867.5 950.2 L1865 947.8 L1862 945.1 L1858.7 942.2 L1855.2 939.2 L1851.9 936.1 L1848.9 933.1 L1846.4 930.2 L1844.2 927.3 L1842.2 924.4 L1840.2 921.4 L1838.2 918.4 L1836.2 915.2 L1834.3 912 L1832.4 908.7 L1830.5 905.4 L1828.9 902.4 L1827.4 899.9 L1826.1 897.9 L1824.9 895.9 L1823.7 893.1 L1822.2 889 L1820.4 883.1 L1818.5 875.7 L1816.5 867.8 L1814.6 859.9 L1812.8 852.9 L1811.3 846.9 L1809.8 841.2 L1808.5 835.9 L1807.3 830.9 L1806.1 826.2 L1805.2 821.8 L1804.3 818 L1803.6 814.3 L1802.9 810.4 L1802.1 806.1 L1801.3 801.1 L1800.5 795.6 L1799.7 789.9 L1798.9 784.4 L1798.1 779.4 L1797.3 774.9 L1796.3 770.9 L1795.4 767 L1794.7 763.2Z" fill="#fc8c59"/>
<path d="M1812.8 759.3 L1812.7 755.3 L1812.9 751.2 L1813.4 747.1 L1813.9 743.1 L1814.2 739.3 L1814.3 735.6 L1814.5 731.9 L1814.5 728.4 L1814.4 725.1 L1814.2 721.9 L1813.6 719 L1812.7 716.4 L1811.7 713.9 L1810.8 711.3 L1810.2 708.5 L1809.8 705.5 L1809.6 702.5 L1809.6 699.3 L1809.6 696 L1809.5 692.5 L1809.4 688.7 L1809.4 684.7 L1809.3 680.6 L1809.2 676.5 L1808.8 672.4 L1808.2 668.3 L1807.3 664.1 L1806.4 659.9 L1805.5 656 L1804.8 652.4 L1804.2 649.5 L1803.4 647.4 L1802.9 645.3 L1802.8 642.7 L1803.5 639 L1805.1 633.6 L1807.7 626.7 L1810.6 619.6 L1813.4 613.1 L1815.5 608.3 L1816.8 605.6 L1817.6 604.3 L1818.2 603.9 L1818.8 603.7 L1819.5 602.9 L1820.5 601.8 L1821.6 600.6 L1822.8 599.4 L1823.9 598 L1824.9 596.2 L1825.7 593.9 L1826.4 591.2 L1827.1 588.2 L1827.9 585.4 L1828.9 582.9 L1830 580.7 L1831.2 578.9 L1832.6 577.1 L1834 575.4 L1835.6 573.5 L1837.3 571.5 L1839.2 569.4 L1841.2 567.3 L1843.2 565.1 L1844.9 562.8 L1846.4 560.3 L1847.7 557.6 L1848.9 554.9 L1850.1 552.1 L1851.6 549.4 L1853.3 546.8 L1855.2 544.1 L1857.2 541.4 L1859.1 538.7 L1861 536.1 L1862.6 533.4 L1864.2 530.7 L1865.7 528 L1867.3 525.4 L1869 522.7 L1870.7 520 L1872.4 517.2 L1874.2 514.5 L1876.2 511.8 L1878.3 509.3 L1880.8 507 L1883.4 504.9 L1886.2 502.8 L1889 500.7 L1891.7 498.6 L1894.4 496.4 L1897.2 494 L1899.9 491.6 L1902.6 489.6 L1905.1 487.9 L1907.4 486.8 L1909.5 486.1 L1911.5 485.7 L1913.6 485.4 L1915.8 485.3 L1918.1 485.3 L1920.4 485.7 L1922.8 486.2 L1925.3 486.5 L1927.8 486.6 L1930.4 486.3 L1933.1 485.9 L1935.8 485.3 L1938.5 484.6 L1941.2 483.9 L1943.8 483.3 L1946.5 482.6 L1949.2 481.9 L1951.9 481 L1954.5 479.9 L1957.1 478.5 L1959.6 476.7 L1962.1 474.9 L1964.8 473.2 L1967.9 471.9 L1971.6 471 L1975.8 470.3 L1980.1 469.9 L1984.3 469.5 L1988 469.2 L1991.1 468.9 L1993.8 468.6 L1996.3 468.4 L1998.8 468.4 L2001.3 468.5 L2004 468.9 L2006.7 469.5 L2009.4 470.2 L2012 471 L2014.7 471.9 L2017.5 472.8 L2020.4 473.8 L2023.2 474.8 L2025.8 476 L2028.1 477.2 L2029.8 478.7 L2031.2 480.3 L2032.4 482 L2033.5 483.7 L2034.8 485.3 L2036 486.7 L2037.1 488.2 L2038.3 489.5 L2039.7 490.8 L2041.4 491.9 L2043.6 492.9 L2046 493.8 L2048.7 494.6 L2051.6 495.3 L2054.8 496 L2058.4 496.7 L2062.3 497.4 L2066.5 498 L2070.7 498.5 L2074.9 498.6 L2078.9 498.4 L2082.9 497.9 L2086.9 497.3 L2090.9 496.6 L2094.9 496 L2099 495.5 L2103.3 495 L2107.4 494.5 L2111.4 494 L2115 493.3 L2118.1 492.3 L2120.8 491.1 L2123.3 489.9 L2125.8 488.8 L2128.3 487.9 L2131 487.3 L2133.7 486.9 L2136.4 486.6 L2139 486.5 L2141.7 486.6 L2144.4 487 L2147.2 487.6 L2149.9 488.5 L2152.6 489.5 L2155.1 490.6 L2157.4 492 L2159.7 493.5 L2161.9 495.2 L2163.9 497 L2165.8 498.6 L2167.4 500.3 L2168.8 502 L2170.1 503.7 L2171.3 505.3 L2172.5 506.6 L2173.5 507.7 L2174.4 508.4 L2175.3 509.1 L2176.4 509.7 L2177.8 510.7 L2179.5 511.8 L2181.4 513.1 L2183.6 514.4 L2185.9 515.9 L2188.5 517.3 L2191.4 518.8 L2194.7 520.3 L2198.1 521.9 L2201.4 523.6 L2204.5 525.4 L2207.4 527.3 L2210.1 529.4 L2212.7 531.6 L2215.3 533.8 L2217.9 536.1 L2220.6 538.4 L2223.3 540.7 L2225.9 543.1 L2228.6 545.6 L2231.3 548.1 L2234 550.7 L2236.8 553.3 L2239.6 556 L2242.2 558.8 L2244.6 561.5 L2246.8 564.2 L2248.8 566.9 L2250.6 569.6 L2252.4 572.2 L2254 574.8 L2255.5 577.3 L2256.8 579.8 L2258 582.2 L2259.3 584.6 L2260.7 586.9 L2262.2 589.1 L2263.8 591.2 L2265.4 593.3 L2267.1 595.4 L2268.7 597.6 L2270.4 599.7 L2272.1 601.8 L2273.8 604 L2275.4 606.1 L2276.7 608.3 L2277.8 610.4 L2278.7 612.5 L2279.4 614.7 L2280.1 616.8 L2280.7 618.9 L2281.4 621.1 L2282 623.3 L2282.5 625.5 L2283 627.6 L2283.4 629.6 L2283.6 631.6 L2283.5 633.4 L2283.4 635.2 L2283.7 637.1 L2284.8 639 L2286.7 641 L2289.4 643.1 L2292.5 645.3 L2295.5 647.4 L2298.1 649.7 L2300.3 651.9 L2302.4 654.2 L2304.3 656.5 L2306 659 L2307.5 661.7 L2308.6 664.8 L2309.5 668.2 L2310.2 671.7 L2310.9 675.4 L2311.5 679.1 L2312.1 683.1 L2312.5 687.3 L2313 691.5 L2313.5 695.5 L2314.2 699.2 L2315 702.3 L2316 705 L2317.1 707.5 L2318.3 710 L2319.5 712.5 L2320.8 715.2 L2322.2 717.9 L2323.7 720.6 L2325 723.2 L2326.2 725.9 L2327.3 728.5 L2328.2 730.9 L2329.1 733.4 L2329.8 736.2 L2330.2 739.3 L2330.2 743 L2329.9 747.1 L2329.4 751.5 L2329 755.6 L2328.9 759.3 L2329.1 762.4 L2329.6 765.1 L2330.2 767.7 L2330.9 770.1 L2331.5 772.7 L2332.3 775.4 L2333.1 778 L2334 780.7 L2334.8 783.4 L2335.6 786.1 L2336.3 788.7 L2337 791.4 L2337.6 794.1 L2338.1 796.8 L2338.2 799.4 L2338.1 802.1 L2337.6 804.6 L2337 807.3 L2336.3 810 L2335.6 812.8 L2334.9 815.9 L2334.2 819.1 L2333.4 822.4 L2332.5 825.7 L2331.5 828.8 L2330.4 831.8 L2329.3 834.8 L2327.9 837.6 L2326.5 840.5 L2324.9 843.5 L2322.9 846.7 L2320.7 849.9 L2318.4 853.2 L2316.2 856.4 L2314.2 859.6 L2312.4 862.6 L2310.8 865.6 L2309.2 868.5 L2307.7 871.4 L2306.1 874.3 L2304.6 877.3 L2303.1 880.4 L2301.5 883.5 L2299.9 886.4 L2298.1 889 L2296.1 891.2 L2293.9 893.1 L2291.6 894.9 L2289.4 896.6 L2287.4 898.4 L2285.7 900.2 L2284 902 L2282.5 903.8 L2281 905.7 L2279.4 907.7 L2277.8 910 L2276.2 912.5 L2274.6 915 L2273 917.5 L2271.4 919.7 L2269.8 921.7 L2268.3 923.6 L2266.8 925.3 L2265.1 927.1 L2263.4 929.1 L2261.4 931.4 L2259.1 933.9 L2256.9 936.5 L2254.7 938.9 L2252.7 941.1 L2250.9 943 L2249.2 944.6 L2247.6 946.1 L2246.1 947.6 L2244.6 949.2 L2243.3 950.8 L2242.2 952.4 L2241.1 954 L2239.7 955.6 L2238 957.2 L2235.7 958.8 L2233.1 960.5 L2230.3 962.1 L2227.4 963.7 L2224.6 965.2 L2221.9 966.6 L2219.2 967.9 L2216.6 969.2 L2213.9 970.5 L2211.2 971.9 L2208.5 973.4 L2205.6 975.1 L2202.8 976.8 L2200.2 978.5 L2197.9 979.9 L2195.9 981.1 L2194.2 982 L2192.7 983 L2191.3 984 L2189.8 985.3 L2188.4 986.9 L2187 988.7 L2185.7 990.7 L2184.4 992.7 L2183.1 994.6 L2182.1 996.6 L2181.1 998.6 L2180.2 1000.5 L2179.1 1002.4 L2177.8 1004 L2176.2 1005.3 L2174.5 1006.5 L2172.7 1007.5 L2170.6 1008.4 L2168.4 1009.3 L2166.1 1010.2 L2163.7 1011.1 L2161.1 1011.9 L2158.2 1012.7 L2155.1 1013.3 L2151.5 1013.9 L2147.5 1014.4 L2143.4 1014.8 L2139.1 1015.1 L2135 1015.3 L2131 1015.4 L2127 1015.3 L2123 1015.2 L2119 1014.9 L2115 1014.7 L2111 1014.3 L2106.9 1013.9 L2102.9 1013.5 L2098.9 1013 L2094.9 1012.7 L2090.9 1012.4 L2086.9 1012.1 L2082.9 1011.9 L2078.9 1011.6 L2074.9 1011.3 L2070.8 1011 L2066.8 1010.6 L2062.8 1010.2 L2058.8 1009.8 L2054.8 1009.3 L2050.7 1008.8 L2046.5 1008.3 L2042.3 1007.7 L2038.3 1007.2 L2034.8 1006.6 L2031.8 1006.1 L2029.2 1005.4 L2026.9 1004.9 L2024.4 1004.3 L2021.4 1004 L2017.8 1003.8 L2013.8 1003.8 L2009.7 1003.9 L2005.4 1004 L2001.3 1004 L1997.3 1003.9 L1993.3 1003.8 L1989.3 1003.6 L1985.3 1003.3 L1981.3 1002.6 L1977.3 1001.6 L1973.3 1000.3 L1969.2 998.9 L1965.2 997.4 L1961.2 996 L1957.1 994.6 L1952.9 993.2 L1948.7 991.8 L1944.8 990.5 L1941.2 989.3 L1938 988.1 L1935.1 987.1 L1932.5 986.1 L1930.1 985.1 L1927.8 983.9 L1925.7 982.7 L1923.8 981.5 L1922.1 980.3 L1920.3 978.9 L1918.4 977.2 L1916.4 975.4 L1914.2 973.2 L1912 971 L1909.8 968.7 L1907.7 966.5 L1905.8 964.4 L1904 962.4 L1902.3 960.3 L1900.4 958.2 L1898.4 955.8 L1896.1 953.3 L1893.6 950.7 L1891.1 948 L1888.6 945.2 L1886.4 942.5 L1884.4 939.8 L1882.5 937.1 L1880.8 934.5 L1879 931.8 L1877 929.1 L1874.8 926.4 L1872.4 923.6 L1870 920.9 L1867.5 918.2 L1865 915.7 L1862.3 913.5 L1859.5 911.5 L1856.7 909.6 L1854 907.5 L1851.6 905 L1849.4 902.2 L1847.4 899 L1845.6 895.7 L1843.9 892.3 L1842.2 889 L1840.7 885.9 L1839.4 882.8 L1838.1 879.7 L1836.8 876.4 L1835.6 873 L1834.2 869.2 L1832.8 865.2 L1831.4 861.1 L1830.1 857 L1828.9 852.9 L1827.6 848.8 L1826.3 844.6 L1825.1 840.4 L1824.1 836.4 L1823.5 832.9 L1823.4 829.9 L1823.8 827.3 L1824.3 825 L1824.7 822.5 L1824.9 819.5 L1824.6 815.9 L1824.1 811.9 L1823.5 807.8 L1822.9 803.5 L1822.2 799.4 L1821.5 795.4 L1820.7 791.4 L1819.9 787.4 L1819.1 783.4 L1818.2 779.4 L1817.1 775.4 L1815.8 771.4 L1814.5 767.3 L1813.5 763.3Z" fill="#fdaf79"/>
<path d="M1850.3 889 L1848.7 884.9 L1847 878.9 L1845.3 872.1 L1843.7 865.3 L1842.2 859.6 L1840.9 854.9 L1839.7 850.6 L1838.5 846.6 L1837.6 843 L1836.9 839.5 L1836.6 836.5 L1836.8 834 L1837 831.7 L1837.1 829.2 L1836.9 826.2 L1836.2 822.7 L1835.2 818.9 L1834 814.9 L1832.8 810.7 L1831.5 806.1 L1830.2 801.1 L1828.8 795.6 L1827.4 789.9 L1826 784.4 L1824.9 779.4 L1823.9 774.8 L1823.1 770.6 L1822.4 766.5 L1821.8 762.8 L1821.5 759.3 L1821.5 756.4 L1821.8 754.1 L1822.2 751.9 L1822.6 749.4 L1822.9 746 L1822.9 741.4 L1822.8 735.9 L1822.7 730.1 L1822.5 724.3 L1822.2 719.2 L1821.7 714.8 L1821.1 710.7 L1820.5 706.9 L1819.9 703.1 L1819.5 699.2 L1819.4 695 L1819.4 690.8 L1819.6 686.6 L1819.6 682.7 L1819.5 679.1 L1819.2 676.1 L1818.8 673.5 L1818.2 671.1 L1817.6 668.6 L1816.8 665.7 L1815.8 662.6 L1814.4 659.3 L1813 655.8 L1811.9 651.8 L1811.5 647 L1811.8 640.8 L1812.7 633.2 L1814 625.5 L1815.4 618.6 L1816.8 613.6 L1818.3 611.1 L1819.9 610.3 L1821.6 610.5 L1823.3 611 L1824.9 610.9 L1826.3 610.5 L1827.7 610.1 L1829 609.7 L1830.3 609.1 L1831.5 608.3 L1832.7 607 L1833.7 605.6 L1834.7 603.9 L1835.8 602.1 L1836.9 600.2 L1838.1 598.2 L1839.5 596.1 L1840.8 593.8 L1842.2 591.6 L1843.6 589.5 L1844.9 587.5 L1846.2 585.6 L1847.5 583.7 L1848.8 581.9 L1850.3 580.2 L1851.7 578.7 L1853.1 577.3 L1854.6 576 L1856.3 574.8 L1858.3 573.5 L1860.6 572.1 L1863.2 570.7 L1866 569.3 L1868.9 568 L1871.7 566.8 L1874.3 565.8 L1877 565 L1879.7 564.3 L1882.3 563.6 L1885 562.8 L1887.7 561.9 L1890.4 560.9 L1893 559.9 L1895.7 559.2 L1898.4 558.8 L1901 558.9 L1903.6 559.5 L1906.2 560.3 L1908.9 561 L1911.8 561.5 L1914.9 561.7 L1918.4 562 L1921.8 562.1 L1925.1 561.9 L1927.8 561.5 L1929.9 560.5 L1931.5 559.2 L1932.9 557.7 L1934.3 556.1 L1935.8 554.8 L1937.5 553.5 L1939.1 552.2 L1940.9 550.9 L1942.9 550 L1945.2 549.4 L1948 549.4 L1951.3 549.9 L1954.8 550.6 L1958.2 551.4 L1961.2 552.1 L1963.9 552.9 L1966.3 553.9 L1968.6 554.8 L1970.9 555.4 L1973.3 555.4 L1975.7 554.7 L1978.1 553.3 L1980.5 551.6 L1982.9 549.8 L1985.3 548.1 L1987.7 546.5 L1990 544.7 L1992.4 543 L1994.8 541.4 L1997.3 540.1 L1999.8 539 L2002.4 538.1 L2005 537.4 L2007.7 536.7 L2010.7 536.1 L2013.9 535.4 L2017.2 534.8 L2020.7 534.2 L2024.4 533.8 L2028.1 533.4 L2031.9 533.1 L2035.9 533 L2040 532.9 L2044.1 532.8 L2048.1 532.7 L2052.2 532.6 L2056.5 532.6 L2060.6 532.6 L2064.6 532.4 L2068.2 532 L2071.3 531.5 L2074 530.7 L2076.5 529.9 L2079 528.9 L2081.5 528 L2084.2 527 L2086.9 525.9 L2089.6 524.8 L2092.2 523.9 L2094.9 523.4 L2097.6 523.3 L2100.3 523.6 L2102.9 524.1 L2105.6 524.7 L2108.3 525.4 L2111 526.1 L2113.6 527 L2116.3 528 L2119 528.8 L2121.7 529.4 L2124.3 529.6 L2127 529.7 L2129.7 529.6 L2132.3 529.4 L2135 529.4 L2137.8 529.3 L2140.6 529.1 L2143.3 528.9 L2146 528.9 L2148.4 529.4 L2150.5 530.3 L2152.4 531.7 L2154.1 533.3 L2155.9 534.8 L2157.7 536.1 L2159.8 537 L2162 537.9 L2164.2 538.6 L2166.4 539.3 L2168.4 540.1 L2170.3 540.9 L2172.1 541.6 L2173.8 542.4 L2175.7 543.2 L2177.8 544.1 L2180.2 545 L2182.9 545.9 L2185.6 546.8 L2188.4 548 L2191.2 549.4 L2193.8 551.3 L2196.5 553.4 L2199.2 555.7 L2201.9 558 L2204.5 560.1 L2207.2 562 L2209.9 563.7 L2212.6 565.4 L2215.2 567.1 L2217.9 568.8 L2220.6 570.5 L2223.3 572.2 L2225.9 573.9 L2228.6 575.6 L2231.3 577.5 L2233.9 579.5 L2236.6 581.6 L2239.3 583.7 L2242 585.9 L2244.6 588.2 L2247.4 590.6 L2250.1 593.1 L2252.9 595.6 L2255.5 598.1 L2258 600.2 L2260.4 602 L2262.7 603.6 L2264.8 605 L2266.9 606.5 L2268.7 608.3 L2270.4 610.2 L2271.9 612.3 L2273.3 614.5 L2274.5 616.8 L2275.4 618.9 L2276.1 621.1 L2276.5 623.3 L2276.7 625.5 L2276.8 627.6 L2276.7 629.6 L2276.3 631.5 L2275.6 633.3 L2274.7 635 L2274.1 636.9 L2274.1 639 L2274.6 641.5 L2275.6 644.3 L2276.9 647.1 L2278.2 649.9 L2279.4 652.4 L2280.5 654.5 L2281.5 656.3 L2282.5 658.1 L2283.6 659.8 L2284.8 661.7 L2286.1 663.8 L2287.5 665.9 L2288.9 668.1 L2290.3 670.3 L2291.4 672.4 L2292.4 674.6 L2293.4 676.8 L2294.2 678.9 L2294.7 681.1 L2294.8 683.1 L2294.4 685.1 L2293.5 687 L2292.4 688.9 L2291.2 690.7 L2290.1 692.5 L2289 694.2 L2287.7 695.9 L2286.4 697.5 L2285.4 699.1 L2284.8 700.5 L2284.4 701.8 L2284.3 703 L2284.5 704 L2285 705 L2286.1 705.8 L2287.8 706.4 L2290.2 706.6 L2292.9 706.8 L2295.6 707.3 L2298.1 708.5 L2300.4 710.5 L2302.7 713.1 L2304.9 716 L2307 719 L2308.8 721.9 L2310.5 724.6 L2312 727.4 L2313.3 730.1 L2314.5 732.8 L2315.5 735.3 L2316.4 737.5 L2317.1 739.6 L2317.7 741.6 L2318 743.7 L2318.2 746 L2318 748.5 L2317.4 751.1 L2316.7 753.8 L2316 756.6 L2315.5 759.3 L2315 762 L2314.5 764.8 L2314.2 767.5 L2314 770.2 L2314.2 772.7 L2314.8 775.1 L2315.8 777.4 L2317 779.5 L2318.2 781.5 L2319.5 783.4 L2320.8 784.9 L2322.3 786.2 L2323.7 787.4 L2325.1 788.6 L2326.2 790.1 L2327.1 791.7 L2327.9 793.6 L2328.6 795.5 L2328.9 797.4 L2328.9 799.4 L2328.3 801.4 L2327.2 803.5 L2325.9 805.6 L2324.6 807.8 L2323.5 810.1 L2322.6 812.7 L2321.8 815.4 L2321.1 818.2 L2320.3 820.9 L2319.5 823.5 L2318.8 825.8 L2318.1 827.8 L2317.4 829.8 L2316.6 831.9 L2315.5 834.2 L2314.1 836.7 L2312.5 839.4 L2310.7 842.2 L2309 844.9 L2307.5 847.6 L2306.2 850 L2305.1 852.4 L2304 854.7 L2303.1 857.1 L2302.1 859.6 L2301.4 862.1 L2300.8 864.7 L2300.1 867.4 L2299.3 870.1 L2298.1 873 L2296.3 876.1 L2294.1 879.6 L2291.7 883.1 L2289.4 886.3 L2287.4 889 L2285.8 890.9 L2284.5 892.2 L2283.2 893.3 L2282 894.3 L2280.7 895.7 L2279.4 897.4 L2278.1 899.2 L2276.8 901.1 L2275.5 903 L2274.1 905 L2272.5 907.1 L2270.9 909.2 L2269.3 911.4 L2267.7 913.6 L2266 915.7 L2264.5 917.9 L2262.9 920 L2261.3 922.1 L2259.7 924.2 L2258 926.4 L2256.2 928.8 L2254.3 931.3 L2252.4 933.8 L2250.5 936.2 L2248.7 938.5 L2246.9 940.6 L2245.3 942.5 L2243.7 944.4 L2242.1 946.2 L2240.6 947.8 L2239.3 949.4 L2238.1 950.8 L2236.9 952.1 L2235.6 953.3 L2233.9 954.5 L2231.9 955.6 L2229.6 956.6 L2227.1 957.6 L2224.5 958.6 L2221.9 959.9 L2219.3 961.3 L2216.6 962.9 L2213.9 964.6 L2211.2 966.3 L2208.5 967.9 L2206 969.3 L2203.5 970.6 L2201.1 972 L2198.7 973.2 L2196.5 974.6 L2194.4 975.9 L2192.3 977.2 L2190.3 978.5 L2188.6 979.8 L2187.2 981.2 L2186.3 982.8 L2185.8 984.4 L2185.5 986.1 L2185.2 987.7 L2184.5 989.3 L2183.4 990.7 L2182.2 992 L2180.9 993.2 L2179.4 994.6 L2177.8 996 L2176.2 997.5 L2174.4 999.3 L2172.6 1001 L2170.6 1002.6 L2168.4 1004 L2166 1005.1 L2163.4 1006.1 L2160.6 1007 L2157.8 1007.6 L2155.1 1008 L2152.4 1008.1 L2149.7 1008 L2147.1 1007.6 L2144.4 1007.2 L2141.7 1006.6 L2139 1006 L2136.4 1005.2 L2133.7 1004.4 L2131 1003.5 L2128.3 1002.6 L2125.7 1001.9 L2123 1001.2 L2120.3 1000.4 L2117.6 999.6 L2115 998.6 L2112.2 997.5 L2109.5 996.3 L2106.8 994.9 L2104.1 993.5 L2101.6 991.9 L2099.3 990.3 L2097.1 988.5 L2095 986.6 L2092.9 984.6 L2090.9 982.6 L2088.9 980.6 L2086.9 978.5 L2085 976.3 L2083.2 974.1 L2081.5 971.9 L2080 969.5 L2078.5 967.1 L2077.1 964.6 L2075.9 962.2 L2074.9 959.9 L2074 957.8 L2073.4 955.9 L2072.9 954 L2072.5 951.9 L2072.2 949.2 L2071.9 945.7 L2071.8 941.6 L2071.7 937.3 L2071.6 933 L2071.5 929.1 L2071.6 925.4 L2071.8 921.8 L2071.9 918.4 L2071.7 915.4 L2070.8 913.1 L2069.1 911.5 L2066.7 910.7 L2063.9 910.2 L2061.1 909.7 L2058.8 909.1 L2057 908 L2055.3 906.8 L2053.8 905.5 L2052.3 904.5 L2050.8 903.7 L2049.1 903.2 L2047.4 902.9 L2045.6 902.8 L2044.1 903 L2042.8 903.7 L2041.8 904.9 L2041 906.6 L2040.4 908.6 L2039.9 910.8 L2039.4 913.1 L2038.9 915.5 L2038.4 918.3 L2037.9 921.1 L2037.6 923.9 L2037.4 926.4 L2037.4 928.7 L2037.5 930.8 L2037.8 932.9 L2038.2 934.9 L2038.8 937.1 L2039.6 939.5 L2040.7 942 L2041.9 944.5 L2043.1 946.9 L2044.1 949.2 L2044.9 951.3 L2045.6 953.4 L2046.2 955.4 L2047 957.1 L2048.1 958.5 L2049.8 959.4 L2051.9 959.9 L2054.1 960.2 L2056 960.5 L2057.5 961.2 L2058.5 962.3 L2059.2 963.8 L2059.5 965.3 L2059.4 966.7 L2058.8 967.9 L2057.4 968.7 L2055.3 969.2 L2052.9 969.7 L2050.4 970.1 L2048.1 970.6 L2046.2 971.1 L2044.3 971.6 L2042.4 972.2 L2040.6 972.7 L2038.8 973.2 L2036.9 973.8 L2035 974.5 L2033.1 975.1 L2031.2 975.6 L2029.4 975.9 L2027.8 975.9 L2026.4 975.8 L2024.9 975.5 L2023.3 975.1 L2021.4 974.6 L2019 973.9 L2016.3 973.1 L2013.4 972.2 L2010.6 971.3 L2008 970.6 L2005.7 969.9 L2003.5 969.2 L2001.4 968.5 L1999.3 968.1 L1997.3 967.9 L1995.3 968 L1993.4 968.4 L1991.4 969 L1989.6 969.5 L1988 969.9 L1986.6 970.2 L1985.4 970.7 L1984.3 971 L1983 971 L1981.3 970.6 L1979 969.4 L1976.4 967.7 L1973.6 965.8 L1970.7 964 L1967.9 962.5 L1965.2 961.5 L1962.6 960.7 L1959.9 960 L1957.2 959.5 L1954.5 959.2 L1951.9 959.1 L1949.2 959.1 L1946.5 959.3 L1943.8 959.6 L1941.2 959.9 L1938.3 960.2 L1935.2 960.7 L1932.2 961.1 L1929.6 961.3 L1927.8 961.2 L1927 960.6 L1927.1 959.5 L1927.5 958.3 L1927.9 957 L1927.8 955.8 L1927.2 954.9 L1926.3 954 L1925.2 953 L1923.9 951.9 L1922.5 950.5 L1920.6 948.7 L1918.5 946.7 L1916.2 944.4 L1913.9 942.1 L1911.8 939.8 L1909.8 937.5 L1908 935.1 L1906.2 932.6 L1904.3 930.2 L1902.4 927.8 L1900.4 925.3 L1898.3 922.8 L1896.2 920.4 L1894 918 L1891.7 915.7 L1889.2 913.7 L1886.5 911.8 L1883.8 910 L1881.1 908.2 L1878.3 906.4 L1875.6 904.5 L1872.7 902.6 L1869.9 900.7 L1867.3 898.8 L1865 897 L1863 895.2 L1861.3 893.3 L1859.8 891.6 L1858.4 890.1 L1856.9 889 L1855.5 889 L1854.2 889.8 L1853 890.7 L1851.7 890.8Z" fill="#fdc690"/>
<path d="M1865 889 L1863 885.9 L1861.2 881.4 L1859.7 876.3 L1858.3 871 L1856.9 866.3 L1855.6 862 L1854.4 857.7 L1853.3 853.6 L1852.4 849.8 L1851.6 846.2 L1851.1 843.1 L1850.7 840.4 L1850.5 837.9 L1850.4 835.4 L1850.3 832.9 L1850.3 830.3 L1850.4 827.8 L1850.6 825.3 L1850.6 822.6 L1850.3 819.5 L1849.5 815.9 L1848.5 811.9 L1847.3 807.8 L1846.1 803.5 L1844.9 799.4 L1843.8 795.4 L1842.7 791.4 L1841.6 787.4 L1840.5 783.4 L1839.6 779.4 L1838.6 775.3 L1837.7 771 L1836.9 766.9 L1836.1 762.9 L1835.6 759.3 L1835.2 756.3 L1835.1 753.8 L1835.1 751.5 L1835.1 748.9 L1834.9 746 L1834.5 742.4 L1834.1 738.4 L1833.6 734.2 L1833.1 730 L1832.9 725.9 L1832.9 721.9 L1833.1 717.9 L1833.3 713.9 L1833.5 709.9 L1833.5 705.8 L1833.4 701.7 L1833.2 697.6 L1832.8 693.4 L1832.3 689.5 L1831.5 685.8 L1830 682.8 L1827.7 680.4 L1825.5 678 L1824.3 675.1 L1824.9 671.1 L1828.1 665.4 L1833.4 658.4 L1839.5 651 L1845.1 644.2 L1848.9 639 L1850.6 635.7 L1851.1 633.6 L1850.8 632.2 L1850.4 631.1 L1850.3 629.6 L1850.5 628 L1850.6 626.3 L1850.8 624.8 L1851.1 623.2 L1851.6 621.6 L1852.4 620.1 L1853.4 618.5 L1854.6 617 L1855.8 615.4 L1856.9 613.6 L1857.9 611.6 L1858.9 609.4 L1859.9 607.1 L1861 604.9 L1862.3 602.9 L1863.8 601.1 L1865.6 599.4 L1867.4 597.9 L1869.5 596.4 L1871.7 594.9 L1874.1 593.4 L1876.7 592 L1879.5 590.6 L1882.3 589.3 L1885 588.2 L1887.7 587.2 L1890.4 586.3 L1893 585.5 L1895.7 584.8 L1898.4 584.2 L1901 583.7 L1903.6 583.3 L1906.2 583.1 L1908.9 582.9 L1911.8 582.9 L1914.9 582.9 L1918.4 583.1 L1921.9 583.4 L1925.1 583.8 L1927.8 584.2 L1929.7 584.6 L1931.1 585 L1932.3 585.4 L1933.3 586 L1934.5 586.9 L1935.8 587.9 L1937.2 589.1 L1938.5 590.5 L1939.8 592 L1941.2 593.5 L1942.5 595.4 L1943.7 597.4 L1945 599.5 L1946.3 601.4 L1947.9 602.9 L1949.6 603.8 L1951.5 604.3 L1953.4 604.6 L1955.4 605 L1957.2 605.6 L1958.9 606.5 L1960.6 607.5 L1962.3 608.7 L1963.8 609.8 L1965.2 610.9 L1966.5 612.1 L1967.6 613.4 L1968.7 614.6 L1969.6 615.6 L1970.6 616.3 L1971.5 616.6 L1972.4 616.6 L1973.3 616.4 L1974 615.8 L1974.6 614.9 L1974.9 613.6 L1975 611.7 L1975.1 609.6 L1975.1 607.5 L1975.3 605.6 L1975.5 603.9 L1975.7 602.3 L1976.1 600.7 L1976.5 599.1 L1977.3 597.6 L1978.3 596 L1979.6 594.4 L1981.1 592.8 L1982.5 591.2 L1983.9 589.5 L1985.4 587.7 L1986.9 585.8 L1988.3 583.9 L1989.6 582 L1990.6 580.2 L1991.2 578.5 L1991.4 576.9 L1991.5 575.3 L1991.6 573.7 L1992 572.2 L1992.6 570.5 L1993.3 568.8 L1994.1 567.1 L1995 565.6 L1996 564.1 L1997.2 562.9 L1998.5 561.9 L2000 560.9 L2001.4 559.9 L2002.7 558.8 L2003.7 557.5 L2004.5 556.2 L2005.4 554.8 L2006.5 553.5 L2008 552.1 L2010.2 550.7 L2012.8 549.3 L2015.7 547.9 L2018.6 546.6 L2021.4 545.4 L2024.1 544.4 L2026.7 543.5 L2029.4 542.7 L2032.1 542 L2034.8 541.4 L2037.4 540.9 L2040.1 540.5 L2042.8 540.2 L2045.4 540 L2048.1 540.1 L2050.8 540.3 L2053.5 540.9 L2056.1 541.5 L2058.8 542.1 L2061.5 542.7 L2064.2 543.3 L2066.8 544 L2069.5 544.6 L2072.2 545.1 L2074.9 545.4 L2077.5 545.4 L2080.2 545.2 L2082.9 544.8 L2085.6 544.4 L2088.2 544.1 L2090.9 543.7 L2093.6 543.3 L2096.2 542.9 L2098.9 542.7 L2101.6 542.7 L2104.3 543.2 L2106.9 544 L2109.6 545 L2112.3 546 L2115 546.8 L2117.6 547.4 L2120.3 547.9 L2123 548.4 L2125.7 548.9 L2128.3 549.4 L2131 550 L2133.7 550.5 L2136.4 551 L2139 551.6 L2141.7 552.1 L2144.4 552.6 L2147.1 553.1 L2149.7 553.6 L2152.4 554.2 L2155.1 554.8 L2157.8 555.5 L2160.6 556.3 L2163.4 557.1 L2166 558 L2168.4 558.8 L2170.5 559.6 L2172.3 560.4 L2174 561.2 L2175.7 562 L2177.8 562.8 L2180.2 563.5 L2182.9 564.1 L2185.6 564.8 L2188.4 565.7 L2191.2 566.8 L2193.8 568.4 L2196.5 570.3 L2199.2 572.4 L2201.9 574.4 L2204.5 576.2 L2207.2 577.7 L2209.9 579 L2212.6 580.3 L2215.2 581.6 L2217.9 582.9 L2220.6 584.2 L2223.3 585.5 L2225.9 586.8 L2228.6 588.1 L2231.3 589.5 L2233.9 591 L2236.6 592.6 L2239.3 594.2 L2242 595.8 L2244.6 597.6 L2247.4 599.3 L2250.1 601.2 L2252.9 603.1 L2255.5 605 L2258 606.9 L2260.4 608.8 L2262.8 610.7 L2265 612.6 L2267 614.5 L2268.7 616.3 L2270 617.9 L2271 619.5 L2271.7 621.1 L2272.3 622.6 L2272.7 624.3 L2273 626.1 L2273.1 628.1 L2273.1 630.1 L2273 632 L2272.7 633.7 L2272.2 634.7 L2271.4 635.4 L2270.6 636 L2270 637.1 L2270 639 L2270.8 642.2 L2272 646.3 L2273.6 650.8 L2275.2 655.2 L2276.7 659.1 L2278.1 662.2 L2279.6 665 L2281 667.6 L2282.3 670 L2283.4 672.4 L2284.4 674.8 L2285.2 677 L2285.9 679.2 L2286.2 681.2 L2286.1 683.1 L2285.4 684.9 L2284.1 686.6 L2282.5 688.2 L2280.9 689.7 L2279.4 691.1 L2278 692.5 L2276.5 693.8 L2275 695.1 L2273.7 696.4 L2272.7 697.8 L2272 699.3 L2271.4 700.9 L2271 702.6 L2271 704.2 L2271.4 705.8 L2272.3 707.5 L2273.7 709.2 L2275.5 710.9 L2277.4 712.5 L2279.4 713.9 L2281.6 714.9 L2284.1 715.6 L2286.6 716.2 L2289.1 716.9 L2291.4 717.9 L2293.5 719.1 L2295.4 720.5 L2297.3 722.1 L2299.1 723.9 L2300.8 725.9 L2302.6 728.3 L2304.4 731.2 L2306.1 734.1 L2307.6 736.9 L2308.8 739.3 L2309.8 740.9 L2310.5 742.1 L2311 743.1 L2311.3 744.3 L2311.5 746 L2311.5 748.3 L2311.4 751.1 L2311.1 754 L2310.7 756.9 L2310.2 759.3 L2309.5 761.2 L2308.5 762.8 L2307.6 764.2 L2306.7 765.7 L2306.1 767.3 L2305.8 769.4 L2305.5 771.6 L2305.4 773.8 L2305.6 776 L2306.1 778 L2307.3 779.8 L2308.8 781.3 L2310.7 782.8 L2312.5 784.3 L2314.2 786.1 L2315.8 788 L2317.4 790.1 L2319 792.3 L2320.2 794.6 L2320.8 796.8 L2320.7 798.9 L2319.9 801.2 L2318.9 803.4 L2317.7 805.5 L2316.8 807.4 L2316.2 809.1 L2315.7 810.6 L2315.2 812 L2314.7 813.6 L2314.2 815.5 L2313.7 817.8 L2313.4 820.4 L2312.9 823.2 L2312.4 826.1 L2311.5 828.8 L2310.2 831.6 L2308.5 834.3 L2306.7 837.1 L2305 839.7 L2303.5 842.2 L2302.2 844.5 L2301 846.6 L2299.9 848.6 L2299 850.6 L2298.1 852.9 L2297.4 855.4 L2296.9 858.1 L2296.5 860.8 L2296 863.6 L2295.4 866.3 L2294.9 869 L2294.3 871.8 L2293.7 874.6 L2292.8 877.2 L2291.4 879.6 L2289.5 881.7 L2287 883.5 L2284.3 885.2 L2281.7 886.9 L2279.4 889 L2277.6 891.4 L2276 894.1 L2274.5 896.8 L2273 899.6 L2271.4 902.4 L2269.6 905.1 L2267.7 907.8 L2265.7 910.5 L2263.8 913.1 L2262 915.7 L2260.4 918.3 L2258.8 920.7 L2257.2 923.1 L2255.7 925.5 L2254 927.8 L2252.3 930 L2250.5 932 L2248.7 934.1 L2246.8 936.2 L2244.6 938.5 L2242.2 941.1 L2239.6 944 L2236.8 946.9 L2234 949.6 L2231.3 951.8 L2228.6 953.4 L2225.9 954.4 L2223.3 955.2 L2220.6 956 L2217.9 957.2 L2215.2 958.7 L2212.4 960.5 L2209.6 962.4 L2207 964.3 L2204.5 965.9 L2202.4 967.2 L2200.5 968.4 L2198.7 969.5 L2197 970.6 L2195.2 971.9 L2193.3 973.4 L2191.4 975.1 L2189.5 976.8 L2187.6 978.4 L2185.8 979.9 L2184.2 981.1 L2182.6 982 L2181 983 L2179.5 984 L2177.8 985.3 L2176.1 986.9 L2174.3 988.9 L2172.5 991 L2170.6 992.9 L2168.4 994.6 L2166 996 L2163.4 997.4 L2160.6 998.5 L2157.8 999.4 L2155.1 1000 L2152.4 1000.2 L2149.7 1000 L2147.1 999.7 L2144.4 999.2 L2141.7 998.6 L2139 998 L2136.4 997.3 L2133.7 996.5 L2131 995.6 L2128.3 994.6 L2125.7 993.5 L2123 992.2 L2120.3 990.8 L2117.6 989.4 L2115 987.9 L2112.3 986.5 L2109.6 984.9 L2106.9 983.4 L2104.3 981.7 L2101.6 979.9 L2098.8 978 L2096 976 L2093.2 973.8 L2090.6 971.6 L2088.2 969.2 L2086.2 966.7 L2084.3 964.1 L2082.7 961.3 L2081.3 958.6 L2080.2 955.8 L2079.5 953.2 L2079.1 950.5 L2078.9 947.8 L2078.9 945.1 L2078.9 942.5 L2078.9 939.8 L2079.1 937.3 L2079.4 934.6 L2079.8 932 L2080.2 929.1 L2080.8 925.9 L2081.7 922.3 L2082.5 918.7 L2083 915.5 L2082.9 913.1 L2082 911.5 L2080.7 910.7 L2079 910.2 L2077 909.7 L2074.9 909.1 L2072.5 908.1 L2069.9 907.1 L2067.1 906 L2064.2 904.9 L2061.5 903.7 L2058.8 902.4 L2056.1 900.9 L2053.5 899.5 L2050.8 898.1 L2048.1 897 L2045.4 896.2 L2042.8 895.5 L2040.1 894.9 L2037.4 894.6 L2034.8 894.3 L2032.1 894.4 L2029.4 894.6 L2026.7 895 L2024.1 895.4 L2021.4 895.7 L2018.5 895.8 L2015.5 895.7 L2012.6 895.7 L2010 896.1 L2008 897 L2006.8 898.8 L2006.2 901.1 L2005.9 903.8 L2005.7 906.6 L2005.3 909.1 L2004.9 911.3 L2004.5 913.6 L2004.1 915.8 L2003.5 917.8 L2002.7 919.7 L2001.5 921.6 L2000.1 923.4 L1998.5 925 L1996.7 926.3 L1994.6 927.1 L1992.3 927.2 L1989.7 926.7 L1986.9 926 L1984 925.3 L1981.3 925.1 L1978.6 925.3 L1975.9 925.8 L1973.3 926.5 L1970.6 927.2 L1967.9 927.8 L1965.2 928.4 L1962.6 929.2 L1959.9 929.9 L1957.2 930.3 L1954.5 930.4 L1951.9 930.1 L1949.2 929.4 L1946.5 928.4 L1943.8 927.4 L1941.2 926.4 L1938.3 925.5 L1935.2 924.4 L1932.2 923.4 L1929.6 922.4 L1927.8 921.8 L1927.1 921.4 L1927.3 921.4 L1927.8 921.5 L1928.2 921.5 L1927.8 921.1 L1926.6 920.4 L1924.9 919.5 L1922.9 918.5 L1920.7 917.2 L1918.4 915.7 L1916 913.9 L1913.4 911.8 L1910.6 909.5 L1907.8 907.2 L1905.1 905 L1902.4 903 L1899.7 901.1 L1897.1 899.2 L1894.4 897.4 L1891.7 895.7 L1889 894.1 L1886.4 892.5 L1883.7 891.1 L1881 889.9 L1878.3 889 L1875.6 888.9 L1872.7 889.6 L1869.9 890.3 L1867.3 890.3Z" fill="#fdd8a6"/>
<path d="M2008.8 575 L2001.5 585.1 L1995.1 591.5 L1990.3 599.5 L1983.9 604.3 L1981.5 613.2 L1981.5 629.2 L1979.9 641.2 L1977.5 653.3 L1974.3 662.9 L1967.1 666.9 L1955 666.9 L1943.8 667.7 L1937.8 665.3 L1939 658.9 L1943 653.3 L1946.2 645.2 L1949.4 638 L1948.6 634 L1943 628.4 L1935.8 622 L1928.6 614.8 L1921.4 607.6 L1914.9 602.3 L1906.9 603.5 L1897.3 607.6 L1889.3 614 L1881.3 622 L1874.8 627.6 L1871.6 638 L1869.2 645.2 L1861.1 651.1 L1845 647.1 L1829.2 644.7 L1829.1 643.7 L1829 643.4 L1829 643.2 L1828.9 642.9 L1828.8 642.7 L1828.6 642.5 L1828.5 642.3 L1828.3 642.1 L1828.1 641.9 L1827.9 641.8 L1827.7 641.7 L1827.4 641.6 L1827.2 641.5 L1824.1 640.7 L1821.6 639.7 L1815.8 632 L1816.8 623.9 L1817.3 623.7 L1817.5 623.6 L1817.7 623.4 L1817.9 623.3 L1818.1 623.1 L1818.2 622.9 L1818.3 622.7 L1818.5 622.4 L1818.5 622.2 L1818.6 622 L1818.6 621.7 L1818.7 621.5 L1818.6 621.2 L1818.6 621 L1817.8 617 L1817.7 616.5 L1817.8 616 L1817.6 615.7 L1817 611.5 L1817 611.2 L1816.9 611 L1816.8 610.8 L1816.7 610.5 L1816.6 610.3 L1814.2 607.1 L1814 606.9 L1813.8 606.8 L1813.6 606.6 L1813.4 606.5 L1813.2 606.3 L1812.9 606.3 L1812.8 606 L1806.8 606 L1806.2 607.9 L1806.2 607.9 L1806 608.1 L1805.9 608.3 L1805.8 608.6 L1805.7 608.8 L1805.3 610.5 L1803.8 615 L1804.8 630 L1806.1 636.7 L1806 638.1 L1806 638.4 L1806.1 638.7 L1806.1 638.9 L1807.3 643.7 L1807.4 644 L1807.5 644.3 L1807.7 644.5 L1807.7 644.6 L1807.8 645 L1812.8 654 L1818.8 664 L1821.2 666.4 L1822.1 667.8 L1822.2 668 L1822.4 668.1 L1825.6 671.3 L1825.8 671.5 L1826 671.6 L1826.2 671.8 L1826.4 671.9 L1826.6 672 L1826.8 672 L1834.8 688 L1848.8 697 L1863.8 708 L1872.4 715 L1870.8 727 L1866.8 739 L1862.8 751 L1858.3 759.3 L1859.6 772.7 L1858.3 783.4 L1856.9 806.1 L1871.7 811.5 L1886.4 808.8 L1891.7 816.8 L1892.9 832.1 L1892.3 832.8 L1892.1 833 L1892 833.2 L1891.9 833.4 L1891.8 833.6 L1891.7 833.8 L1891.6 834.1 L1891.6 834.3 L1891.6 834.6 L1891.6 834.8 L1891.6 835.1 L1891.7 835.3 L1891.8 835.5 L1891.9 835.8 L1892 836 L1892.2 836.2 L1892.4 836.3 L1892.5 836.5 L1892.6 836.5 L1890.9 851.4 L1890.1 861 L1893.3 866.7 L1900.5 869.1 L1906.9 873.1 L1914.9 878.7 L1923 882.7 L1935 887.5 L1947 892.3 L1959 896.3 L1971.1 898.7 L1983.1 897.1 L1995.1 894.7 L1998.8 892.8 L1999.1 894.3 L1999.1 894.5 L1999.2 894.8 L1999.3 895 L1999.4 895.2 L1999.6 895.4 L1999.7 895.6 L1999.9 895.8 L2000.1 895.9 L2000.3 896.1 L2000.5 896.2 L2000.7 896.3 L2001 896.4 L2001.2 896.4 L2001.5 896.4 L2001.7 896.4 L2002 896.4 L2002.2 896.3 L2002.4 896.2 L2002.7 896.1 L2002.9 896 L2003.1 895.9 L2003.3 895.7 L2003.4 895.5 L2003.6 895.3 L2003.7 895.1 L2003.8 894.9 L2006.2 889.3 L2006.3 889.1 L2006.4 888.9 L2008.8 887.5 L2016.8 885.9 L2024.8 887.5 L2036.9 888.7 L2048.9 889.9 L2056.9 892.3 L2064.9 897.1 L2073 900.3 L2081 901.1 L2085.8 906 L2089 913.2 L2088.2 921.2 L2085 929.2 L2081 935.6 L2079.4 945.2 L2078.6 953.3 L2081 958.9 L2081 958.9 L2081.1 959.1 L2081.2 959.3 L2081.3 959.5 L2081.5 959.7 L2081.7 959.9 L2081.9 960.1 L2085.1 962.5 L2085.3 962.6 L2085.6 962.8 L2086.1 963 L2089 965.3 L2097 967.7 L2105 969.3 L2113.1 970.1 L2121.1 972.5 L2129.1 976.5 L2137.1 978.1 L2145.1 980.5 L2153.1 982.9 L2158.8 980 L2166.8 971.7 L2174.8 966.9 L2182.9 965.3 L2182.7 964.7 L2184.9 965.6 L2186.2 968.6 L2186.3 968.8 L2186.4 969.1 L2186.5 969.2 L2186.7 969.4 L2186.8 969.6 L2187 969.7 L2187.2 969.9 L2187.5 970 L2187.7 970.1 L2192.5 971.7 L2192.7 971.7 L2193 971.8 L2193.3 971.8 L2193.5 971.8 L2193.8 971.7 L2194 971.7 L2194.3 971.6 L2199.9 969.2 L2200.1 969.1 L2200.3 968.9 L2206 964.9 L2206.1 964.8 L2211.8 960 L2212 959.7 L2217.6 953.4 L2221.9 949.1 L2224.4 948.3 L2228.2 949.9 L2232.8 952.9 L2232.9 953 L2236.9 955.4 L2237.1 955.5 L2237.3 955.6 L2237.6 955.7 L2237.8 955.7 L2238 955.8 L2238.3 955.8 L2238.5 955.7 L2241.7 955.3 L2242 955.3 L2242.2 955.2 L2242.4 955.1 L2242.6 955 L2242.8 954.9 L2243 954.7 L2243.2 954.6 L2243.4 954.4 L2243.5 954.2 L2243.6 954 L2243.7 953.7 L2243.8 953.5 L2243.9 953.3 L2243.9 953 L2243.9 952.8 L2243.9 952.5 L2243.8 952.3 L2243.8 952 L2243.7 951.8 L2243.6 951.6 L2243.4 951.4 L2243.3 951.2 L2240.1 947.6 L2237.7 944.6 L2238.1 942.2 L2241 937.9 L2244.9 933.2 L2245 933.2 L2248.2 929.2 L2248.3 929 L2248.4 928.8 L2248.5 928.6 L2248.6 928.3 L2248.7 928.1 L2248.7 927.9 L2249.4 921.7 L2252.5 919.2 L2257.2 916 L2257.4 915.9 L2257.6 915.7 L2257.8 915.6 L2257.9 915.4 L2258 915.2 L2258.1 915 L2260.3 909.8 L2264 906.1 L2267.2 902.9 L2267.4 902.7 L2267.5 902.5 L2267.7 902.3 L2267.8 902.1 L2267.9 901.8 L2267.9 901.6 L2267.9 901.3 L2268.3 896.5 L2268.4 896.3 L2268.3 896.1 L2268.3 895.8 L2268.3 895.6 L2267.1 891.7 L2266.5 888.7 L2268.3 885.1 L2272.5 881.5 L2277.9 878.4 L2278.1 878.3 L2278.3 878.2 L2278.5 878 L2278.7 877.8 L2278.8 877.6 L2278.9 877.4 L2280.2 874.8 L2283.3 873 L2289.3 871.5 L2289.6 871.4 L2289.8 871.3 L2290 871.2 L2290.2 871.1 L2290.4 870.9 L2290.6 870.7 L2290.7 870.6 L2293.1 867.4 L2293.3 867.2 L2293.4 866.9 L2293.5 866.7 L2293.5 866.5 L2293.6 866.3 L2293.6 866 L2293.6 865.8 L2293.6 865.5 L2293.3 863 L2294.6 859.6 L2294.7 859.3 L2294.8 859.1 L2294.8 858.9 L2294.8 858.6 L2294.8 858.4 L2294.8 858.1 L2294.7 857.9 L2294.6 857.7 L2292.7 852.9 L2291.2 848.6 L2291.2 845.1 L2292 838.2 L2293.3 833.8 L2296.3 831.9 L2302.6 828.8 L2312.5 824.5 L2312.7 824.4 L2312.9 824.2 L2313.1 824.1 L2313.3 823.9 L2313.5 823.7 L2313.6 823.5 L2313.7 823.3 L2313.8 823.1 L2313.9 822.8 L2314 822.6 L2314 822.4 L2314 822.1 L2314 821.9 L2313.9 821.6 L2313.9 821.4 L2313.8 821.1 L2313.6 820.9 L2313.5 820.7 L2313.4 820.5 L2313.2 820.3 L2305 812.8 L2301.1 808.1 L2300.9 807.9 L2297.2 804.2 L2298.3 800.8 L2298.4 800.6 L2298.4 800.3 L2298.4 800.1 L2298.4 794.4 L2298.4 794.1 L2297.7 788.6 L2300.4 784.6 L2300.5 784.4 L2300.6 784.2 L2300.7 783.9 L2300.8 783.7 L2300.8 783.5 L2300.8 783.2 L2300.8 777.8 L2301.6 772.3 L2301.6 772.1 L2301.6 771.8 L2301.6 771.6 L2300.9 767.1 L2301.5 762.7 L2303.7 760.5 L2311.1 757.6 L2311.3 757.5 L2311.5 757.4 L2311.7 757.3 L2311.9 757.1 L2312.1 756.9 L2312.3 756.7 L2312.4 756.5 L2312.5 756.3 L2312.6 756.1 L2312.6 755.8 L2312.7 755.6 L2312.7 755.4 L2312.7 755.1 L2312.7 754.9 L2312.6 754.6 L2312.5 754.4 L2312.4 754.2 L2312.3 754 L2312.2 753.8 L2312 753.6 L2311.8 753.4 L2311.6 753.3 L2311.4 753.1 L2311.2 753 L2311 752.9 L2303.7 750.5 L2301.6 748.4 L2301.2 743 L2301.2 742.7 L2301.1 742.4 L2301 742.2 L2299.2 737.7 L2298.8 733.3 L2298.8 733 L2298.7 732.8 L2298.6 732.5 L2298.5 732.3 L2298.4 732.1 L2295.6 728 L2295.4 727.8 L2295.2 727.7 L2295 727.5 L2294.8 727.3 L2291.1 725.1 L2287.3 721.3 L2287.1 721.1 L2282.3 717.1 L2282.1 717 L2281.9 716.8 L2281.6 716.7 L2281.4 716.7 L2275.8 715.1 L2275.5 715 L2270 714 L2267.5 711.2 L2265.3 706.7 L2265.2 706.5 L2262.8 702.5 L2262.6 702.3 L2262.5 702.1 L2262.3 701.9 L2262.1 701.8 L2261.9 701.6 L2261.6 701.5 L2261.4 701.4 L2261.2 701.4 L2260.9 701.3 L2260.6 701.3 L2251.3 701.3 L2242.8 699.4 L2242.5 699.3 L2242.3 699.3 L2235.4 699 L2233.8 697.1 L2233.6 695.7 L2234.7 694.2 L2243.1 693.8 L2243.3 693.8 L2243.6 693.8 L2243.8 693.7 L2244 693.6 L2244.3 693.5 L2244.5 693.4 L2247.3 691.4 L2247.5 691.2 L2247.6 691.1 L2247.8 690.9 L2247.9 690.7 L2248.1 690.4 L2248.2 690.2 L2248.2 690 L2248.3 689.7 L2248.3 689.5 L2248.3 689.2 L2248.3 689 L2248.2 688.7 L2247.9 687.2 L2249 686.5 L2252.5 687.7 L2257.1 690 L2257.3 690.1 L2257.6 690.2 L2257.8 690.2 L2258 690.2 L2258.3 690.2 L2258.5 690.2 L2258.8 690.2 L2259 690.1 L2265.4 688.1 L2265.7 688 L2265.9 687.9 L2266.2 687.7 L2270.9 684.2 L2275.7 681 L2275.9 680.9 L2276 680.7 L2276.2 680.5 L2276.4 680.3 L2276.5 680.1 L2276.6 679.9 L2276.7 679.6 L2276.7 679.4 L2276.8 679.2 L2276.8 678.9 L2276.8 678.7 L2276.7 678.4 L2275.9 674.5 L2275.1 669.7 L2274.4 663.5 L2274 657.1 L2273.9 656.9 L2273.9 656.6 L2273.8 656.4 L2273.7 656.2 L2273.6 656 L2273.5 655.8 L2273.3 655.6 L2273.2 655.4 L2273 655.3 L2272.8 655.1 L2272.6 655 L2272.4 654.9 L2272.1 654.9 L2268 653.7 L2264.9 652.2 L2264 650.4 L2264.3 646.5 L2265.5 641.8 L2265.5 641.6 L2265.5 641.3 L2265.5 641 L2265.5 640.8 L2265.4 640.5 L2264.5 637.2 L2265.4 633.9 L2265.5 633.7 L2265.5 633.6 L2266.2 629 L2268.6 627.2 L2268.8 627 L2268.9 626.8 L2269.1 626.6 L2269.2 626.4 L2269.4 626.2 L2269.4 625.9 L2269.5 625.7 L2270.3 621.7 L2270.3 621.4 L2270.4 621.2 L2270.4 621 L2270.3 620.8 L2269.5 616 L2269.5 615.7 L2269.4 615.5 L2269.3 615.2 L2269.1 615 L2265.9 610.2 L2265.8 610 L2265.6 609.8 L2265.5 609.6 L2260.6 605.6 L2260.4 605.5 L2260.2 605.4 L2260 605.3 L2254.4 602.8 L2254.2 602.8 L2253.9 602.7 L2253.6 602.7 L2248.8 602.3 L2248.6 602.2 L2248.4 602.3 L2248.1 602.3 L2247.9 602.3 L2247.7 602.4 L2247.5 602.5 L2245 603.8 L2243.4 603.6 L2240.9 600.7 L2240.7 600.5 L2240.5 600.3 L2240.3 600.2 L2240.1 600.1 L2239.8 600 L2239.6 599.9 L2239.3 599.9 L2239.1 599.8 L2230.9 599.5 L2230 597.6 L2229.9 597.4 L2229.7 597.2 L2229.6 597 L2229.4 596.8 L2229.2 596.7 L2229 596.6 L2228.8 596.4 L2228.6 596.4 L2223.7 594.8 L2223.4 594.7 L2215.6 593.1 L2207 590 L2206.8 589.9 L2206.6 589.9 L2206.3 589.8 L2197.5 589 L2197.3 589 L2197.1 589 L2196.8 589.1 L2196.6 589.1 L2196.4 589.2 L2196.2 589.3 L2192.6 591.1 L2191.3 591.2 L2191 585.7 L2190.9 585.5 L2190.9 585.2 L2190.8 585 L2190.7 584.8 L2190.6 584.6 L2190.4 584.4 L2190.3 584.2 L2190.1 584 L2189.9 583.8 L2189.7 583.7 L2189.5 583.6 L2187.4 582.7 L2186.2 580.5 L2186.6 576.1 L2186.6 575.8 L2186.5 575.6 L2186.5 575.3 L2186.4 575.1 L2186.3 574.8 L2186.2 574.6 L2183.8 570.6 L2183.7 570.4 L2183.5 570.2 L2183.3 570 L2183.2 569.9 L2183 569.7 L2182.7 569.6 L2182.5 569.5 L2182.3 569.4 L2182.1 569.4 L2181.8 569.4 L2181.6 569.4 L2181.3 569.4 L2181.1 569.4 L2180.9 569.5 L2177.3 570.7 L2177 570.8 L2176.8 570.9 L2176.6 571 L2172.7 573.8 L2169.6 575.6 L2164.9 574.6 L2164.7 574.6 L2164.5 574.6 L2164.3 574.6 L2164.1 574.6 L2161.8 574.9 L2158.8 570.7 L2153.1 569.1 L2145.1 565.9 L2137.1 560.2 L2129.1 554.6 L2121.1 552.2 L2113.1 551.4 L2105 549 L2089 547.4 L2083.3 547.4 L2083.1 547.3 L2082.9 547.2 L2082.7 547.1 L2082.4 547 L2082.2 546.9 L2082 546.9 L2081.7 546.9 L2081.5 546.9 L2081.2 547 L2081 547 L2080.8 547.1 L2080.6 547.2 L2080.4 547.4 L2080.3 547.4 L2073 547.4 L2056.9 548.2 L2040.9 547.8 L2028.8 549.8 L2016.8 557Z" fill="#fee7c5"/>
<path d="M1870.5 721.9 L1868.2 723.4 L1866.5 726.4 L1865.2 730.2 L1863.9 734.3 L1862.5 737.9 L1860.8 741.2 L1859.1 744.5 L1857.4 747.8 L1855.8 751 L1854.5 754 L1853.3 756.6 L1852.3 759 L1851.5 761.3 L1850.9 763.6 L1850.5 766 L1850.3 768.7 L1850.5 771.4 L1850.8 774.3 L1851.3 776.9 L1851.8 779.4 L1852.6 781.4 L1853.6 783.2 L1854.7 784.9 L1855.5 786.7 L1855.8 788.7 L1855.5 791.2 L1854.8 793.9 L1853.9 796.8 L1852.8 799.5 L1851.8 802.1 L1850.7 804.4 L1849.4 806.4 L1848.1 808.5 L1847 810.5 L1846.4 812.8 L1846.3 815.3 L1846.4 818 L1846.9 820.7 L1847.8 823.4 L1849.1 826.2 L1851.2 828.9 L1853.8 831.8 L1856.8 834.6 L1859.8 837.2 L1862.5 839.5 L1864.8 841.6 L1867 843.4 L1869 845 L1871.1 846.4 L1873.2 847.6 L1875.4 848.3 L1877.7 848.8 L1880 849 L1882.1 849.4 L1883.9 850.2 L1885.5 851.4 L1887 852.9 L1888.3 854.6 L1889.1 856.4 L1889.2 858.3 L1888.3 860.2 L1886.5 862.3 L1884.4 864.5 L1882.4 866.8 L1881.2 868.9 L1880.8 871.1 L1880.9 873.3 L1881.4 875.5 L1882 877.6 L1882.5 879.6 L1882.6 881.7 L1882.3 883.9 L1882.3 886 L1883.5 887.7 L1886.6 889 L1892.9 890.2 L1901.9 891.4 L1911.6 892 L1920.1 891.5 L1925.3 889 L1926.5 883.9 L1925 876.7 L1921.9 868.4 L1918.5 860.1 L1916 852.9 L1914.2 846.9 L1912.5 841.2 L1910.9 835.9 L1909.4 830.9 L1907.9 826.2 L1906.8 821.7 L1906 817.7 L1905.2 813.8 L1904.1 810 L1902.6 806.1 L1900.3 802.2 L1897.3 798.4 L1894.2 794.6 L1891.3 790.5 L1889.2 786.1 L1887.9 781.1 L1887.1 775.8 L1886.7 770.3 L1886.6 764.8 L1886.6 759.3 L1887.1 753.7 L1888.3 747.9 L1889.4 742.1 L1890 736.9 L1889.2 732.6 L1886.7 729 L1882.8 725.9 L1878.3 723.5 L1873.9 722.1Z" fill="#fee7c5"/>
<path d="M2012 581.1 L2008.8 584.3 L2003.9 589.9 L2003.1 596.3 L2005.6 600.3 L2008.4 603.5 L2007.2 609.2 L2003.1 616.4 L1998.3 623.6 L1994.3 627.6 L1988.7 630.8 L1984.7 637.2 L1984.3 645.2 L1983.5 651.7 L1980.7 658.9 L1979.1 661.3 L1981.5 665.3 L1981.5 665.3 L1981.5 665.3 L1971.1 670.1 L1955 681.3 L1939 684.5 L1923 686.9 L1910.1 686.9 L1903.7 686.1 L1898.9 683.7 L1898 683.4 L1896.9 682.3 L1895.6 681.4 L1884.8 682 L1884.8 700 L1883.5 701.5 L1883.7 703 L1883.7 711 L1886.1 716.7 L1886.5 721.5 L1882.9 723.9 L1882.2 724.3 L1884.2 744.4 L1883.7 745 L1882 749.8 L1881.8 750.4 L1881 752 L1880.7 752.5 L1880.4 752.9 L1880 753.3 L1879.6 753.7 L1879.2 754 L1878.8 754.3 L1878.3 754.5 L1878.3 754.6 L1878.3 755.2 L1878.3 755.7 L1878.2 756.3 L1878.1 756.8 L1877.9 757.3 L1877.6 757.8 L1877.3 758.3 L1876.7 759.2 L1876.8 759.2 L1877.2 759.5 L1877.6 759.8 L1878 760.2 L1878.4 760.6 L1878.7 761 L1878.9 761.4 L1879.1 761.9 L1879.3 762.4 L1880.5 766.4 L1880.6 766.9 L1880.7 767.4 L1880.7 767.9 L1880.7 768.4 L1880.7 768.9 L1880.5 769.4 L1880.4 769.9 L1880.2 770.4 L1879.9 770.8 L1879.6 771.3 L1879.1 772 L1879.8 773.7 L1883 780 L1883.2 780.5 L1883.4 781.1 L1883.5 781.6 L1884.3 787.2 L1884.3 787.8 L1884.3 788.3 L1884.3 788.8 L1884.2 789.3 L1884 789.8 L1883.8 790.3 L1883.6 790.8 L1883.3 791.2 L1883 791.6 L1882.6 792 L1882.2 792.3 L1881.8 792.7 L1881.4 792.9 L1880.9 793.1 L1878.6 794 L1877.7 795.5 L1877.2 799.4 L1877.2 799.9 L1881.6 797.8 L1881.9 797.5 L1881.8 796.6 L1881.8 796.1 L1881.8 795.5 L1881.9 795 L1882 794.5 L1882.2 794 L1882.4 793.6 L1882.6 793.1 L1882.9 792.7 L1883.3 792.3 L1883.6 791.9 L1884 791.6 L1884.5 791.3 L1888.7 788.8 L1889.3 794.9 L1894.1 792 L1898.5 792.8 L1897.3 797.6 L1898.1 804.1 L1901.3 808.1 L1902.1 812.1 L1900.5 816.9 L1899.7 821.7 L1898.1 824.9 L1901.3 826.5 L1898.1 830.5 L1894.1 834.5 L1898.9 836.9 L1902.1 839.3 L1902.9 843.4 L1906.9 845 L1910.9 847.4 L1914.9 853 L1918.9 858.6 L1920.5 864.2 L1923 867.5 L1927 870.7 L1928.2 875.5 L1932.6 878.7 L1935 882.7 L1941.4 883.9 L1947 884.7 L1951 886.7 L1955 888.7 L1959.8 888.7 L1963.1 889.9 L1962.2 893.1 L1966.3 893.5 L1969.5 889.9 L1971.1 885.1 L1973.5 883.5 L1976.7 884.3 L1982.3 882.7 L1987.9 881.9 L1991.9 882.7 L1992.3 887.5 L1996.7 887.9 L2000.7 888.7 L2001.5 893.9 L2003.9 888.3 L2005.6 881.1 L2005.6 874.7 L2004.3 869.1 L1999.9 864.2 L1995.1 860.2 L1994.3 853.8 L1997.5 849 L2003.1 846.8 L2008.8 849 L2012.6 850.5 L2008.8 860 L2016.8 866.7 L2020 871.5 L2026.4 879.5 L2036.9 883.5 L2048.9 884.7 L2060.9 885.9 L2067.3 889.9 L2073 892.7 L2079.4 891.1 L2085 887.5 L2087.9 887.9 L2088.2 888.3 L2090.6 893.1 L2093 898.7 L2094.6 905.1 L2095 912.4 L2093.8 918.8 L2093 925.2 L2091.9 926.3 L2097.9 927.6 L2097.8 927.8 L2097.6 928.3 L2097.2 928.7 L2096.9 929.1 L2094.9 931.1 L2094.4 933.5 L2094.3 934 L2094.1 934.5 L2093.8 935 L2093.5 935.5 L2093.2 935.9 L2092.8 936.3 L2092.4 936.7 L2090.3 938.4 L2090.1 941.6 L2090 941.9 L2089.2 948.3 L2088.5 954.1 L2088.6 955.1 L2089.4 955.7 L2093.9 957.6 L2098 958.5 L2102.5 957.9 L2107.6 956.8 L2112.1 955.3 L2112.6 955.1 L2113.2 955 L2113.7 955 L2114.2 955 L2114.8 955.1 L2119.6 955.9 L2120.1 956 L2120.6 956.1 L2121 956.3 L2121.5 956.6 L2125 958.7 L2129.2 960.1 L2129.8 960.3 L2130.3 960.5 L2130.7 960.8 L2131.2 961.2 L2133.4 963.2 L2135.5 963 L2139.2 962.3 L2139.8 962.2 L2140.3 962.2 L2140.8 962.2 L2141.3 962.3 L2141.8 962.4 L2147.4 964 L2148 964.2 L2149.3 964.7 L2149.4 964.6 L2149.8 964.1 L2150.1 963.7 L2150.6 963.4 L2151 963 L2151.5 962.8 L2156.3 960.4 L2156.9 960.1 L2157.4 960 L2163.9 958.3 L2164.4 958.2 L2172.4 957 L2173 957 L2182.6 956.6 L2183.2 956.6 L2183.8 956.7 L2184.4 956.8 L2184.9 957 L2188.9 958.6 L2189.4 958.8 L2189.9 959.1 L2190.3 959.4 L2190.8 959.8 L2191.1 960.2 L2191.5 960.7 L2191.7 961.1 L2192 961.6 L2192.6 963.3 L2193 963.4 L2196.2 962.1 L2201.1 958.5 L2206.2 954.2 L2211.6 948 L2211.8 947.8 L2216.7 943 L2217.1 942.6 L2217.5 942.3 L2218 942 L2218.5 941.8 L2219 941.6 L2223 940.4 L2223.5 940.2 L2224 940.2 L2224.6 940.1 L2225.1 940.2 L2225.6 940.2 L2226.2 940.4 L2226.7 940.6 L2230 942 L2230.4 940.2 L2230.5 939.6 L2230.7 939.1 L2230.9 938.6 L2231.2 938.2 L2234.4 933.4 L2234.8 932.9 L2238.7 928.1 L2240.9 925.4 L2241.5 919.8 L2241.6 919.2 L2241.8 918.7 L2242 918.2 L2242.2 917.7 L2242.5 917.3 L2242.8 916.8 L2243.2 916.4 L2243.6 916.1 L2247.6 912.9 L2248 912.6 L2251.4 910.3 L2253.2 906.2 L2253.4 905.7 L2253.7 905.3 L2254 904.8 L2254.3 904.5 L2258.4 900.5 L2260.1 898.7 L2260.3 896.9 L2259.4 893.9 L2259.3 893.4 L2258.5 889.4 L2258.4 888.9 L2258.4 888.4 L2258.4 887.8 L2258.4 887.3 L2258.6 886.8 L2258.7 886.3 L2258.9 885.8 L2261.3 881 L2261.6 880.5 L2261.9 880.1 L2262.3 879.7 L2262.7 879.3 L2267.5 875.3 L2267.9 875 L2268.3 874.7 L2272.5 872.3 L2273.4 870.6 L2273.6 870.2 L2273.9 869.7 L2274.3 869.3 L2274.6 869 L2275 868.6 L2275.5 868.4 L2279.5 865.9 L2279.9 865.7 L2280.4 865.5 L2281 865.3 L2285.4 864.2 L2285.3 863.3 L2285.2 862.8 L2285.2 862.2 L2285.3 861.7 L2285.4 861.1 L2285.6 860.6 L2286.4 858.7 L2285.2 855.9 L2285.1 855.6 L2283.5 850.7 L2283.3 850.2 L2283.2 849.6 L2283.2 849 L2283.2 845 L2283.2 844.4 L2284 837.1 L2284.1 836.7 L2284.2 836.2 L2285.8 830.6 L2286 830.1 L2286.2 829.7 L2286.5 829.2 L2286.8 828.8 L2287.1 828.4 L2287.5 828 L2287.9 827.7 L2288.3 827.4 L2292.3 825 L2292.7 824.8 L2299.1 821.6 L2299.3 821.5 L2301.6 820.5 L2299.4 818.5 L2298.9 818 L2295.1 813.4 L2290.4 808.8 L2290.1 808.3 L2289.7 807.9 L2289.5 807.4 L2289.2 806.9 L2289 806.4 L2288.9 805.9 L2288.8 805.3 L2288.8 804.8 L2288.9 804.2 L2289 803.7 L2289.1 803.1 L2290.4 799.2 L2290.4 794.8 L2289.7 788.7 L2289.6 788.1 L2289.6 787.6 L2289.7 787 L2289.8 786.5 L2290 786 L2290.3 785.5 L2290.6 785 L2292.8 781.5 L2292.8 777.6 L2292.9 776.8 L2293.6 772 L2292.9 768.1 L2292.8 767.5 L2292.8 767 L2292.9 766.4 L2293.7 760.8 L2293.8 760.3 L2293.9 759.8 L2294.1 759.3 L2294.3 758.9 L2294.6 758.4 L2294.9 758 L2295.2 757.7 L2297.4 755.5 L2295.2 753.4 L2294.9 753 L2294.5 752.5 L2294.2 752 L2294 751.5 L2293.8 751 L2293.7 750.4 L2293.6 749.9 L2293.3 744.4 L2291.7 740.4 L2291.5 739.9 L2291.3 739.3 L2291.3 738.8 L2291 735.4 L2289.7 733.6 L2286.7 731.8 L2286.1 731.4 L2285.6 731 L2281.8 727.1 L2278.1 724 L2273.8 722.8 L2267.7 721.7 L2267.1 721.5 L2266.7 721.4 L2266.2 721.2 L2265.7 720.9 L2265.3 720.6 L2264.9 720.3 L2264.6 719.9 L2261.3 716.3 L2261 715.9 L2260.8 715.5 L2260.5 715.1 L2258.2 710.5 L2257.5 709.3 L2251 709.3 L2250.4 709.3 L2249.8 709.2 L2241.4 707.3 L2233.9 706.9 L2233.4 706.9 L2232.8 706.7 L2232.3 706.6 L2231.8 706.4 L2231.3 706.1 L2230.8 705.8 L2230.4 705.4 L2230 705 L2227.2 701.8 L2226.9 701.4 L2226.6 700.9 L2226.4 700.5 L2226.2 699.9 L2226 699.4 L2225.9 698.9 L2225.5 695.6 L2225.5 695.1 L2225.5 694.6 L2225.5 694.1 L2225.7 693.5 L2225.8 693 L2226 692.6 L2226.3 692.1 L2226.6 691.7 L2229 688.5 L2229.3 688 L2229.7 687.7 L2230.1 687.3 L2230.6 687 L2231.1 686.8 L2231.6 686.6 L2232.1 686.4 L2232.6 686.3 L2233.2 686.3 L2239.5 686 L2239.5 685.9 L2239.6 685.4 L2239.6 684.9 L2239.8 684.4 L2240 683.9 L2240.2 683.5 L2240.5 683 L2240.8 682.6 L2241.2 682.2 L2241.5 681.9 L2242 681.6 L2245.6 679.2 L2246 678.9 L2246.5 678.6 L2247.1 678.5 L2247.6 678.3 L2248.2 678.3 L2248.7 678.2 L2249.3 678.3 L2249.8 678.4 L2250.4 678.5 L2255.2 680.1 L2255.9 680.4 L2258.7 681.8 L2262.1 680.8 L2266.2 677.7 L2266.4 677.6 L2268.2 676.4 L2268.1 676 L2268.1 675.8 L2267.2 671 L2267.2 670.8 L2266.4 664.4 L2266.4 664 L2266.2 661.5 L2265.6 661.4 L2265.1 661.2 L2264.6 661 L2260.6 659 L2260.1 658.7 L2259.7 658.4 L2259.3 658.1 L2259 657.8 L2258.7 657.4 L2258.4 657 L2258.1 656.5 L2256.5 653.3 L2256.3 652.9 L2256.2 652.4 L2256 651.9 L2256 651.4 L2255.9 650.9 L2256 650.4 L2256.4 645.6 L2256.4 645.1 L2256.5 644.7 L2257.3 641.4 L2256.6 638.8 L2256.5 638.3 L2256.4 637.8 L2256.3 637.2 L2256.4 636.7 L2256.5 636.2 L2256.6 635.6 L2257.7 632 L2258.4 626.8 L2258.5 626.3 L2258.7 625.8 L2258.9 625.3 L2259.1 624.8 L2259.4 624.3 L2259.8 623.9 L2260.1 623.5 L2260.6 623.2 L2262.1 622.1 L2262.3 621.1 L2261.8 618.4 L2259.7 615.3 L2256.1 612.3 L2252.1 610.6 L2249.7 610.4 L2247.9 611.3 L2247.4 611.5 L2246.9 611.7 L2246.3 611.8 L2245.8 611.8 L2245.3 611.8 L2244.7 611.8 L2241.5 611.4 L2241 611.3 L2240.4 611.1 L2239.9 610.9 L2239.4 610.7 L2238.9 610.4 L2238.5 610 L2238.1 609.6 L2236.4 607.7 L2229.1 607.4 L2228.6 607.4 L2228.1 607.3 L2227.6 607.1 L2227.1 606.9 L2226.6 606.7 L2226.2 606.4 L2225.7 606.1 L2225.4 605.7 L2225 605.3 L2224.7 604.9 L2224.5 604.4 L2223.9 603.2 L2221.5 602.5 L2213.9 600.9 L2213.5 600.8 L2213.1 600.7 L2204.9 597.7 L2198.4 597.1 L2195.7 598.4 L2195.3 598.6 L2194.8 598.8 L2194.3 598.9 L2193.8 599 L2189.8 599.4 L2189.3 599.4 L2188.8 599.4 L2188.3 599.3 L2187.8 599.2 L2187.3 599 L2186.8 598.8 L2186.3 598.6 L2185.9 598.3 L2185.5 597.9 L2185.1 597.5 L2184.8 597.1 L2184.5 596.7 L2184.3 596.2 L2184.1 595.8 L2183.9 595.3 L2183.5 593.6 L2183.4 593.2 L2183.4 592.7 L2183.2 589.6 L2183 589.5 L2182.6 589.3 L2182.2 588.9 L2181.8 588.6 L2181.4 588.2 L2181.1 587.8 L2180.9 587.4 L2178.9 583.8 L2178.6 583.3 L2178.4 582.8 L2178.3 582.3 L2178.2 581.7 L2178.2 581.2 L2178.2 580.7 L2178.3 579.6 L2177.2 580.4 L2176.9 580.6 L2172.9 583 L2172.4 583.2 L2171.9 583.4 L2171.4 583.6 L2170.9 583.7 L2170.4 583.8 L2169.9 583.8 L2169.4 583.7 L2168.9 583.7 L2164.2 582.7 L2159.5 583.3 L2159.2 583.4 L2153.5 583.8 L2153.1 583.8 L2152.6 583.8 L2152.1 583.7 L2145.7 582.5 L2145.1 582.3 L2144.6 582.1 L2139 579.7 L2134.9 578.1 L2131.7 577.7 L2131.2 577.7 L2130.7 577.5 L2130.1 577.3 L2129.7 577.1 L2129.2 576.8 L2128.7 576.5 L2128.3 576.1 L2128 575.7 L2127.7 575.2 L2127.4 574.7 L2127.2 574.2 L2127 573.7 L2126.9 573.2 L2126.1 568.6 L2124 567.5 L2123.6 567.2 L2119.5 564.5 L2115.7 563.4 L2113.3 563.6 L2110.9 565.2 L2110.4 565.5 L2109.9 565.7 L2109.4 565.9 L2108.9 566 L2108.4 566.1 L2107.8 566.1 L2107.3 566.1 L2106.8 566 L2106.2 565.9 L2105.7 565.7 L2105.2 565.5 L2104.8 565.2 L2104.3 564.9 L2104 564.5 L2103.6 564.1 L2103.3 563.7 L2103 563.2 L2102.8 562.7 L2102.6 562.2 L2102.4 561.7 L2102.3 560.9 L2102.2 561 L2099.7 564.1 L2099.4 564.5 L2099 564.8 L2098.6 565.1 L2098.1 565.4 L2097.6 565.7 L2097.1 565.9 L2093.5 567.1 L2093 567.2 L2092.5 567.3 L2091.9 567.3 L2091.4 567.3 L2090.8 567.3 L2090.3 567.1 L2089.8 567 L2089.3 566.7 L2088.8 566.5 L2088.4 566.1 L2087.9 565.8 L2087.6 565.4 L2087.2 564.9 L2087 564.5 L2086.7 564 L2084.8 559.2 L2084.1 557.8 L2083.2 557.7 L2082.7 557.6 L2082.2 557.5 L2082 557.4 L2080.9 558.5 L2080.5 558.9 L2080.1 559.2 L2079.6 559.4 L2079.2 559.6 L2072 562.9 L2072 562.9 L2065.5 565.7 L2059.7 568.2 L2055.4 571.5 L2055 571.8 L2054.5 572 L2054 572.2 L2053.5 572.4 L2053 572.5 L2052.5 572.5 L2051.9 572.6 L2051.4 572.5 L2050.9 572.4 L2050.4 572.3 L2049.9 572.1 L2049.4 571.8 L2048.9 571.6 L2048.5 571.2 L2048.1 570.9 L2047.8 570.5 L2047.5 570 L2047.2 569.6 L2047 569.1 L2046.4 567.7 L2044.2 568.3 L2039 570.5 L2038.5 570.7 L2037.9 570.8 L2037.3 570.9 L2036.8 570.9 L2036.2 570.9 L2033 570.5 L2032.9 571 L2032.8 571.5 L2032.5 572 L2032.3 572.5 L2031.9 572.9 L2031.6 573.3 L2031.2 573.7 L2030.7 574 L2030.3 574.3 L2029.8 574.5 L2029.3 574.7 L2028.7 574.9 L2028.2 574.9 L2027.6 575 L2024 575 L2023.5 574.9 L2023 574.9 L2022.4 574.7 L2021.9 574.5 L2021.4 574.3 L2021 574 L2020.5 573.7 L2020.3 573.5 L2019.8 576.4 L2019.7 577 L2019.5 577.6 L2018.8 579.2 L2018.8 566 L2017.6 565.9 L2015.6 568.3 L2014.4 575.5Z" fill="#fff2e0"/>
<path d="M1881.3 828 L1881.6 827.2 L1882 826.5 L1882.6 826 L1883.2 825.6 L1883.8 825.5 L1884.3 825.6 L1884.9 826 L1885.4 826.6 L1885.9 827.3 L1886.3 828 L1886.6 828.9 L1886.8 829.9 L1886.9 831 L1886.9 832.1 L1886.8 833 L1886.6 833.9 L1886.2 834.8 L1885.8 835.6 L1885.3 836.2 L1884.8 836.5 L1884.3 836.4 L1883.8 836.1 L1883.2 835.5 L1882.7 834.8 L1882.3 834 L1881.9 833 L1881.6 831.7 L1881.4 830.3 L1881.3 829Z" fill="#fdc690"/>
<path d="M1914.1 671 L1923.3 670.5 L1923.8 677 L1915.3 677.3Z" fill="#fdd8a6"/>
</g>
<g clip-path="url(#cd3)" shape-rendering="crispEdges">
<circle cx="1393.7" cy="2023.7" r="497.0" fill="#f7f6f6"/>
<path d="M1265.2 1695.8 L1266.2 1693.7 L1267.5 1692 L1269.1 1690.5 L1270.9 1689.1 L1273 1687.8 L1275.3 1686.6 L1278 1685.4 L1280.9 1684.3 L1283.9 1683.3 L1286.7 1682.4 L1289.5 1681.4 L1292.4 1680.4 L1295.2 1679.6 L1298 1678.8 L1300.8 1678.1 L1303.5 1677.7 L1306.1 1677.4 L1308.7 1677.2 L1311.5 1677 L1314.6 1676.7 L1318.3 1676.3 L1322.5 1675.9 L1326.8 1675.4 L1330.8 1675.1 L1334 1674.9 L1336.5 1675 L1338.5 1675.2 L1340 1675.6 L1341.3 1676.1 L1342.5 1676.7 L1343.4 1677.5 L1344 1678.4 L1344.5 1679.4 L1344.8 1680.7 L1345.3 1682.4 L1345.9 1684.4 L1346.5 1686.9 L1347 1689.5 L1347.6 1692.2 L1348.1 1694.7 L1348.7 1697 L1349.4 1699.2 L1350 1701.4 L1350.5 1703.6 L1351 1706 L1351.4 1708.7 L1351.7 1711.5 L1352 1714.4 L1352.1 1717.2 L1352.2 1719.8 L1352.3 1721.8 L1352.4 1723.5 L1352.3 1725.2 L1351.9 1727.1 L1351 1729.7 L1349.6 1733.1 L1347.8 1737.3 L1345.6 1741.7 L1343 1745.9 L1340 1749.4 L1336.4 1752.1 L1332.1 1754.3 L1327.6 1756.2 L1323 1758 L1318.8 1760 L1315 1762 L1311.2 1763.7 L1307.6 1765.6 L1304.2 1767.8 L1301.2 1770.6 L1298.8 1774.4 L1297 1779.2 L1295.3 1784.1 L1293.3 1788.5 L1290.6 1791.8 L1287.1 1793.7 L1283.1 1794.8 L1278.7 1795.3 L1274.1 1795.3 L1269.4 1795.3 L1264.3 1795.4 L1258.7 1795.4 L1253.1 1795.1 L1248.3 1794 L1244.7 1791.8 L1243 1787.9 L1242.7 1782.5 L1243.1 1776.6 L1243.4 1771.1 L1243 1767.1 L1241.7 1764.5 L1240.2 1762.7 L1238.4 1761.7 L1236.4 1761.4 L1234.1 1761.8 L1231.5 1763 L1228.5 1765.2 L1225.4 1768 L1222.5 1771 L1220 1774.1 L1218.2 1777.3 L1216.7 1780.8 L1215.4 1784.5 L1214.3 1788.2 L1213 1791.8 L1211.7 1795.5 L1210.6 1799.4 L1209.5 1803.1 L1208 1806.6 L1205.9 1809.4 L1202.9 1811.3 L1199.1 1812.3 L1195.1 1813.2 L1191.3 1814.3 L1188.2 1816.5 L1186.1 1819.8 L1184.4 1823.9 L1183.1 1828.5 L1182.1 1833.2 L1181.2 1837.7 L1180.5 1842 L1180.2 1846.5 L1180 1850.9 L1179.8 1855.1 L1179.4 1858.8 L1178.9 1862.6 L1178.3 1866.4 L1177.6 1869.7 L1176.9 1872.1 L1175.9 1873 L1174.8 1871.9 L1173.6 1869.2 L1172.2 1865.6 L1170.6 1861.9 L1168.8 1858.8 L1166.8 1856.5 L1164.7 1854.4 L1162.3 1852.3 L1159.6 1850.3 L1156.5 1848.3 L1152.5 1846.2 L1147.8 1844.2 L1142.9 1842.2 L1138.5 1840 L1135.3 1837.7 L1133.3 1835.2 L1132.1 1832.6 L1131.6 1829.9 L1131.5 1826.9 L1131.8 1823.6 L1132.4 1819.8 L1133.5 1815.6 L1135 1811.2 L1136.8 1806.7 L1138.8 1802.4 L1141.4 1798.1 L1144.6 1793.7 L1147.9 1789.4 L1150.8 1785.2 L1152.9 1781.2 L1153.9 1777.3 L1154 1773.5 L1153.8 1769.9 L1153.9 1766.6 L1154.7 1763.5 L1156.5 1761 L1159 1759 L1161.7 1757.1 L1164.5 1755.2 L1167.1 1753 L1169.3 1750.3 L1171.4 1747.4 L1173.5 1744.4 L1175.6 1741.5 L1177.7 1738.8 L1179.7 1736.5 L1181.6 1734.4 L1183.6 1732.5 L1185.7 1730.4 L1188.2 1728.2 L1191.2 1725.9 L1194.7 1723.4 L1198.2 1720.9 L1201.7 1718.3 L1204.8 1715.5 L1207.6 1712.5 L1210.1 1709.2 L1212.4 1705.8 L1214.8 1702.8 L1217.2 1700.4 L1219.7 1698.6 L1222.3 1697.3 L1224.8 1696.4 L1227.4 1695.8 L1229.9 1695.4 L1232.4 1695.3 L1234.9 1695.5 L1237.4 1696 L1239.9 1696.7 L1242.3 1697.5 L1244.6 1698.6 L1246.9 1700 L1249.2 1701.5 L1251.4 1703.1 L1253.5 1704.6 L1255.7 1706.1 L1257.9 1707.8 L1259.9 1709.4 L1261.7 1710.8 L1263.1 1711.7 L1263.9 1712.2 L1264.3 1712.5 L1264.4 1712.4 L1264.4 1711.8 L1264.5 1710.6 L1264.6 1708.4 L1264.5 1705.3 L1264.4 1701.9 L1264.6 1698.5Z" fill="#d4e6f1"/>
<path d="M1198.8 1735.3 L1200.9 1733.3 L1203.7 1732.2 L1206.8 1731.7 L1210 1731.6 L1213 1731.8 L1215.7 1732.2 L1218.5 1732.9 L1221.2 1734 L1223.5 1735.4 L1225.3 1737.1 L1226.6 1739.1 L1227.5 1741.6 L1228 1744.3 L1228.1 1747 L1227.8 1749.4 L1227 1751.7 L1225.7 1754 L1224.1 1756.2 L1222.1 1758.3 L1220 1760 L1217.5 1761.6 L1214.6 1763.2 L1211.5 1764.5 L1208.5 1765.2 L1205.9 1765.3 L1203.6 1764.6 L1201.5 1763.4 L1199.6 1761.6 L1198.1 1759.3 L1197.1 1756.5 L1196.5 1752.8 L1196.4 1748.1 L1196.7 1743.1 L1197.5 1738.6Z" fill="#9dcbe1"/>
<path d="M1255.3 1742.4 L1257.6 1739.9 L1261 1737.6 L1265 1735.5 L1269.1 1733.6 L1273 1731.8 L1276.5 1730.3 L1280 1729 L1283.6 1727.9 L1287.1 1726.5 L1290.6 1724.7 L1294.2 1722.2 L1297.8 1719.2 L1301.5 1716.1 L1305 1713.1 L1308.3 1710.6 L1311.3 1708.5 L1314.2 1706.6 L1317 1705 L1319.7 1703.9 L1322.4 1703.5 L1325.1 1703.9 L1328 1705 L1330.7 1706.6 L1333 1708.5 L1334.7 1710.6 L1335.8 1713.1 L1336.5 1716.1 L1336.7 1719.2 L1336.5 1722.2 L1335.8 1724.7 L1334.6 1726.6 L1333 1728 L1330.9 1729.3 L1328.6 1730.5 L1325.9 1731.8 L1322.9 1733.1 L1319.4 1734.3 L1315.7 1735.5 L1311.9 1737 L1308.3 1738.8 L1304.8 1741.3 L1301.4 1744.1 L1297.9 1747.2 L1294.4 1750.2 L1290.6 1753 L1286.5 1755.6 L1282 1758.2 L1277.4 1760.6 L1273.2 1762.5 L1269.4 1763.5 L1266.2 1763.7 L1263.3 1763.1 L1260.8 1761.9 L1258.7 1760.2 L1257.1 1758.2 L1255.7 1755.7 L1254.7 1752.4 L1254.1 1748.8 L1254.3 1745.4Z" fill="#9dcbe1"/>
<path d="M1451.2 1708.8 L1452.3 1707 L1453.9 1704.8 L1455.9 1702.6 L1458 1700.9 L1460 1700 L1462.2 1700.1 L1464.6 1700.9 L1466.9 1702.1 L1469.1 1703.7 L1470.6 1705.3 L1471.7 1707.2 L1472.5 1709.4 L1472.9 1711.8 L1472.9 1714.1 L1472.4 1715.9 L1471.3 1717.3 L1469.7 1718.6 L1467.7 1719.6 L1465.6 1720.2 L1463.6 1720.5 L1461.4 1720.2 L1459 1719.4 L1456.7 1718.3 L1454.6 1717.1 L1453 1715.9 L1451.9 1714.7 L1451.1 1713.3 L1450.7 1711.9 L1450.8 1710.4Z" fill="#d4e6f1"/>
<path d="M1484.8 1675.3 L1486.1 1675.2 L1488.3 1675.3 L1490.8 1675.6 L1493.1 1675.9 L1494.6 1676.4 L1495.4 1676.9 L1495.7 1677.7 L1495.7 1678.4 L1495.3 1679.1 L1494.6 1679.5 L1493.4 1679.7 L1491.7 1679.7 L1489.7 1679.5 L1487.9 1679.2 L1486.5 1678.8 L1485.6 1678.2 L1484.8 1677.4 L1484.3 1676.5 L1484.3 1675.8Z" fill="#d4e6f1"/>
<path d="M1370 1798.8 L1371.5 1797.5 L1373.7 1796.3 L1376.4 1795.2 L1379.4 1794.3 L1382.4 1793.5 L1385.6 1793 L1389.1 1792.6 L1392.7 1792.3 L1396.4 1792.1 L1400 1791.8 L1403.6 1791.5 L1407.1 1791.2 L1410.6 1791 L1414.2 1790.6 L1417.7 1790 L1421.2 1789 L1424.7 1787.7 L1428.3 1786.4 L1431.8 1785.3 L1435.3 1784.7 L1439.1 1784.8 L1443.2 1785.2 L1447.1 1785.9 L1450.5 1787 L1453 1788.3 L1454.5 1789.9 L1455.3 1792.1 L1455.6 1794.4 L1455.3 1796.7 L1454.7 1798.8 L1453.7 1800.8 L1452.2 1802.8 L1450.3 1804.7 L1448.2 1806.4 L1445.9 1807.7 L1443.4 1808.5 L1440.7 1809.1 L1437.7 1809.3 L1434.7 1809.4 L1431.8 1809.4 L1429 1809.1 L1426.3 1808.5 L1423.6 1807.8 L1420.7 1807.4 L1417.7 1807.7 L1414.4 1808.9 L1410.9 1810.9 L1407.3 1813.2 L1403.6 1815.2 L1400 1816.5 L1396.4 1816.9 L1392.6 1816.8 L1388.9 1816.3 L1385.5 1815.6 L1382.4 1814.7 L1379.7 1813.7 L1377.2 1812.4 L1375.1 1810.9 L1373.2 1809.3 L1371.8 1807.7 L1370.7 1806 L1369.8 1804.1 L1369.3 1802.2 L1369.3 1800.4Z" fill="#d4e6f1"/>
<path d="M1486.5 1791.8 L1487.3 1790.5 L1488.3 1789.8 L1489.4 1789.6 L1490.6 1789.7 L1491.8 1790 L1492.8 1790.7 L1493.7 1792 L1494.7 1793.4 L1496.3 1794.6 L1498.9 1795.3 L1502.7 1795.3 L1507.7 1794.9 L1513.1 1794.2 L1518.6 1793.7 L1523.6 1793.5 L1528.2 1793.8 L1532.9 1794.3 L1537.3 1795 L1541.4 1795.9 L1544.8 1797.1 L1547.5 1798.5 L1549.8 1800.1 L1551.5 1802 L1552.8 1803.9 L1553.6 1805.9 L1553.8 1808 L1553.5 1810.2 L1552.7 1812.4 L1551.5 1814.6 L1550.1 1816.5 L1548.2 1818.2 L1545.8 1819.8 L1543.2 1821.3 L1540.4 1822.5 L1537.7 1823.6 L1535 1824.3 L1532.3 1824.8 L1529.6 1825.1 L1526.7 1825.3 L1523.6 1825.3 L1520.3 1825.2 L1516.8 1825 L1513.2 1824.7 L1509.5 1824.2 L1505.9 1823.6 L1502.2 1822.8 L1498.2 1822 L1494.3 1821.1 L1490.9 1819.8 L1488.3 1818.3 L1486.6 1816.3 L1485.6 1813.9 L1485.1 1811.3 L1484.9 1808.6 L1484.8 1805.9 L1484.7 1803 L1484.9 1799.8 L1485.3 1796.6 L1485.9 1793.8Z" fill="#d4e6f1"/>
<path d="M1193.5 1880 L1194.7 1877.4 L1196.6 1874.5 L1198.7 1871.5 L1200.8 1868.6 L1202.4 1865.9 L1203.3 1863.5 L1203.7 1861.1 L1204.1 1858.9 L1204.7 1856.9 L1205.9 1855.3 L1207.9 1853.9 L1210.5 1852.6 L1213.4 1851.6 L1216.1 1851.3 L1218.2 1851.8 L1219.9 1853.4 L1221.2 1856 L1222.3 1859.2 L1223 1862.6 L1223.5 1865.9 L1223.5 1869.3 L1222.9 1873.1 L1222.2 1876.8 L1221.7 1880.4 L1221.8 1883.6 L1222.9 1886.1 L1224.7 1888.3 L1226.7 1890.3 L1228.3 1892.1 L1228.8 1894.1 L1228.2 1896.5 L1226.7 1899.1 L1224.7 1901.6 L1222.4 1903.6 L1220 1904.7 L1217.5 1904.8 L1214.6 1903.9 L1211.5 1902.6 L1208.6 1901 L1205.9 1899.4 L1203.4 1897.9 L1201 1896.3 L1198.7 1894.4 L1196.8 1892.6 L1195.3 1890.6 L1194.2 1888.7 L1193.5 1886.7 L1193.1 1884.6 L1193.1 1882.4Z" fill="#d4e6f1"/>
<path d="M1204.1 1880 L1205.4 1879.6 L1207.4 1879.5 L1209.6 1879.7 L1211.6 1880.1 L1213 1880.7 L1213.8 1881.8 L1214.3 1883.2 L1214.5 1884.8 L1214.3 1886.2 L1213.7 1887.1 L1212.4 1887.5 L1210.4 1887.6 L1208.2 1887.4 L1206.2 1887 L1204.8 1886.4 L1204 1885.4 L1203.5 1883.9 L1203.3 1882.3 L1203.5 1880.9Z" fill="#9dcbe1"/>
<path d="M1137.1 1908.3 L1138.2 1907.1 L1139.9 1906 L1142 1905.1 L1144.1 1904.7 L1145.9 1904.7 L1147.5 1905.4 L1149.1 1906.6 L1150.6 1908.2 L1151.9 1910 L1152.9 1911.8 L1153.8 1913.8 L1154.5 1916.2 L1155 1918.6 L1155.1 1920.8 L1154.7 1922.4 L1153.6 1923.4 L1151.9 1924.2 L1149.8 1924.5 L1147.7 1924.5 L1145.9 1924.2 L1144.3 1923.3 L1142.7 1922 L1141.2 1920.5 L1139.9 1918.8 L1138.8 1917.1 L1138 1915.4 L1137.2 1913.4 L1136.8 1911.5 L1136.7 1909.7Z" fill="#d4e6f1"/>
<path d="M1297.7 1994.7 L1299.8 1992.7 L1303.9 1990.5 L1309.2 1988.5 L1314.5 1986.9 L1318.8 1985.9 L1322.2 1985.7 L1325.3 1986.1 L1328.2 1986.9 L1330.7 1988.1 L1333 1989.5 L1335.1 1991.2 L1337.1 1993.3 L1338.8 1995.7 L1339.9 1998 L1340 2000 L1339.2 2001.8 L1337.4 2003.5 L1335 2005.1 L1332.3 2006.3 L1329.4 2007.1 L1326.3 2007.5 L1322.7 2007.5 L1318.9 2007.1 L1315.2 2006.4 L1311.8 2005.3 L1308.2 2003.8 L1304.2 2001.7 L1300.6 1999.3 L1298.2 1996.9Z" fill="#d4e6f1"/>
<path d="M1488.3 2257.7 L1490.4 2256.3 L1493.6 2254.7 L1497.5 2253.1 L1501.7 2251.7 L1505.9 2250.7 L1510.5 2249.8 L1515.8 2249.1 L1521.1 2248.7 L1525.7 2248.6 L1528.9 2248.9 L1530.6 2249.8 L1531.3 2251.2 L1531.1 2252.8 L1530.3 2254.5 L1528.9 2256 L1526.8 2257.2 L1523.9 2258.3 L1520.5 2259.4 L1516.8 2260.4 L1513 2261.2 L1508.8 2262.1 L1504.1 2263 L1499.3 2263.7 L1495 2264.1 L1491.8 2264.1 L1489.6 2263.4 L1488.1 2262.2 L1487.3 2260.8 L1487.3 2259.2Z" fill="#d4e6f1"/>
<path d="M1622.4 1945.3 L1624 1945.1 L1626.4 1945.2 L1629 1945.5 L1631.4 1945.9 L1633 1946.4 L1633.7 1947.1 L1633.9 1948.1 L1633.7 1949.1 L1633.2 1950 L1632.3 1950.6 L1630.9 1950.9 L1628.8 1950.9 L1626.6 1950.7 L1624.5 1950.4 L1623.1 1949.9 L1622.3 1949.2 L1621.7 1948.1 L1621.5 1946.9 L1621.7 1945.9Z" fill="#d4e6f1"/>
<path d="M1216.5 1813 L1218.7 1810.8 L1221.5 1809.1 L1224.7 1807.9 L1227.8 1807.4 L1230.6 1807.7 L1232.8 1809.1 L1234.8 1811.6 L1236.6 1814.6 L1238.7 1817.6 L1241.2 1820 L1244.3 1821.8 L1247.9 1823.2 L1251.7 1824.5 L1255.4 1825.8 L1258.8 1827.1 L1262 1828.3 L1265.1 1829.4 L1268 1830.6 L1270.6 1832.1 L1273 1834.1 L1274.9 1837 L1276.4 1840.6 L1277.7 1844.5 L1278.8 1848.3 L1280 1851.8 L1281.3 1854.8 L1282.6 1857.5 L1283.8 1860.2 L1284.7 1862.9 L1285.3 1865.9 L1285.6 1869.4 L1285.7 1873.2 L1285.5 1877.1 L1284.8 1880.6 L1283.6 1883.6 L1281.5 1885.6 L1278.8 1887.1 L1275.7 1888.3 L1272.5 1889.4 L1269.4 1890.6 L1266.6 1892 L1263.6 1893.3 L1260.7 1894.6 L1257.9 1896 L1255.3 1897.7 L1252.9 1899.5 L1250.5 1901.5 L1248.3 1903.6 L1246.3 1905.9 L1244.7 1908.3 L1243.6 1911 L1242.8 1914 L1242.3 1917.1 L1241.8 1920 L1241.2 1922.4 L1240.7 1924.5 L1240.3 1926.4 L1239.8 1928 L1239 1929.1 L1237.7 1929.4 L1235.5 1928.9 L1232.9 1927.5 L1229.8 1925.6 L1226.7 1923.8 L1223.5 1922.4 L1220.1 1921.5 L1216.3 1920.9 L1212.6 1920.4 L1209.5 1919.7 L1207.7 1918.9 L1207.2 1917.7 L1207.8 1916.5 L1209.2 1915 L1211 1913.5 L1213 1911.8 L1215.3 1910 L1218.1 1908 L1221.3 1905.9 L1224.3 1903.6 L1227.1 1901.2 L1229.4 1898.6 L1231.6 1895.6 L1233.6 1892.7 L1235.6 1889.7 L1237.7 1887.1 L1239.9 1884.7 L1242.2 1882.6 L1244.5 1880.6 L1246.6 1878.6 L1248.3 1876.5 L1249.6 1874.4 L1250.9 1872.2 L1251.7 1870 L1252.1 1867.9 L1251.8 1865.9 L1250.6 1863.9 L1248.6 1861.9 L1246.1 1860 L1243.5 1858.4 L1241.2 1857.1 L1239 1856.5 L1236.7 1856.5 L1234.5 1856.6 L1232.4 1856.4 L1230.6 1855.3 L1229.3 1853.2 L1228.4 1850.4 L1227.7 1847.2 L1226.7 1844 L1225.3 1841.2 L1223 1839 L1220.1 1837 L1217.1 1835.2 L1214.5 1833.1 L1213 1830.6 L1212.5 1827.3 L1212.7 1823.5 L1213.5 1819.5 L1214.8 1815.8Z" fill="#fdddcb"/>
<path d="M1258.8 1869.4 L1259.7 1868.6 L1261.2 1868 L1262.9 1867.6 L1264.5 1867.5 L1265.9 1867.7 L1267 1868.3 L1268.1 1869.2 L1269.1 1870.4 L1269.8 1871.7 L1270.1 1873 L1270.1 1874.3 L1269.9 1875.8 L1269.3 1877.3 L1268.6 1878.6 L1267.7 1879.3 L1266.5 1879.5 L1264.9 1879.4 L1263.3 1878.9 L1261.8 1878.1 L1260.6 1877.2 L1259.8 1875.9 L1259.1 1874.2 L1258.7 1872.4 L1258.5 1870.7Z" fill="#f6af8e"/>
<path d="M1147.4 1944.7 L1148.1 1943.6 L1148.9 1943.1 L1150 1942.9 L1151.2 1943 L1152.7 1943.4 L1154.5 1944 L1156.6 1944.9 L1158.9 1946.1 L1161.2 1947.4 L1163.4 1948.7 L1165.6 1950.2 L1167.8 1951.8 L1169.9 1953.5 L1172.1 1955.2 L1174.1 1956.7 L1176.1 1958.2 L1178 1959.7 L1179.8 1961.1 L1181.6 1962.3 L1183.5 1963.4 L1185.3 1964.3 L1187.2 1965 L1189.1 1965.6 L1191 1966.1 L1192.8 1966.8 L1194.7 1967.4 L1196.6 1968.1 L1198.5 1968.8 L1200.4 1969.5 L1202.2 1970.1 L1203.9 1970.8 L1205.6 1971.5 L1207.2 1972.1 L1208.7 1972.6 L1210.2 1972.8 L1211.6 1972.5 L1213 1971.7 L1214.3 1970.9 L1215.6 1970.2 L1216.9 1970.1 L1218.3 1970.6 L1219.7 1971.5 L1221.1 1972.7 L1222.4 1974.1 L1223.6 1975.5 L1224.6 1976.8 L1225.5 1978.2 L1226.3 1979.8 L1227 1981.5 L1227.6 1983.5 L1228.1 1985.9 L1228.6 1988.7 L1229 1991.6 L1229.1 1994.4 L1228.9 1996.8 L1228.2 1998.7 L1227.1 2000.3 L1225.8 2001.7 L1224.5 2003.2 L1223.6 2004.9 L1223 2006.9 L1222.5 2009.1 L1222.2 2011.3 L1222.1 2013.6 L1222.2 2015.6 L1222.7 2017.3 L1223.5 2019 L1224.5 2020.5 L1225.5 2022 L1226.3 2023.6 L1226.8 2025.2 L1227.3 2026.9 L1227.7 2028.5 L1228.2 2030.1 L1228.9 2031.6 L1229.8 2033.1 L1230.7 2034.7 L1231.7 2036.2 L1232.9 2037.4 L1234.3 2038.3 L1235.9 2038.7 L1237.7 2038.8 L1239.7 2038.7 L1241.7 2038.5 L1243.6 2038.3 L1245.5 2038.1 L1247.4 2038 L1249.3 2037.7 L1251.2 2037.4 L1253 2037 L1254.7 2036.3 L1256.4 2035.3 L1258 2034.4 L1259.5 2033.5 L1261 2032.9 L1262.4 2032.6 L1263.7 2032.3 L1265 2032.3 L1266.3 2032.4 L1267.7 2032.9 L1269.3 2033.8 L1271.1 2034.9 L1272.8 2036.3 L1274.4 2037.9 L1275.7 2039.6 L1276.6 2041.5 L1277.2 2043.5 L1277.6 2045.7 L1277.9 2047.9 L1278.4 2050.3 L1278.9 2052.9 L1279.3 2055.6 L1279.7 2058.4 L1280.3 2061.1 L1281.1 2063.7 L1282.2 2066 L1283.6 2068.2 L1285.1 2070.3 L1286.5 2072.4 L1287.8 2074.4 L1288.9 2076.3 L1289.9 2078 L1290.9 2079.8 L1291.5 2081.6 L1291.8 2083.7 L1291.6 2086.3 L1291.1 2089.1 L1290.2 2092.1 L1289.1 2094.8 L1287.8 2097.1 L1286 2098.9 L1283.8 2100.3 L1281.5 2101.5 L1279.1 2102.7 L1277.1 2103.8 L1275.2 2104.9 L1273.3 2105.9 L1271.5 2106.9 L1270.1 2107.9 L1269 2109.1 L1268.5 2110.5 L1268.3 2111.9 L1268.5 2113.4 L1268.7 2115.2 L1269 2117.2 L1269.4 2119.6 L1269.8 2122.3 L1270.3 2125.2 L1271 2128 L1271.7 2130.5 L1272.5 2132.7 L1273.3 2134.8 L1274.2 2136.7 L1275.4 2138.4 L1277.1 2139.9 L1279.2 2141.1 L1281.8 2141.9 L1284.7 2142.7 L1287.6 2143.3 L1290.4 2143.9 L1293.1 2144.6 L1295.9 2145.3 L1298.6 2146 L1301.3 2146.4 L1303.8 2146.6 L1306.2 2146.3 L1308.5 2145.5 L1310.6 2144.7 L1312.7 2144 L1314.5 2143.9 L1316.2 2144.4 L1317.8 2145.4 L1319.2 2146.6 L1320.3 2148 L1321.2 2149.3 L1321.8 2150.6 L1322.2 2152.1 L1322.3 2153.6 L1322 2154.9 L1321.2 2155.9 L1319.8 2156.5 L1317.8 2156.8 L1315.5 2156.9 L1313 2157 L1310.5 2157.3 L1308 2157.7 L1305.3 2158.3 L1302.6 2158.9 L1299.8 2159.5 L1297.1 2159.9 L1294.4 2160.3 L1291.8 2160.7 L1289.1 2161 L1286.4 2161.2 L1283.7 2161.3 L1281.1 2161.2 L1278.4 2161 L1275.7 2160.7 L1273 2160.3 L1270.4 2159.9 L1267.7 2159.4 L1265 2158.8 L1262.4 2158.1 L1259.7 2157.6 L1257 2157.3 L1254.2 2157.3 L1251.3 2157.5 L1248.5 2157.8 L1245.9 2158.2 L1243.6 2158.6 L1241.9 2159 L1240.4 2159.5 L1239.2 2160.1 L1238.1 2160.6 L1237 2161.3 L1235.9 2162 L1235 2162.8 L1234.1 2163.6 L1233 2164.5 L1231.6 2165.3 L1229.8 2166.1 L1227.7 2167 L1225.4 2167.9 L1223.1 2168.7 L1220.9 2169.3 L1218.7 2169.8 L1216.5 2170.2 L1214.3 2170.5 L1212.2 2170.7 L1210.2 2170.6 L1208.4 2170.4 L1206.7 2170.1 L1205.1 2169.6 L1203.6 2168.9 L1202.2 2168 L1200.9 2166.7 L1199.7 2165.2 L1198.7 2163.5 L1197.7 2161.7 L1196.8 2159.9 L1196.2 2158.2 L1195.8 2156.3 L1195.5 2154.4 L1195 2152.5 L1194.2 2150.6 L1192.9 2148.7 L1191.3 2146.9 L1189.6 2145.1 L1187.8 2143.2 L1186.1 2141.2 L1184.5 2139.2 L1182.9 2137.2 L1181.2 2135.1 L1179.6 2132.9 L1178.1 2130.5 L1176.6 2128 L1175.2 2125.4 L1173.8 2122.6 L1172.5 2119.9 L1171.4 2117.2 L1170.6 2114.4 L1169.9 2111.5 L1169.4 2108.7 L1169 2106 L1168.8 2103.8 L1168.8 2102.1 L1169 2101 L1169.3 2099.9 L1169.7 2098.8 L1170.1 2097.1 L1170.6 2094.9 L1171.2 2092.2 L1171.8 2089.4 L1172.4 2086.5 L1172.8 2083.7 L1173 2081 L1173.1 2078.3 L1173.1 2075.6 L1173 2073 L1172.8 2070.4 L1172.5 2067.8 L1172 2065.3 L1171.5 2062.8 L1170.9 2060.5 L1170.1 2058.3 L1169.2 2056.6 L1168.2 2055.1 L1167 2053.7 L1165.9 2052.2 L1164.8 2050.3 L1163.7 2048 L1162.6 2045.4 L1161.5 2042.6 L1160.4 2039.7 L1159.4 2037 L1158.4 2034.3 L1157.4 2031.6 L1156.4 2028.9 L1155.5 2026.3 L1154.7 2023.6 L1154.1 2020.8 L1153.6 2018 L1153.2 2015.3 L1152.9 2012.6 L1152.7 2010.2 L1152.7 2008.1 L1152.9 2006.1 L1153.2 2004.3 L1153.6 2002.6 L1154.1 2000.9 L1154.7 1999.1 L1155.4 1997.4 L1156.2 1995.8 L1157.1 1994.2 L1158.1 1992.8 L1159.2 1991.6 L1160.5 1990.4 L1161.8 1989.4 L1162.8 1988.4 L1163.4 1987.5 L1163.4 1986.7 L1163.1 1986 L1162.4 1985.4 L1161.6 1984.6 L1160.7 1983.5 L1159.9 1981.9 L1158.8 1980.1 L1157.7 1978 L1156.5 1976 L1155.4 1974.1 L1154.3 1972.4 L1153.2 1970.9 L1152 1969.3 L1151 1967.8 L1150.1 1966.1 L1149.2 1964.4 L1148.4 1962.6 L1147.7 1960.7 L1147.1 1958.8 L1146.7 1956.7 L1146.5 1954.3 L1146.5 1951.6 L1146.6 1948.9 L1146.9 1946.5Z" fill="#fdddcb"/>
<path d="M1174.1 1983.5 L1174.7 1983 L1175.3 1982.9 L1175.8 1983.3 L1176.3 1983.9 L1176.8 1984.8 L1177.2 1986.1 L1177.6 1987.8 L1178 1989.6 L1178.4 1991.4 L1178.8 1992.8 L1179.2 1993.9 L1179.5 1994.7 L1179.9 1995.4 L1180.3 1995.8 L1180.8 1996.2 L1181.5 1996.4 L1182.4 1996.4 L1183.4 1996.3 L1184.2 1996 L1184.8 1995.5 L1185.1 1994.7 L1185.2 1993.6 L1185.2 1992.3 L1185.2 1991.1 L1185.5 1990.2 L1185.9 1989.5 L1186.5 1989 L1187.2 1988.5 L1188 1988.1 L1188.8 1987.5 L1189.8 1986.8 L1191 1986 L1192.2 1985.1 L1193.3 1984.3 L1194.2 1983.5 L1194.6 1982.6 L1194.6 1981.7 L1194.6 1980.8 L1194.8 1980 L1195.5 1979.5 L1197 1979.2 L1199 1979 L1201.2 1979.1 L1203.3 1979.2 L1204.9 1979.5 L1205.9 1979.7 L1206.5 1980 L1207 1980.4 L1207.3 1981 L1207.5 1982.1 L1207.7 1983.7 L1207.8 1985.8 L1207.8 1988.1 L1207.7 1990.5 L1207.5 1992.8 L1207.2 1995.2 L1206.8 1997.6 L1206.2 2000.1 L1205.8 2002.5 L1205.5 2004.9 L1205.5 2007.1 L1205.7 2009.2 L1206 2011.3 L1206.2 2013.4 L1206.2 2015.6 L1206.1 2017.7 L1206 2019.8 L1205.8 2022 L1205.4 2024.1 L1204.9 2026.3 L1204.1 2028.4 L1203 2030.5 L1201.9 2032.7 L1200.7 2034.8 L1199.5 2037 L1198.4 2039.1 L1197.2 2041.2 L1196 2043.4 L1194.9 2045.5 L1194.2 2047.6 L1193.7 2049.9 L1193.4 2052.2 L1193.3 2054.4 L1193.3 2056.5 L1193.5 2058.3 L1193.8 2059.8 L1194.3 2060.9 L1195 2061.9 L1195.8 2062.8 L1196.8 2063.7 L1198.1 2064.6 L1199.6 2065.5 L1201.2 2066.4 L1203 2067.1 L1204.9 2067.7 L1206.8 2068.2 L1209 2068.6 L1211.2 2068.8 L1213.4 2069 L1215.6 2069 L1217.7 2068.9 L1220 2068.6 L1222.2 2068.2 L1224.3 2067.8 L1226.3 2067.7 L1228.2 2067.7 L1230.2 2067.8 L1232 2068 L1233.4 2068.4 L1234.3 2069 L1234.4 2070 L1234 2071.3 L1233.3 2072.8 L1232.4 2074.3 L1231.6 2075.7 L1230.9 2077.1 L1230.1 2078.4 L1229.3 2079.7 L1228.4 2081.1 L1227.6 2082.4 L1226.7 2083.7 L1225.7 2085 L1224.7 2086.2 L1224 2087.6 L1223.6 2089.1 L1223.7 2090.8 L1224.1 2092.7 L1224.8 2094.7 L1225.5 2096.6 L1226.3 2098.4 L1227 2100.2 L1227.7 2101.9 L1228.5 2103.5 L1229.4 2105.1 L1230.3 2106.5 L1231.2 2107.7 L1232.2 2108.8 L1233.3 2109.8 L1234.4 2110.8 L1235.6 2111.8 L1236.9 2112.9 L1238.3 2114 L1239.8 2115 L1241.1 2116.1 L1242.3 2117.2 L1243.3 2118.1 L1244.2 2119 L1245 2120 L1245.7 2121.1 L1246.3 2122.5 L1246.8 2124.3 L1247.2 2126.5 L1247.4 2128.8 L1247.6 2131.1 L1247.6 2133.2 L1247.7 2135.3 L1247.7 2137.4 L1247.6 2139.4 L1247.1 2141.1 L1246.3 2142.6 L1245 2143.6 L1243.2 2144.2 L1241.2 2144.6 L1239 2144.9 L1237 2145.2 L1234.9 2145.6 L1232.8 2145.9 L1230.6 2146.1 L1228.4 2146.3 L1226.3 2146.6 L1224 2146.9 L1221.7 2147.4 L1219.5 2147.8 L1217.4 2148 L1215.6 2147.9 L1214.1 2147.5 L1213 2146.8 L1212.1 2145.9 L1211.2 2144.9 L1210.2 2143.9 L1209.2 2142.9 L1208.2 2141.9 L1207.2 2140.9 L1206.1 2139.7 L1204.9 2138.6 L1203.4 2137.3 L1201.8 2136 L1200.1 2134.7 L1198.4 2133.3 L1196.8 2131.9 L1195.4 2130.4 L1194.1 2128.9 L1192.8 2127.3 L1191.5 2125.6 L1190.2 2123.9 L1188.8 2121.9 L1187.3 2119.8 L1185.9 2117.7 L1184.6 2115.4 L1183.5 2113.2 L1182.6 2110.9 L1181.8 2108.5 L1181.1 2106.1 L1180.6 2103.6 L1180.1 2101.1 L1179.8 2098.5 L1179.6 2095.7 L1179.5 2093 L1179.4 2090.3 L1179.5 2087.8 L1179.6 2085.5 L1180 2083.4 L1180.4 2081.4 L1180.7 2079.3 L1180.8 2077.1 L1180.7 2074.5 L1180.6 2071.8 L1180.3 2069 L1179.9 2066.2 L1179.5 2063.7 L1178.9 2061.4 L1178.1 2059.3 L1177.3 2057.2 L1176.4 2055.2 L1175.5 2053 L1174.5 2050.7 L1173.4 2048.2 L1172.3 2045.7 L1171.2 2043.3 L1170.1 2041 L1169 2038.7 L1168 2036.6 L1166.9 2034.5 L1165.8 2032.4 L1164.8 2030.3 L1163.6 2028.1 L1162.5 2025.9 L1161.3 2023.8 L1160.3 2021.6 L1159.4 2019.6 L1158.7 2017.6 L1158.2 2015.6 L1157.8 2013.7 L1157.5 2011.9 L1157.4 2010.2 L1157.4 2008.7 L1157.5 2007.3 L1157.8 2006 L1158.2 2004.7 L1158.7 2003.5 L1159.4 2002.4 L1160.3 2001.3 L1161.2 2000.3 L1162.3 1999.2 L1163.4 1998.2 L1164.7 1997.2 L1166.1 1996.2 L1167.5 1995.3 L1168.9 1994.2 L1170.1 1992.8 L1171.1 1991 L1172 1988.9 L1172.7 1986.6 L1173.4 1984.7Z" fill="#f6af8e"/>
<path d="M1165.4 2008.9 L1166 2008 L1166.9 2007.1 L1167.9 2006.3 L1169 2005.5 L1170.1 2004.9 L1171.3 2004.3 L1172.5 2003.8 L1173.8 2003.4 L1175.3 2003.1 L1176.8 2002.9 L1178.5 2002.8 L1180.5 2002.9 L1182.5 2003 L1184.4 2003 L1186.1 2002.9 L1187.8 2002.3 L1189.3 2001.3 L1190.8 2000.4 L1192 1999.7 L1192.8 1999.5 L1193.2 2000 L1193.2 2000.9 L1193 2002.1 L1192.8 2003.5 L1192.8 2004.9 L1193.2 2006.3 L1193.7 2007.9 L1194.3 2009.6 L1194.9 2011.2 L1195.5 2012.9 L1196.1 2014.5 L1196.6 2016.1 L1197.2 2017.7 L1197.7 2019.3 L1198.2 2020.9 L1198.6 2022.5 L1198.9 2024.1 L1199.2 2025.7 L1199.4 2027.3 L1199.5 2028.9 L1199.5 2030.5 L1199.3 2032.1 L1199 2033.7 L1198.7 2035.3 L1198.2 2037 L1197.5 2038.6 L1196.6 2040.2 L1195.7 2041.8 L1194.8 2043.4 L1194.2 2045 L1193.7 2046.6 L1193.3 2048.2 L1193 2049.9 L1192.9 2051.5 L1192.8 2053 L1192.9 2054.4 L1193 2055.8 L1193.2 2057.1 L1193.6 2058.4 L1194.2 2059.7 L1194.9 2061 L1195.9 2062.4 L1197 2063.8 L1198.2 2065.1 L1199.5 2066.4 L1201 2067.5 L1202.5 2068.7 L1204.2 2069.7 L1205.9 2070.7 L1207.5 2071.7 L1209.2 2072.6 L1211 2073.3 L1212.7 2074.1 L1214.3 2074.9 L1215.6 2075.7 L1216.5 2076.6 L1217.1 2077.6 L1217.5 2078.6 L1217.9 2079.7 L1218.2 2081.1 L1218.6 2082.7 L1218.8 2084.5 L1219 2086.4 L1219.2 2088.4 L1219.6 2090.4 L1220 2092.5 L1220.5 2094.7 L1221.1 2096.9 L1221.7 2099 L1222.2 2101.1 L1222.8 2103.1 L1223.3 2105.1 L1223.8 2107 L1224.3 2108.8 L1224.9 2110.5 L1225.6 2112 L1226.3 2113.4 L1227.1 2114.7 L1227.9 2116 L1228.9 2117.2 L1230.2 2118.3 L1231.6 2119.4 L1233.1 2120.4 L1234.5 2121.5 L1235.6 2122.5 L1236.5 2123.5 L1237.2 2124.5 L1237.7 2125.5 L1238.1 2126.6 L1238.3 2127.9 L1238.4 2129.4 L1238.4 2131.1 L1238.2 2132.8 L1237.7 2134.5 L1237 2135.9 L1235.8 2137 L1234.2 2138 L1232.4 2138.9 L1230.6 2139.5 L1228.9 2139.9 L1227.5 2140.1 L1226.1 2140 L1224.8 2139.7 L1223.5 2139.3 L1222.2 2138.6 L1221.1 2137.5 L1220.1 2136.1 L1219.1 2134.5 L1218 2133 L1216.9 2131.9 L1215.7 2131.1 L1214.4 2130.5 L1213 2130.1 L1211.7 2129.7 L1210.2 2129.2 L1208.7 2128.7 L1207.1 2128.3 L1205.5 2127.9 L1203.8 2127.3 L1202.2 2126.5 L1200.5 2125.5 L1198.9 2124.3 L1197.2 2123 L1195.6 2121.5 L1194.2 2119.8 L1192.9 2118 L1191.7 2115.9 L1190.6 2113.6 L1189.7 2111.3 L1188.8 2109.1 L1188.1 2107 L1187.5 2104.9 L1187 2102.8 L1186.6 2100.7 L1186.1 2098.4 L1185.8 2096.1 L1185.5 2093.7 L1185.3 2091.3 L1185.1 2088.8 L1184.8 2086.4 L1184.6 2084 L1184.3 2081.5 L1184.1 2079.1 L1183.8 2076.7 L1183.5 2074.4 L1183 2072.2 L1182.6 2070 L1182 2067.9 L1181.4 2065.8 L1180.8 2063.7 L1180.1 2061.5 L1179.3 2059.3 L1178.5 2057.2 L1177.6 2055 L1176.8 2053 L1176 2051.1 L1175.2 2049.2 L1174.4 2047.4 L1173.6 2045.6 L1172.8 2043.6 L1171.9 2041.6 L1171.1 2039.5 L1170.2 2037.3 L1169.4 2035.1 L1168.8 2032.9 L1168.2 2030.8 L1167.8 2028.5 L1167.4 2026.3 L1167.1 2024.2 L1166.8 2022.2 L1166.4 2020.4 L1166.1 2018.7 L1165.8 2017.1 L1165.6 2015.6 L1165.4 2014.2 L1165.3 2013 L1165.1 2011.8 L1165 2010.8 L1165.1 2009.8Z" fill="#de735c"/>
<path d="M1178.1 2008.9 L1179 2008.1 L1180.4 2007.5 L1181.8 2007.1 L1183.2 2007.1 L1184.1 2007.5 L1184.5 2008.6 L1184.6 2010.1 L1184.5 2012 L1184.5 2013.9 L1184.8 2015.6 L1185.6 2017 L1186.7 2018.4 L1187.9 2019.7 L1189.1 2021 L1190.2 2022.2 L1191.1 2023.3 L1192 2024.3 L1192.9 2025.2 L1193.5 2026.3 L1193.9 2027.6 L1194 2029.3 L1193.8 2031.3 L1193.4 2033.4 L1192.9 2035.4 L1192.2 2037 L1191.2 2038.1 L1190 2038.9 L1188.6 2039.6 L1187.3 2040.2 L1186.1 2041 L1185.2 2042 L1184.4 2043.1 L1183.6 2044.2 L1182.9 2044.9 L1182.1 2045 L1181.4 2044.2 L1180.8 2042.7 L1180.1 2040.8 L1179.5 2038.8 L1178.8 2037 L1178.1 2035.1 L1177.2 2033.2 L1176.5 2031.2 L1175.8 2029.3 L1175.5 2027.6 L1175.4 2026.1 L1175.7 2024.7 L1176 2023.4 L1176.4 2022.1 L1176.8 2020.9 L1177.1 2019.8 L1177.4 2018.7 L1177.7 2017.7 L1177.9 2016.7 L1178.1 2015.6 L1178.1 2014.2 L1177.9 2012.7 L1177.8 2011.2 L1177.8 2009.9Z" fill="#be3036"/>
<path d="M1196.8 2076.4 L1197.8 2076.3 L1198.8 2076.6 L1199.9 2077.1 L1201 2077.8 L1202.2 2078.4 L1203.5 2079 L1205 2079.7 L1206.4 2080.5 L1207.8 2081.4 L1208.9 2082.4 L1209.6 2083.5 L1210.2 2084.8 L1210.6 2086.1 L1211 2087.5 L1211.6 2089.1 L1212.3 2090.9 L1213.2 2092.8 L1214.1 2094.9 L1214.9 2096.8 L1215.6 2098.4 L1216.1 2099.7 L1216.5 2100.7 L1216.9 2101.7 L1217 2102.6 L1216.9 2103.8 L1216.5 2105.3 L1215.8 2107 L1214.9 2108.8 L1213.9 2110.5 L1212.9 2111.8 L1211.7 2112.9 L1210.3 2113.7 L1208.9 2114.3 L1207.5 2114.8 L1206.2 2115.2 L1205.1 2115.4 L1204 2115.4 L1203 2115.3 L1202 2115 L1200.9 2114.5 L1199.6 2113.8 L1198.2 2112.8 L1196.8 2111.7 L1195.4 2110.5 L1194.2 2109.1 L1193 2107.8 L1191.9 2106.3 L1190.8 2104.7 L1190 2102.9 L1189.5 2101.1 L1189.4 2099.1 L1189.5 2097 L1189.9 2094.7 L1190.4 2092.5 L1190.8 2090.4 L1191.3 2088.4 L1191.8 2086.4 L1192.3 2084.4 L1192.9 2082.6 L1193.5 2081.1 L1194.1 2079.7 L1194.7 2078.5 L1195.3 2077.6 L1196 2076.8Z" fill="#be3036"/>
<path d="M1202.2 2087.1 L1203.3 2087.6 L1204.5 2088.7 L1205.6 2090.1 L1206.7 2091.7 L1207.5 2093.1 L1208.3 2094.4 L1208.9 2095.8 L1209.5 2097.2 L1209.8 2098.5 L1209.9 2099.8 L1209.9 2101 L1209.6 2102.1 L1209.1 2103.3 L1208.5 2104.3 L1207.5 2105.1 L1206.3 2105.9 L1204.6 2106.7 L1202.8 2107.3 L1201 2107.7 L1199.5 2107.8 L1198.2 2107.5 L1197 2106.7 L1195.9 2105.8 L1195 2104.8 L1194.2 2103.8 L1193.4 2102.8 L1192.8 2101.8 L1192.3 2100.7 L1192.1 2099.6 L1192.2 2098.4 L1192.7 2097.2 L1193.5 2095.8 L1194.6 2094.4 L1195.8 2093 L1196.8 2091.8 L1197.9 2090.5 L1198.9 2089.2 L1200 2088.1 L1201.1 2087.3Z" fill="#870a24"/>
<path d="M1270.4 2017.6 L1272.3 2017.3 L1275.3 2017.3 L1278.7 2017.5 L1281.7 2017.8 L1283.7 2018.2 L1284.8 2018.9 L1285.3 2019.8 L1285.3 2020.8 L1284.7 2021.7 L1283.7 2022.2 L1281.9 2022.5 L1279.3 2022.5 L1276.3 2022.3 L1273.6 2022 L1271.7 2021.6 L1270.5 2020.9 L1269.7 2020 L1269.3 2019 L1269.5 2018.1Z" fill="#fdddcb"/>
<path d="M1357.7 2088.3 L1359.2 2086.9 L1361.1 2085.7 L1363.4 2084.8 L1365.8 2084.4 L1368.3 2084.8 L1370.8 2086.1 L1373.5 2088.3 L1376.3 2090.9 L1379.3 2093.5 L1382.4 2095.3 L1385.8 2096.5 L1389.5 2097.3 L1393.3 2097.8 L1396.9 2098.3 L1400 2098.9 L1402.6 2099.5 L1404.8 2100 L1406.7 2100.5 L1408.6 2101.2 L1410.6 2102.4 L1412.8 2104 L1415 2106 L1417.2 2108.2 L1419.3 2110.5 L1421.2 2113 L1423.1 2115.6 L1425.1 2118.4 L1426.8 2121.3 L1427.9 2124.2 L1428.3 2127.1 L1427.4 2130 L1425.4 2132.9 L1423 2135.8 L1420.8 2138.6 L1419.4 2141.2 L1419.3 2143.7 L1419.8 2146 L1420.6 2148.1 L1421.3 2150.1 L1421.2 2151.8 L1420.5 2153.4 L1419.4 2154.8 L1417.9 2156 L1416.2 2156.8 L1414.2 2157.1 L1411.8 2156.8 L1409.2 2155.8 L1406.3 2154.6 L1403.2 2153.2 L1400 2151.8 L1396.5 2150.6 L1392.6 2149.3 L1388.6 2147.9 L1385.1 2146.4 L1382.4 2144.8 L1380.9 2142.9 L1380.3 2140.8 L1380.1 2138.6 L1379.8 2136.4 L1378.9 2134.2 L1377.2 2132.1 L1375 2129.9 L1372.7 2127.8 L1370.4 2125.7 L1368.3 2123.6 L1366.3 2121.5 L1364.4 2119.5 L1362.5 2117.5 L1360.8 2115.3 L1359.4 2113 L1358.3 2110.3 L1357.4 2107.4 L1356.7 2104.4 L1356.2 2101.5 L1355.9 2098.9 L1355.8 2096.4 L1355.8 2094 L1356.1 2091.8 L1356.7 2089.9Z" fill="#fdddcb"/>
<path d="M1234.1 2167.7 L1235.1 2166.2 L1236.4 2165.2 L1238 2164.8 L1239.7 2165.1 L1241.2 2165.9 L1242.4 2167.9 L1243.5 2170.9 L1244.7 2174.3 L1246.2 2177.6 L1248.3 2180.1 L1251.1 2181.7 L1254.5 2182.8 L1258.3 2183.7 L1262.2 2184.4 L1265.9 2185.4 L1269.6 2186.3 L1273.4 2187.2 L1277.1 2188.2 L1280.6 2189.3 L1283.6 2190.7 L1286.1 2192.4 L1288.2 2194.5 L1290 2196.8 L1291.4 2199 L1292.4 2201.2 L1292.9 2203.4 L1293 2205.5 L1292.7 2207.6 L1291.9 2209.7 L1290.6 2211.8 L1288.4 2213.9 L1285.3 2216 L1282 2218.1 L1278.8 2220.2 L1276.5 2222.4 L1275.2 2225.1 L1274.7 2228.1 L1274.4 2231 L1273.9 2233.4 L1273 2234.8 L1271.3 2234.9 L1269.2 2234.2 L1266.9 2232.8 L1264.6 2231.2 L1262.4 2229.5 L1260.3 2227.8 L1258.1 2226 L1256 2223.9 L1253.9 2221.5 L1251.8 2218.9 L1249.6 2215.8 L1247.4 2212.3 L1245.2 2208.6 L1243.1 2204.9 L1241.2 2201.2 L1239.4 2197.7 L1237.8 2194.1 L1236.3 2190.5 L1235 2187 L1234.1 2183.6 L1233.6 2180.1 L1233.3 2176.4 L1233.3 2173 L1233.6 2170Z" fill="#fdddcb"/>
<path d="M1310 2183.6 L1311.1 2181.7 L1312.5 2180.1 L1314.1 2178.8 L1316.2 2177.6 L1318.8 2176.5 L1322.4 2175.6 L1326.8 2175 L1331.5 2174.4 L1336 2173.8 L1340 2173 L1343.5 2171.8 L1346.7 2170.2 L1349.6 2168.6 L1352.1 2167.7 L1354.1 2167.7 L1355.7 2169 L1356.7 2171.3 L1357.4 2174.1 L1357.7 2177.2 L1357.7 2180.1 L1357.1 2182.6 L1355.9 2185.1 L1354.5 2187.7 L1353.2 2190.7 L1352.4 2194.2 L1352.2 2198.7 L1352.4 2204.2 L1352.8 2209.8 L1352.9 2214.9 L1352.4 2218.9 L1351.3 2221.6 L1349.9 2223.5 L1348.1 2224.7 L1346 2225.5 L1343.6 2226 L1340.5 2226 L1337 2225.6 L1333.1 2224.8 L1329.4 2223.7 L1325.9 2222.4 L1322.7 2220.8 L1319.5 2218.9 L1316.5 2216.7 L1313.9 2214.3 L1311.8 2211.8 L1310.3 2209.2 L1309.4 2206.4 L1308.8 2203.5 L1308.5 2200.6 L1308.3 2197.7 L1308.2 2194.8 L1308.2 2191.7 L1308.6 2188.7 L1309.1 2186Z" fill="#fdddcb"/>
<path d="M1465.3 2236.5 L1466.4 2235.7 L1467.8 2235 L1469.6 2234.3 L1471.7 2233.7 L1474.2 2233 L1477.1 2232.3 L1480.6 2231.6 L1484.3 2230.9 L1488.1 2230.2 L1491.8 2229.5 L1495.4 2228.6 L1499 2227.6 L1502.7 2226.6 L1506.2 2226 L1509.5 2226 L1512.7 2226.7 L1516 2228 L1519 2229.7 L1521.6 2231.4 L1523.6 2233 L1525 2234.5 L1526 2236 L1526.5 2237.5 L1526.3 2238.9 L1525.3 2240.1 L1523.3 2241 L1520.3 2241.7 L1516.8 2242.4 L1513 2243 L1509.5 2243.6 L1506 2244.4 L1502.5 2245.2 L1499 2246 L1495.4 2246.7 L1491.8 2247.1 L1488.1 2247.4 L1484.3 2247.6 L1480.6 2247.7 L1477.1 2247.5 L1474.2 2247.1 L1471.7 2246.4 L1469.6 2245.4 L1467.8 2244.2 L1466.4 2243 L1465.3 2241.8 L1464.6 2240.7 L1464.3 2239.6 L1464.3 2238.5 L1464.6 2237.5Z" fill="#fdddcb"/>
<path d="M1474.2 2237.6 L1475.5 2236.9 L1477.8 2236.3 L1480.5 2235.9 L1483 2235.7 L1484.8 2235.8 L1485.8 2236.3 L1486.6 2237.1 L1487 2238.1 L1487 2239.2 L1486.5 2240.1 L1485.3 2241 L1483.5 2242 L1481.3 2242.9 L1479.3 2243.5 L1477.7 2243.6 L1476.4 2242.9 L1475.2 2241.7 L1474.3 2240.2 L1473.9 2238.7Z" fill="#f6af8e"/>
<path d="M1497.1 2239.4 L1498.9 2238.6 L1501.7 2237.8 L1504.8 2237.1 L1507.6 2236.6 L1509.5 2236.5 L1510.3 2237 L1510.6 2237.8 L1510.3 2238.9 L1509.7 2240 L1508.8 2240.8 L1507.2 2241.4 L1505.1 2242 L1502.7 2242.6 L1500.5 2242.9 L1498.9 2242.9 L1497.8 2242.5 L1496.9 2241.9 L1496.4 2241 L1496.4 2240.1Z" fill="#f6af8e"/>
<path d="M1573 1950.6 L1575.3 1949.8 L1578.8 1949.4 L1582.7 1949.2 L1586.3 1949.4 L1588.9 1949.9 L1590.4 1951 L1591.5 1952.7 L1591.9 1954.6 L1591.6 1956.4 L1590.6 1957.7 L1588.4 1958.6 L1584.9 1959.3 L1580.9 1959.8 L1577.3 1959.9 L1574.8 1959.4 L1573.2 1958.2 L1572.2 1956.3 L1571.8 1954.1 L1572 1952Z" fill="#fdddcb"/>
<path d="M1604.8 2157.1 L1605.7 2156.1 L1607.2 2155.5 L1609 2155.2 L1610.6 2155.4 L1611.8 2156.1 L1612.7 2157.6 L1613.3 2159.9 L1613.8 2162.5 L1613.9 2165 L1613.6 2166.7 L1612.7 2167.7 L1611.1 2168.3 L1609.4 2168.6 L1607.7 2168.4 L1606.5 2167.7 L1605.7 2166.2 L1605 2163.9 L1604.6 2161.2 L1604.5 2158.8Z" fill="#fdddcb"/>
<path d="M1315.3 2097.1 L1316.7 2096.1 L1318.8 2095 L1321.2 2094.1 L1323.7 2093.6 L1325.9 2093.6 L1328 2094.3 L1330.2 2095.7 L1332.3 2097.4 L1333.9 2099.1 L1334.7 2100.6 L1334.7 2102.1 L1334 2103.6 L1332.7 2105 L1331.2 2106.1 L1329.4 2106.6 L1327.3 2106.6 L1324.5 2106 L1321.6 2105.2 L1319 2104.1 L1317.1 2103.1 L1315.9 2102 L1315 2100.8 L1314.6 2099.5 L1314.7 2098.2Z" fill="#fdddcb"/>
<path d="M1271.2 2017.7 L1273 2017.5 L1275.8 2017.4 L1278.9 2017.6 L1281.7 2018 L1283.6 2018.4 L1284.5 2019.1 L1285 2020.1 L1285 2021.1 L1284.5 2022 L1283.6 2022.6 L1281.8 2022.9 L1279.2 2022.9 L1276.3 2022.7 L1273.7 2022.4 L1271.9 2021.9 L1270.9 2021.2 L1270.2 2020.2 L1270 2019.2 L1270.3 2018.3Z" fill="#fdddcb"/>
<path d="M922.1 1874.2 L927.2 1860.1 L940.7 1856.3 L939.4 1871.7 L936.2 1880 L931.1 1880.7Z" fill="#d4e6f1"/>
<path d="M957.4 1853.7 L966.4 1851.8 L970.9 1859.5 L964.5 1860.8Z" fill="#d4e6f1"/>
<path d="M983.1 1894.1 L988.8 1892.2 L988.8 1896.7Z" fill="#d4e6f1"/>
</g>
<g clip-path="url(#co1)" fill="none" stroke="#000" stroke-width="4.2" stroke-linejoin="round" stroke-linecap="round">
<path d="M489.3 609.4 L493.4 608.6 L495.8 611.8 L496.6 617.5 L497.4 621.5 L494.2 623.1 L493.4 628.7 L494.2 633.5 L496.6 638.3 L500.6 641.5 L504.6 643.1 L507.8 643.9 L508.2 647.9 L507 651.1 L509.4 655.9 L512.6 660.8 L516.6 664.8 L522.2 666.4 L527.8 665.6 L534.3 663.2 L542.3 664 L552 665.3 L560 668.5 L568.1 671.7 L576.1 674.1 L581.7 678.1 L585.7 682.1 L588.1 686.1 L587.3 689.3 L589.7 692.6 L592.1 695 L593.7 699.8 L595.3 707 L596.9 712.6 L599.7 716.3 L598.5 720.7 L596.9 726.3 L596.1 731.9 L599.3 732.3 L603.4 728.7 L608.2 726.7 L611.8 728.3 L612.6 732.7 L611.4 735.1 L614.6 737.5 L621 739.5 L626.6 737.9 L632.2 737.5 L636.2 733.5 L641.8 731.1 L647.5 728.7 L652.3 725.5 L658.7 723.1 L665.1 722.7 L672.3 725.5 L669.1 719.1 L667.5 711 L666.7 706.2 L671.5 703 L676.3 701.8 L675.5 698.2 L674.7 695 L675.5 693.4 L677.9 689.3 L680.3 682.9 L683.5 679.7 L685.1 673.3 L681.9 669.3 L678.7 663.7 L676.3 664.5 L672.3 670.9 L669.1 673.3 L665.9 670.1 L662.7 665.3 L660.3 661.3 L661.9 658.9 L664.7 651.7 L665.5 645.2 L665.9 637.2 L669.9 630.8 L675.5 627.6 L679.5 623.6 L684.3 616.4 L688.4 609.2 L689.6 603.5 L686.8 600.3 L684.3 596.3 L685.1 589.9 L690 584.3 L693.2 581.1 L695.6 575.5 L696.8 568.3 L698.8 565.9 L702 566.3 L705.2 569.5 L708.8 569.5 L709.6 565 L710 561 L713.3 561 L714.9 565 L718.1 565.4 L723.7 563 L728.5 561.8 L731.7 563 L733.3 567.1 L738.1 563.4 L744.5 560.6 L750.9 557.8 L758.2 554.6 L761.4 551.4 L763 549.4 L765 552.2 L769 552.6 L771 557 L773 561.8 L776.6 560.6 L779.8 556.6 L783.8 554.6 L788.2 556.6 L789 560.6 L792.6 558.2 L797.5 557.8 L803.1 559.4 L807.9 562.6 L812.3 565 L813.5 572.3 L817.5 572.7 L822.3 574.7 L827.9 577.1 L834.3 578.3 L840 577.9 L845.6 577.1 L851.2 578.3 L855.2 575.9 L859.2 573.1 L862.9 571.9 L865.3 575.9 L864.9 581.1 L866.9 584.7 L869.7 585.9 L870.1 592.3 L870.5 593.9 L874.5 593.5 L878.5 591.5 L887.3 592.3 L896.1 595.5 L904.2 597.1 L909 598.7 L910.6 601.9 L920.2 602.3 L923.4 605.9 L926.6 606.3 L929.8 604.7 L934.6 605.1 L940.2 607.6 L945.1 611.6 L948.3 616.4 L949.1 621.2 L948.3 625.2 L945.1 627.6 L944.3 633.2 L943 637.2 L944.3 641.2 L943 646 L942.6 650.9 L944.3 654.1 L948.3 656.1 L952.7 657.3 L953.1 663.7 L953.9 670.1 L954.7 674.9 L955.5 678.9 L950.7 682.1 L945.9 685.7 L939.4 687.7 L934.6 685.3 L929.8 683.7 L926.2 686.1 L927 689.3 L924.2 691.4 L914.6 691.8 L912.2 695 L912.6 698.2 L915.4 701.4 L923.4 701.8 L932.2 703.8 L941.8 703.8 L944.3 707.8 L946.7 712.6 L949.9 716.3 L956.3 717.5 L961.9 719.1 L966.7 723.1 L970.7 727.1 L974.7 729.5 L977.5 733.5 L977.9 738.3 L979.9 743.1 L980.3 749.5 L983.5 752.7 L991.4 755.3 L983.5 758.4 L980.3 761.6 L979.5 767.2 L980.3 772 L979.5 777.6 L979.5 783.2 L976.3 788 L977.1 794.4 L977.1 800.1 L975.5 804.9 L980.3 809.7 L984.3 814.5 L992.7 822.2 L982.7 826.5 L976.3 829.7 L972.3 832.1 L970.7 837.7 L969.9 845 L969.9 849 L971.5 853.8 L973.5 858.6 L971.9 862.6 L972.3 865.9 L969.9 869.1 L963.5 870.7 L959.5 873.1 L957.9 876.3 L952.3 879.5 L947.5 883.5 L945.1 888.3 L945.9 892.3 L947.1 896.3 L946.7 901.1 L943.4 904.3 L939.4 908.4 L937 914 L932.2 917.2 L928.2 920.4 L927.4 927.6 L924.2 931.6 L920.2 936.4 L917 941.2 L916.2 945.2 L919.4 949.3 L922.6 952.9 L919.4 953.3 L915.4 950.9 L910.6 947.6 L905.8 945.6 L901.7 946.8 L896.9 951.7 L891.3 958.1 L885.7 962.9 L880.1 966.9 L874.5 969.3 L869.7 967.7 L868.1 963.7 L864.1 962.1 L854.4 962.5 L846.4 963.7 L840 965.3 L840 965.3 L835.1 967.7 L834.3 971.7 L831.1 970.9 L827.1 969.3 L821.5 967.7 L817.5 968.5 L812.7 968.9 L808.7 965.3 L803.9 963.7 L799.9 961.3 L795.1 960.5 L790.2 962.1 L784.6 963.3 L779 964.1 L773.4 962.9 L767.8 960.5 L764.6 958.1 L764.2 954.1 L765 947.6 L765.8 941.2 L766.2 935.6 L770.2 932.4 L771 928.4 L774.2 925.2 L775 918.8 L776.2 912.4 L775.8 905.1 L774.2 898.7 L771.8 893.1 L769.4 888.3 L767 885.1 L762.2 884.3 L761.4 880.3 L765.4 875.5 L769.8 872.3 L769.4 866.7 L768.2 861 L767.8 854.6 L764.6 852.2 L762.2 848.2 L759.8 845 L759.8 844.2 L755.8 841 L750.9 836.9 L747.3 834.5 L746.1 829.7 L742.9 827.3 L741.3 823.3 L738.1 826.5 L736.1 823.3 L733.7 820.9 L731.7 827.3 L729.3 826.5 L727.7 822.1 L725.3 826.5 L722.5 827.3 L721.7 822.5 L720.1 818.5 L718.1 812.9 L715.7 809.7 L712.1 811.3 L710.4 808.9 L710 803.7 L706 804.9 L702 806.5 L698.8 810.1 L702.4 812.9 L704 816.9 L702 820.9 L704.8 824.1 L702 827.3 L698 832.9 L695.6 838.5 L696 845 L697.6 847.4 L696.4 851.6 L690 849 L684.3 846.8 L678.7 849 L675.5 853.8 L676.3 860.2 L681.1 864.2 L685.5 869.1 L686.8 874.7 L686.8 881.1 L685.1 888.3 L682.7 893.9 L681.9 888.7 L677.9 887.9 L673.5 887.5 L673.1 882.7 L669.1 881.9 L663.5 882.7 L657.9 884.3 L654.7 883.5 L652.3 885.1 L650.7 889.9 L647.5 893.5 L643.4 893.1 L644.3 889.9 L641 888.7 L636.2 888.7 L632.2 886.7 L628.2 884.7 L622.6 883.9 L616.2 882.7 L613.8 878.7 L609.4 875.5 L608.2 870.7 L604.2 867.5 L601.7 864.2 L600.1 858.6 L596.1 853 L592.1 847.4 L588.1 845 L584.1 843.4 L583.3 839.3 L580.1 836.9 L575.3 834.5 L579.3 830.5 L582.5 826.5 L579.3 824.9 L580.9 821.7 L581.7 816.9 L583.3 812.1 L582.5 808.1 L579.3 804.1 L578.5 797.6 L579.7 792.8 L575.3 792 L568.5 796 L568.9 800.1 L565.7 802.5 L559.2 805.7 L553.6 807.3 L552.8 799.3 L553.6 793.6 L556 789.6 L560 788 L559.2 782.4 L556 776 L554 771.2 L556.4 768 L555.2 764 L550.4 762.8 L547.6 761.2 L551.2 759.2 L554 755.1 L553.6 751.1 L557.2 749.5 L558 747.9 L560 742.3 L563.3 738.3 L558.4 735.1 L556 732.7 L560.4 730.3 L561.3 725.9 L564.1 723.9 L567.7 721.5 L567.3 716.7 L564.9 711 L564.9 703 L564.1 695 L564.7 696.8 L562.3 692 L558.3 688.8 L552.7 687.2 L544.7 686 L536.7 684.8 L530.2 682.8 L526.2 680 L522.2 676 L518.2 672.8 L513.4 671.2 L508.6 669.6 L505.4 666.4 L502.2 661.6 L499 655.9 L497.4 651.1 L494.2 647.9 L490.9 643.1 L489.7 638.3 L490.1 632.7 L489.7 627.1 L489.3 620.7 L488.1 614.2 L489.3 609.4Z"/>
<path d="M639.4 674.9 L644.3 673.3 L649.9 674.9 L655.5 680.5 L661.1 685.3 L661.5 695 L661.1 699.8 L658.7 704.6 L653.9 705.4 L649.9 701.4 L648.3 695 L646.7 691.8 L642.6 686.1 L638.2 679.7Z"/>
<path d="M637 709.4 L643.4 710.2 L651.5 715.9 L647.5 721.5 L640.2 721.9 L639.4 719.9 L641.8 715.9Z"/>
<path d="M519.8 688 L526.2 686 L534.3 687.2 L542.3 688.4 L552.7 689.2 L556.3 693.6 L557.5 699.3 L557.1 706.5 L554.3 708.9 L552.7 703.3 L550.3 704.1 L549.5 709.7 L546.3 713.7 L542.3 710.5 L539.9 705.7 L542.3 701.7 L534.3 698.4 L524.6 695.2 L520.2 691.2Z"/>
<path d="M541.6 785.6 L548 783.2 L548.8 787.2 L550 795.2 L548.8 802.5 L545.6 805.7 L542 804.9 L542.4 795.2Z"/>
<path d="M577.7 848.6 L584.9 847.8 L588.9 849.8 L589.3 854.6 L587.3 858.6 L583.3 859.8 L582.1 853 L578.5 849.4Z"/>
<path d="M590.1 860.2 L592.9 860.6 L594.5 867.5 L592.9 871.5 L589.7 871.5 L588.9 866.7Z" fill="#000"/>
<path d="M694 867.5 L698 867.1 L700 871.5 L700.4 878.7 L698 884.3 L694.8 882.7 L692.8 877.1 L692.8 871.5Z"/>
<path d="M1148.9 601.7 L1161.8 599.1 L1161.8 613.2 L1153.6 613.2Z"/>
<path d="M366.9 538.4 L375.9 536.7 L378.9 541 L377.6 552.1 L372.4 552.9 L372.9 561.1 L366 562.3 L363.5 549.9 L368.2 546.5 L369.4 541.4Z"/>
<path d="M349.8 614.1 L355.8 613.7 L366.9 613.2 L376.3 609 L383.1 601.3 L387.4 606.4 L384.8 611.5 L380.6 612.4 L384 616.7 L384.8 622.7 L381.4 628.6 L375.4 632.9 L371.2 639.8 L364.3 644.9 L355.8 650 L347.2 653.4 L340.4 655.2 L347.2 648.3 L355.8 643.2 L361.7 636.3 L356.6 630.4 L350.6 626.9 L348.9 618.4Z"/>
<path d="M268.5 560.2 L272.8 565.3 L276.2 571.3 L283.9 577.3 L295 573 L300.2 567 L309.6 574.7 L311.3 584.2 L313.8 587.6 L323.3 595.3 L324.1 601.3 L326.7 606.4 L331.8 609 L341.2 610.7 L348.9 609.4 L346.4 616.7 L348.1 626.1 L354.9 630.4 L360 635.5 L354.9 641.5 L347.2 646.6 L339.5 650.9 L332.7 656 L325 656 L318.1 652.6 L309.6 654.3 L295.9 651.7 L287.3 648.3 L278.8 643.2 L272.8 632.9 L265.9 644 L256.5 632.9 L250.5 630.4 L244.6 628.6"/>
<path d="M811.5 1266 L812.1 1260.4 L814.1 1249.8 L823.7 1238.2 L831.2 1237.2 L837.3 1240.2 L846.3 1238.7 L848.9 1242.8 L846.8 1254.3 L845.8 1262"/>
</g>
<circle cx="734.2" cy="764" r="502.8" fill="none" stroke="#000" stroke-width="3.6"/>
<g clip-path="url(#co2)" fill="none" stroke="#000" stroke-width="4.2" stroke-linejoin="round" stroke-linecap="round">
<path d="M1808.1 609.4 L1812.2 608.6 L1814.6 611.8 L1815.4 617.5 L1816.2 621.5 L1813 623.1 L1812.2 628.7 L1813 633.5 L1815.4 638.3 L1819.4 641.5 L1823.4 643.1 L1826.6 643.9 L1827 647.9 L1825.8 651.1 L1828.2 655.9 L1831.4 660.8 L1835.4 664.8 L1841 666.4 L1846.6 665.6 L1853.1 663.2 L1861.1 664 L1870.8 665.3 L1878.8 668.5 L1886.9 671.7 L1894.9 674.1 L1900.5 678.1 L1904.5 682.1 L1906.9 686.1 L1906.1 689.3 L1908.5 692.6 L1910.9 695 L1912.5 699.8 L1914.1 707 L1915.7 712.6 L1918.5 716.3 L1917.3 720.7 L1915.7 726.3 L1914.9 731.9 L1918.1 732.3 L1922.2 728.7 L1927 726.7 L1930.6 728.3 L1931.4 732.7 L1930.2 735.1 L1933.4 737.5 L1939.8 739.5 L1945.4 737.9 L1951 737.5 L1955 733.5 L1960.6 731.1 L1966.3 728.7 L1971.1 725.5 L1977.5 723.1 L1983.9 722.7 L1991.1 725.5 L1987.9 719.1 L1986.3 711 L1985.5 706.2 L1990.3 703 L1995.1 701.8 L1994.3 698.2 L1993.5 695 L1994.3 693.4 L1996.7 689.3 L1999.1 682.9 L2002.3 679.7 L2003.9 673.3 L2000.7 669.3 L1997.5 663.7 L1995.1 664.5 L1991.1 670.9 L1987.9 673.3 L1984.7 670.1 L1981.5 665.3 L1979.1 661.3 L1980.7 658.9 L1983.5 651.7 L1984.3 645.2 L1984.7 637.2 L1988.7 630.8 L1994.3 627.6 L1998.3 623.6 L2003.1 616.4 L2007.2 609.2 L2008.4 603.5 L2005.6 600.3 L2003.1 596.3 L2003.9 589.9 L2008.8 584.3 L2012 581.1 L2014.4 575.5 L2015.6 568.3 L2017.6 565.9 L2020.8 566.3 L2024 569.5 L2027.6 569.5 L2028.4 565 L2028.8 561 L2032.1 561 L2033.7 565 L2036.9 565.4 L2042.5 563 L2047.3 561.8 L2050.5 563 L2052.1 567.1 L2056.9 563.4 L2063.3 560.6 L2069.7 557.8 L2077 554.6 L2080.2 551.4 L2081.8 549.4 L2083.8 552.2 L2087.8 552.6 L2089.8 557 L2091.8 561.8 L2095.4 560.6 L2098.6 556.6 L2102.6 554.6 L2107 556.6 L2107.8 560.6 L2111.4 558.2 L2116.3 557.8 L2121.9 559.4 L2126.7 562.6 L2131.1 565 L2132.3 572.3 L2136.3 572.7 L2141.1 574.7 L2146.7 577.1 L2153.1 578.3 L2158.8 577.9 L2164.4 577.1 L2170 578.3 L2174 575.9 L2178 573.1 L2181.7 571.9 L2184.1 575.9 L2183.7 581.1 L2185.7 584.7 L2188.5 585.9 L2188.9 592.3 L2189.3 593.9 L2193.3 593.5 L2197.3 591.5 L2206.1 592.3 L2214.9 595.5 L2223 597.1 L2227.8 598.7 L2229.4 601.9 L2239 602.3 L2242.2 605.9 L2245.4 606.3 L2248.6 604.7 L2253.4 605.1 L2259 607.6 L2263.9 611.6 L2267.1 616.4 L2267.9 621.2 L2267.1 625.2 L2263.9 627.6 L2263.1 633.2 L2261.8 637.2 L2263.1 641.2 L2261.8 646 L2261.4 650.9 L2263.1 654.1 L2267.1 656.1 L2271.5 657.3 L2271.9 663.7 L2272.7 670.1 L2273.5 674.9 L2274.3 678.9 L2269.5 682.1 L2264.7 685.7 L2258.2 687.7 L2253.4 685.3 L2248.6 683.7 L2245 686.1 L2245.8 689.3 L2243 691.4 L2233.4 691.8 L2231 695 L2231.4 698.2 L2234.2 701.4 L2242.2 701.8 L2251 703.8 L2260.6 703.8 L2263.1 707.8 L2265.5 712.6 L2268.7 716.3 L2275.1 717.5 L2280.7 719.1 L2285.5 723.1 L2289.5 727.1 L2293.5 729.5 L2296.3 733.5 L2296.7 738.3 L2298.7 743.1 L2299.1 749.5 L2302.3 752.7 L2310.2 755.3 L2302.3 758.4 L2299.1 761.6 L2298.3 767.2 L2299.1 772 L2298.3 777.6 L2298.3 783.2 L2295.1 788 L2295.9 794.4 L2295.9 800.1 L2294.3 804.9 L2299.1 809.7 L2303.1 814.5 L2311.5 822.2 L2301.5 826.5 L2295.1 829.7 L2291.1 832.1 L2289.5 837.7 L2288.7 845 L2288.7 849 L2290.3 853.8 L2292.3 858.6 L2290.7 862.6 L2291.1 865.9 L2288.7 869.1 L2282.3 870.7 L2278.3 873.1 L2276.7 876.3 L2271.1 879.5 L2266.3 883.5 L2263.9 888.3 L2264.7 892.3 L2265.9 896.3 L2265.5 901.1 L2262.2 904.3 L2258.2 908.4 L2255.8 914 L2251 917.2 L2247 920.4 L2246.2 927.6 L2243 931.6 L2239 936.4 L2235.8 941.2 L2235 945.2 L2238.2 949.3 L2241.4 952.9 L2238.2 953.3 L2234.2 950.9 L2229.4 947.6 L2224.6 945.6 L2220.5 946.8 L2215.7 951.7 L2210.1 958.1 L2204.5 962.9 L2198.9 966.9 L2193.3 969.3 L2188.5 967.7 L2186.9 963.7 L2182.9 962.1 L2173.2 962.5 L2165.2 963.7 L2158.8 965.3 L2158.8 965.3 L2153.9 967.7 L2153.1 971.7 L2149.9 970.9 L2145.9 969.3 L2140.3 967.7 L2136.3 968.5 L2131.5 968.9 L2127.5 965.3 L2122.7 963.7 L2118.7 961.3 L2113.9 960.5 L2109 962.1 L2103.4 963.3 L2097.8 964.1 L2092.2 962.9 L2086.6 960.5 L2083.4 958.1 L2083 954.1 L2083.8 947.6 L2084.6 941.2 L2085 935.6 L2089 932.4 L2089.8 928.4 L2093 925.2 L2093.8 918.8 L2095 912.4 L2094.6 905.1 L2093 898.7 L2090.6 893.1 L2088.2 888.3 L2085.8 885.1 L2081 884.3 L2080.2 880.3 L2084.2 875.5 L2088.6 872.3 L2088.2 866.7 L2087 861 L2086.6 854.6 L2083.4 852.2 L2081 848.2 L2078.6 845 L2078.6 844.2 L2074.6 841 L2069.7 836.9 L2066.1 834.5 L2064.9 829.7 L2061.7 827.3 L2060.1 823.3 L2056.9 826.5 L2054.9 823.3 L2052.5 820.9 L2050.5 827.3 L2048.1 826.5 L2046.5 822.1 L2044.1 826.5 L2041.3 827.3 L2040.5 822.5 L2038.9 818.5 L2036.9 812.9 L2034.5 809.7 L2030.9 811.3 L2029.2 808.9 L2028.8 803.7 L2024.8 804.9 L2020.8 806.5 L2017.6 810.1 L2021.2 812.9 L2022.8 816.9 L2020.8 820.9 L2023.6 824.1 L2020.8 827.3 L2016.8 832.9 L2014.4 838.5 L2014.8 845 L2016.4 847.4 L2015.2 851.6 L2008.8 849 L2003.1 846.8 L1997.5 849 L1994.3 853.8 L1995.1 860.2 L1999.9 864.2 L2004.3 869.1 L2005.6 874.7 L2005.6 881.1 L2003.9 888.3 L2001.5 893.9 L2000.7 888.7 L1996.7 887.9 L1992.3 887.5 L1991.9 882.7 L1987.9 881.9 L1982.3 882.7 L1976.7 884.3 L1973.5 883.5 L1971.1 885.1 L1969.5 889.9 L1966.3 893.5 L1962.2 893.1 L1963.1 889.9 L1959.8 888.7 L1955 888.7 L1951 886.7 L1947 884.7 L1941.4 883.9 L1935 882.7 L1932.6 878.7 L1928.2 875.5 L1927 870.7 L1923 867.5 L1920.5 864.2 L1918.9 858.6 L1914.9 853 L1910.9 847.4 L1906.9 845 L1902.9 843.4 L1902.1 839.3 L1898.9 836.9 L1894.1 834.5 L1898.1 830.5 L1901.3 826.5 L1898.1 824.9 L1899.7 821.7 L1900.5 816.9 L1902.1 812.1 L1901.3 808.1 L1898.1 804.1 L1897.3 797.6 L1898.5 792.8 L1894.1 792 L1887.3 796 L1887.7 800.1 L1884.5 802.5 L1878 805.7 L1872.4 807.3 L1871.6 799.3 L1872.4 793.6 L1874.8 789.6 L1878.8 788 L1878 782.4 L1874.8 776 L1872.8 771.2 L1875.2 768 L1874 764 L1869.2 762.8 L1866.4 761.2 L1870 759.2 L1872.8 755.1 L1872.4 751.1 L1876 749.5 L1876.8 747.9 L1878.8 742.3 L1882.1 738.3 L1877.2 735.1 L1874.8 732.7 L1879.2 730.3 L1880.1 725.9 L1882.9 723.9 L1886.5 721.5 L1886.1 716.7 L1883.7 711 L1883.7 703 L1882.9 695 L1883.5 696.8 L1881.1 692 L1877.1 688.8 L1871.5 687.2 L1863.5 686 L1855.5 684.8 L1849 682.8 L1845 680 L1841 676 L1837 672.8 L1832.2 671.2 L1827.4 669.6 L1824.2 666.4 L1821 661.6 L1817.8 655.9 L1816.2 651.1 L1813 647.9 L1809.7 643.1 L1808.5 638.3 L1808.9 632.7 L1808.5 627.1 L1808.1 620.7 L1806.9 614.2 L1808.1 609.4Z"/>
<path d="M1958.2 674.9 L1963.1 673.3 L1968.7 674.9 L1974.3 680.5 L1979.9 685.3 L1980.3 695 L1979.9 699.8 L1977.5 704.6 L1972.7 705.4 L1968.7 701.4 L1967.1 695 L1965.5 691.8 L1961.4 686.1 L1957 679.7Z"/>
<path d="M1955.8 709.4 L1962.2 710.2 L1970.3 715.9 L1966.3 721.5 L1959 721.9 L1958.2 719.9 L1960.6 715.9Z"/>
<path d="M1838.6 688 L1845 686 L1853.1 687.2 L1861.1 688.4 L1871.5 689.2 L1875.1 693.6 L1876.3 699.3 L1875.9 706.5 L1873.1 708.9 L1871.5 703.3 L1869.1 704.1 L1868.3 709.7 L1865.1 713.7 L1861.1 710.5 L1858.7 705.7 L1861.1 701.7 L1853.1 698.4 L1843.4 695.2 L1839 691.2Z"/>
<path d="M1860.4 785.6 L1866.8 783.2 L1867.6 787.2 L1868.8 795.2 L1867.6 802.5 L1864.4 805.7 L1860.8 804.9 L1861.2 795.2Z"/>
<path d="M1896.5 848.6 L1903.7 847.8 L1907.7 849.8 L1908.1 854.6 L1906.1 858.6 L1902.1 859.8 L1900.9 853 L1897.3 849.4Z"/>
<path d="M1908.9 860.2 L1911.7 860.6 L1913.3 867.5 L1911.7 871.5 L1908.5 871.5 L1907.7 866.7Z" fill="#000"/>
<path d="M2012.8 867.5 L2016.8 867.1 L2018.8 871.5 L2019.2 878.7 L2016.8 884.3 L2013.6 882.7 L2011.6 877.1 L2011.6 871.5Z"/>
<path d="M2467.7 601.7 L2480.6 599.1 L2480.6 613.2 L2472.4 613.2Z"/>
<path d="M1685.7 538.4 L1694.7 536.7 L1697.7 541 L1696.4 552.1 L1691.2 552.9 L1691.7 561.1 L1684.8 562.3 L1682.3 549.9 L1687 546.5 L1688.2 541.4Z"/>
<path d="M1668.6 614.1 L1674.6 613.7 L1685.7 613.2 L1695.1 609 L1701.9 601.3 L1706.2 606.4 L1703.6 611.5 L1699.4 612.4 L1702.8 616.7 L1703.6 622.7 L1700.2 628.6 L1694.2 632.9 L1690 639.8 L1683.1 644.9 L1674.6 650 L1666 653.4 L1659.2 655.2 L1666 648.3 L1674.6 643.2 L1680.5 636.3 L1675.4 630.4 L1669.4 626.9 L1667.7 618.4Z"/>
<path d="M1587.3 560.2 L1591.6 565.3 L1595 571.3 L1602.7 577.3 L1613.8 573 L1619 567 L1628.4 574.7 L1630.1 584.2 L1632.6 587.6 L1642.1 595.3 L1642.9 601.3 L1645.5 606.4 L1650.6 609 L1660 610.7 L1667.7 609.4 L1665.2 616.7 L1666.9 626.1 L1673.7 630.4 L1678.8 635.5 L1673.7 641.5 L1666 646.6 L1658.3 650.9 L1651.5 656 L1643.8 656 L1636.9 652.6 L1628.4 654.3 L1614.7 651.7 L1606.1 648.3 L1597.6 643.2 L1591.6 632.9 L1584.7 644 L1575.3 632.9 L1569.3 630.4 L1563.4 628.6"/>
<path d="M2130.3 1266 L2130.9 1260.4 L2132.9 1249.8 L2142.5 1238.2 L2150 1237.2 L2156.1 1240.2 L2165.1 1238.7 L2167.7 1242.8 L2165.6 1254.3 L2164.6 1262"/>
</g>
<circle cx="2053" cy="764" r="502.8" fill="none" stroke="#000" stroke-width="3.6"/>
<g clip-path="url(#co3)" fill="none" stroke="#000" stroke-width="4.2" stroke-linejoin="round" stroke-linecap="round">
<path d="M1148.8 1869.1 L1152.9 1868.3 L1155.3 1871.5 L1156.1 1877.2 L1156.9 1881.2 L1153.7 1882.8 L1152.9 1888.4 L1153.7 1893.2 L1156.1 1898 L1160.1 1901.2 L1164.1 1902.8 L1167.3 1903.6 L1167.7 1907.6 L1166.5 1910.8 L1168.9 1915.6 L1172.1 1920.5 L1176.1 1924.5 L1181.7 1926.1 L1187.3 1925.3 L1193.8 1922.9 L1201.8 1923.7 L1211.5 1925 L1219.5 1928.2 L1227.6 1931.4 L1235.6 1933.8 L1241.2 1937.8 L1245.2 1941.8 L1247.6 1945.8 L1246.8 1949 L1249.2 1952.3 L1251.6 1954.7 L1253.2 1959.5 L1254.8 1966.7 L1256.4 1972.3 L1259.2 1976 L1258 1980.4 L1256.4 1986 L1255.6 1991.6 L1258.8 1992 L1262.9 1988.4 L1267.7 1986.4 L1271.3 1988 L1272.1 1992.4 L1270.9 1994.8 L1274.1 1997.2 L1280.5 1999.2 L1286.1 1997.6 L1291.7 1997.2 L1295.7 1993.2 L1301.3 1990.8 L1307 1988.4 L1311.8 1985.2 L1318.2 1982.8 L1324.6 1982.4 L1331.8 1985.2 L1328.6 1978.8 L1327 1970.7 L1326.2 1965.9 L1331 1962.7 L1335.8 1961.5 L1335 1957.9 L1334.2 1954.7 L1335 1953.1 L1337.4 1949 L1339.8 1942.6 L1343 1939.4 L1344.6 1933 L1341.4 1929 L1338.2 1923.4 L1335.8 1924.2 L1331.8 1930.6 L1328.6 1933 L1325.4 1929.8 L1322.2 1925 L1319.8 1921 L1321.4 1918.6 L1324.2 1911.4 L1325 1904.9 L1325.4 1896.9 L1329.4 1890.5 L1335 1887.3 L1339 1883.3 L1343.8 1876.1 L1347.9 1868.9 L1349.1 1863.2 L1346.3 1860 L1343.8 1856 L1344.6 1849.6 L1349.5 1844 L1352.7 1840.8 L1355.1 1835.2 L1356.3 1828 L1358.3 1825.6 L1361.5 1826 L1364.7 1829.2 L1368.3 1829.2 L1369.1 1824.7 L1369.5 1820.7 L1372.8 1820.7 L1374.4 1824.7 L1377.6 1825.1 L1383.2 1822.7 L1388 1821.5 L1391.2 1822.7 L1392.8 1826.8 L1397.6 1823.1 L1404 1820.3 L1410.4 1817.5 L1417.7 1814.3 L1420.9 1811.1 L1422.5 1809.1 L1424.5 1811.9 L1428.5 1812.3 L1430.5 1816.7 L1432.5 1821.5 L1436.1 1820.3 L1439.3 1816.3 L1443.3 1814.3 L1447.7 1816.3 L1448.5 1820.3 L1452.1 1817.9 L1457 1817.5 L1462.6 1819.1 L1467.4 1822.3 L1471.8 1824.7 L1473 1832 L1477 1832.4 L1481.8 1834.4 L1487.4 1836.8 L1493.8 1838 L1499.5 1837.6 L1505.1 1836.8 L1510.7 1838 L1514.7 1835.6 L1518.7 1832.8 L1522.4 1831.6 L1524.8 1835.6 L1524.4 1840.8 L1526.4 1844.4 L1529.2 1845.6 L1529.6 1852 L1530 1853.6 L1534 1853.2 L1538 1851.2 L1546.8 1852 L1555.6 1855.2 L1563.7 1856.8 L1568.5 1858.4 L1570.1 1861.6 L1579.7 1862 L1582.9 1865.6 L1586.1 1866 L1589.3 1864.4 L1594.1 1864.8 L1599.7 1867.3 L1604.6 1871.3 L1607.8 1876.1 L1608.6 1880.9 L1607.8 1884.9 L1604.6 1887.3 L1603.8 1892.9 L1602.5 1896.9 L1603.8 1900.9 L1602.5 1905.7 L1602.1 1910.6 L1603.8 1913.8 L1607.8 1915.8 L1612.2 1917 L1612.6 1923.4 L1613.4 1929.8 L1614.2 1934.6 L1615 1938.6 L1610.2 1941.8 L1605.4 1945.4 L1598.9 1947.4 L1594.1 1945 L1589.3 1943.4 L1585.7 1945.8 L1586.5 1949 L1583.7 1951.1 L1574.1 1951.5 L1571.7 1954.7 L1572.1 1957.9 L1574.9 1961.1 L1582.9 1961.5 L1591.7 1963.5 L1601.3 1963.5 L1603.8 1967.5 L1606.2 1972.3 L1609.4 1976 L1615.8 1977.2 L1621.4 1978.8 L1626.2 1982.8 L1630.2 1986.8 L1634.2 1989.2 L1637 1993.2 L1637.4 1998 L1639.4 2002.8 L1639.8 2009.2 L1643 2012.4 L1650.9 2015 L1643 2018.1 L1639.8 2021.3 L1639 2026.9 L1639.8 2031.7 L1639 2037.3 L1639 2042.9 L1635.8 2047.7 L1636.6 2054.1 L1636.6 2059.8 L1635 2064.6 L1639.8 2069.4 L1643.8 2074.2 L1652.2 2081.9 L1642.2 2086.2 L1635.8 2089.4 L1631.8 2091.8 L1630.2 2097.4 L1629.4 2104.7 L1629.4 2108.7 L1631 2113.5 L1633 2118.3 L1631.4 2122.3 L1631.8 2125.6 L1629.4 2128.8 L1623 2130.4 L1619 2132.8 L1617.4 2136 L1611.8 2139.2 L1607 2143.2 L1604.6 2148 L1605.4 2152 L1606.6 2156 L1606.2 2160.8 L1602.9 2164 L1598.9 2168.1 L1596.5 2173.7 L1591.7 2176.9 L1587.7 2180.1 L1586.9 2187.3 L1583.7 2191.3 L1579.7 2196.1 L1576.5 2200.9 L1575.7 2204.9 L1578.9 2209 L1582.1 2212.6 L1578.9 2213 L1574.9 2210.6 L1570.1 2207.3 L1565.3 2205.3 L1561.2 2206.5 L1556.4 2211.4 L1550.8 2217.8 L1545.2 2222.6 L1539.6 2226.6 L1534 2229 L1529.2 2227.4 L1527.6 2223.4 L1523.6 2221.8 L1513.9 2222.2 L1505.9 2223.4 L1499.5 2225 L1499.5 2225 L1494.6 2227.4 L1493.8 2231.4 L1490.6 2230.6 L1486.6 2229 L1481 2227.4 L1477 2228.2 L1472.2 2228.6 L1468.2 2225 L1463.4 2223.4 L1459.4 2221 L1454.6 2220.2 L1449.7 2221.8 L1444.1 2223 L1438.5 2223.8 L1432.9 2222.6 L1427.3 2220.2 L1424.1 2217.8 L1423.7 2213.8 L1424.5 2207.3 L1425.3 2200.9 L1425.7 2195.3 L1429.7 2192.1 L1430.5 2188.1 L1433.7 2184.9 L1434.5 2178.5 L1435.7 2172.1 L1435.3 2164.8 L1433.7 2158.4 L1431.3 2152.8 L1428.9 2148 L1426.5 2144.8 L1421.7 2144 L1420.9 2140 L1424.9 2135.2 L1429.3 2132 L1428.9 2126.4 L1427.7 2120.7 L1427.3 2114.3 L1424.1 2111.9 L1421.7 2107.9 L1419.3 2104.7 L1419.3 2103.9 L1415.3 2100.7 L1410.4 2096.6 L1406.8 2094.2 L1405.6 2089.4 L1402.4 2087 L1400.8 2083 L1397.6 2086.2 L1395.6 2083 L1393.2 2080.6 L1391.2 2087 L1388.8 2086.2 L1387.2 2081.8 L1384.8 2086.2 L1382 2087 L1381.2 2082.2 L1379.6 2078.2 L1377.6 2072.6 L1375.2 2069.4 L1371.6 2071 L1369.9 2068.6 L1369.5 2063.4 L1365.5 2064.6 L1361.5 2066.2 L1358.3 2069.8 L1361.9 2072.6 L1363.5 2076.6 L1361.5 2080.6 L1364.3 2083.8 L1361.5 2087 L1357.5 2092.6 L1355.1 2098.2 L1355.5 2104.7 L1357.1 2107.1 L1355.9 2111.3 L1349.5 2108.7 L1343.8 2106.5 L1338.2 2108.7 L1335 2113.5 L1335.8 2119.9 L1340.6 2123.9 L1345 2128.8 L1346.3 2134.4 L1346.3 2140.8 L1344.6 2148 L1342.2 2153.6 L1341.4 2148.4 L1337.4 2147.6 L1333 2147.2 L1332.6 2142.4 L1328.6 2141.6 L1323 2142.4 L1317.4 2144 L1314.2 2143.2 L1311.8 2144.8 L1310.2 2149.6 L1307 2153.2 L1302.9 2152.8 L1303.8 2149.6 L1300.5 2148.4 L1295.7 2148.4 L1291.7 2146.4 L1287.7 2144.4 L1282.1 2143.6 L1275.7 2142.4 L1273.3 2138.4 L1268.9 2135.2 L1267.7 2130.4 L1263.7 2127.2 L1261.2 2123.9 L1259.6 2118.3 L1255.6 2112.7 L1251.6 2107.1 L1247.6 2104.7 L1243.6 2103.1 L1242.8 2099 L1239.6 2096.6 L1234.8 2094.2 L1238.8 2090.2 L1242 2086.2 L1238.8 2084.6 L1240.4 2081.4 L1241.2 2076.6 L1242.8 2071.8 L1242 2067.8 L1238.8 2063.8 L1238 2057.3 L1239.2 2052.5 L1234.8 2051.7 L1228 2055.7 L1228.4 2059.8 L1225.2 2062.2 L1218.7 2065.4 L1213.1 2067 L1212.3 2059 L1213.1 2053.3 L1215.5 2049.3 L1219.5 2047.7 L1218.7 2042.1 L1215.5 2035.7 L1213.5 2030.9 L1215.9 2027.7 L1214.7 2023.7 L1209.9 2022.5 L1207.1 2020.9 L1210.7 2018.9 L1213.5 2014.8 L1213.1 2010.8 L1216.7 2009.2 L1217.5 2007.6 L1219.5 2002 L1222.8 1998 L1217.9 1994.8 L1215.5 1992.4 L1219.9 1990 L1220.8 1985.6 L1223.6 1983.6 L1227.2 1981.2 L1226.8 1976.4 L1224.4 1970.7 L1224.4 1962.7 L1223.6 1954.7 L1224.2 1956.5 L1221.8 1951.7 L1217.8 1948.5 L1212.2 1946.9 L1204.2 1945.7 L1196.2 1944.5 L1189.7 1942.5 L1185.7 1939.7 L1181.7 1935.7 L1177.7 1932.5 L1172.9 1930.9 L1168.1 1929.3 L1164.9 1926.1 L1161.7 1921.3 L1158.5 1915.6 L1156.9 1910.8 L1153.7 1907.6 L1150.4 1902.8 L1149.2 1898 L1149.6 1892.4 L1149.2 1886.8 L1148.8 1880.4 L1147.6 1873.9 L1148.8 1869.1Z"/>
<path d="M1298.9 1934.6 L1303.8 1933 L1309.4 1934.6 L1315 1940.2 L1320.6 1945 L1321 1954.7 L1320.6 1959.5 L1318.2 1964.3 L1313.4 1965.1 L1309.4 1961.1 L1307.8 1954.7 L1306.2 1951.5 L1302.1 1945.8 L1297.7 1939.4Z"/>
<path d="M1296.5 1969.1 L1302.9 1969.9 L1311 1975.6 L1307 1981.2 L1299.7 1981.6 L1298.9 1979.6 L1301.3 1975.6Z"/>
<path d="M1179.3 1947.7 L1185.7 1945.7 L1193.8 1946.9 L1201.8 1948.1 L1212.2 1948.9 L1215.8 1953.3 L1217 1959 L1216.6 1966.2 L1213.8 1968.6 L1212.2 1963 L1209.8 1963.8 L1209 1969.4 L1205.8 1973.4 L1201.8 1970.2 L1199.4 1965.4 L1201.8 1961.4 L1193.8 1958.1 L1184.1 1954.9 L1179.7 1950.9Z"/>
<path d="M1201.1 2045.3 L1207.5 2042.9 L1208.3 2046.9 L1209.5 2054.9 L1208.3 2062.2 L1205.1 2065.4 L1201.5 2064.6 L1201.9 2054.9Z"/>
<path d="M1237.2 2108.3 L1244.4 2107.5 L1248.4 2109.5 L1248.8 2114.3 L1246.8 2118.3 L1242.8 2119.5 L1241.6 2112.7 L1238 2109.1Z"/>
<path d="M1249.6 2119.9 L1252.4 2120.3 L1254 2127.2 L1252.4 2131.2 L1249.2 2131.2 L1248.4 2126.4Z" fill="#000"/>
<path d="M1353.5 2127.2 L1357.5 2126.8 L1359.5 2131.2 L1359.9 2138.4 L1357.5 2144 L1354.3 2142.4 L1352.3 2136.8 L1352.3 2131.2Z"/>
<path d="M1808.4 1861.4 L1821.3 1858.8 L1821.3 1872.9 L1813.1 1872.9Z"/>
<path d="M1026.4 1798.1 L1035.4 1796.4 L1038.4 1800.7 L1037.1 1811.8 L1031.9 1812.6 L1032.4 1820.8 L1025.5 1822 L1023 1809.6 L1027.7 1806.2 L1028.9 1801.1Z"/>
<path d="M1009.3 1873.8 L1015.3 1873.4 L1026.4 1872.9 L1035.8 1868.7 L1042.6 1861 L1046.9 1866.1 L1044.3 1871.2 L1040.1 1872.1 L1043.5 1876.4 L1044.3 1882.4 L1040.9 1888.3 L1034.9 1892.6 L1030.7 1899.5 L1023.8 1904.6 L1015.3 1909.7 L1006.7 1913.1 L999.9 1914.9 L1006.7 1908 L1015.3 1902.9 L1021.2 1896 L1016.1 1890.1 L1010.1 1886.6 L1008.4 1878.1Z"/>
<path d="M928 1819.9 L932.3 1825 L935.7 1831 L943.4 1837 L954.5 1832.7 L959.7 1826.7 L969.1 1834.4 L970.8 1843.9 L973.3 1847.3 L982.8 1855 L983.6 1861 L986.2 1866.1 L991.3 1868.7 L1000.7 1870.4 L1008.4 1869.1 L1005.9 1876.4 L1007.6 1885.8 L1014.4 1890.1 L1019.5 1895.2 L1014.4 1901.2 L1006.7 1906.3 L999 1910.6 L992.2 1915.7 L984.5 1915.7 L977.6 1912.3 L969.1 1914 L955.4 1911.4 L946.8 1908 L938.3 1902.9 L932.3 1892.6 L925.4 1903.7 L916 1892.6 L910 1890.1 L904.1 1888.3"/>
<path d="M1471 2525.7 L1471.6 2520.1 L1473.6 2509.5 L1483.2 2497.9 L1490.7 2496.9 L1496.8 2499.9 L1505.8 2498.4 L1508.4 2502.5 L1506.3 2514 L1505.3 2521.7"/>
</g>
<circle cx="1393.7" cy="2023.7" r="502.8" fill="none" stroke="#000" stroke-width="3.6"/>
<g shape-rendering="crispEdges">
<rect x="2607.5" y="1135.1" width="50" height="83" fill="#fff2e0"/>
<rect x="2607.5" y="1052.8" width="50" height="83" fill="#fee7c5"/>
<rect x="2607.5" y="970.4" width="50" height="83" fill="#fdd8a6"/>
<rect x="2607.5" y="888" width="50" height="83" fill="#fdc690"/>
<rect x="2607.5" y="805.7" width="50" height="83" fill="#fdaf79"/>
<rect x="2607.5" y="723.3" width="50" height="83" fill="#fc8c59"/>
<rect x="2607.5" y="641" width="50" height="83" fill="#f2704c"/>
<rect x="2607.5" y="558.6" width="50" height="83" fill="#e44d35"/>
<rect x="2607.5" y="476.2" width="50" height="83" fill="#d12719"/>
<rect x="2607.5" y="393.9" width="50" height="83" fill="#b50302"/>
<rect x="2607.5" y="311.5" width="50" height="83" fill="#910000"/>
<rect x="2607.5" y="311.5" width="50" height="906" fill="none" stroke="#000" stroke-width="3"/>
<rect x="2657.5" y="1216" width="15.6" height="3" fill="#000"/>
<rect x="2657.5" y="1051.3" width="15.6" height="3" fill="#000"/>
<rect x="2657.5" y="886.5" width="15.6" height="3" fill="#000"/>
<rect x="2657.5" y="721.8" width="15.6" height="3" fill="#000"/>
<rect x="2657.5" y="557.1" width="15.6" height="3" fill="#000"/>
<rect x="2657.5" y="392.4" width="15.6" height="3" fill="#000"/>
</g>
<text x="2685.3" y="1232.8" font-size="41.67">45.8</text>
<text x="2685.3" y="1068.1" font-size="41.67">85.7</text>
<text x="2685.3" y="903.3" font-size="41.67">125.6</text>
<text x="2685.3" y="738.6" font-size="41.67">165.5</text>
<text x="2685.3" y="573.9" font-size="41.67">205.4</text>
<text x="2685.3" y="409.2" font-size="41.67">245.3</text>
<g shape-rendering="crispEdges">
<rect x="1947.5" y="2395.1" width="51" height="83" fill="#114781"/>
<rect x="1947.5" y="2312.8" width="51" height="83" fill="#2c75b4"/>
<rect x="1947.5" y="2230.4" width="51" height="83" fill="#59a1ca"/>
<rect x="1947.5" y="2148" width="51" height="83" fill="#9dcbe1"/>
<rect x="1947.5" y="2065.7" width="51" height="83" fill="#d4e6f1"/>
<rect x="1947.5" y="1983.3" width="51" height="83" fill="#f7f6f6"/>
<rect x="1947.5" y="1901" width="51" height="83" fill="#fdddcb"/>
<rect x="1947.5" y="1818.6" width="51" height="83" fill="#f6af8e"/>
<rect x="1947.5" y="1736.2" width="51" height="83" fill="#de735c"/>
<rect x="1947.5" y="1653.9" width="51" height="83" fill="#be3036"/>
<rect x="1947.5" y="1571.5" width="51" height="83" fill="#870a24"/>
<rect x="1947.5" y="1571.5" width="51" height="906" fill="none" stroke="#000" stroke-width="3"/>
<rect x="1998.5" y="2393.6" width="15.6" height="3" fill="#000"/>
<rect x="1998.5" y="2228.9" width="15.6" height="3" fill="#000"/>
<rect x="1998.5" y="2064.2" width="15.6" height="3" fill="#000"/>
<rect x="1998.5" y="1899.5" width="15.6" height="3" fill="#000"/>
<rect x="1998.5" y="1734.7" width="15.6" height="3" fill="#000"/>
<rect x="1998.5" y="1570" width="15.6" height="3" fill="#000"/>
</g>
<text x="2026.3" y="2410.4" font-size="41.67">−9.9</text>
<text x="2026.3" y="2245.7" font-size="41.67">−5.5</text>
<text x="2026.3" y="2081" font-size="41.67">−1.1</text>
<text x="2026.3" y="1916.3" font-size="41.67">3.3</text>
<text x="2026.3" y="1751.5" font-size="41.67">7.7</text>
<text x="2026.3" y="1586.8" font-size="41.67">12.1</text>
<text x="1355.7" y="87" font-size="75" text-anchor="middle">FSNTC - ANN - SHPolar</text>
<text font-size="25" y="205.8"><tspan x="232.3" font-weight="bold" style="font-kerning:none;letter-spacing:-0.5px">Test</tspan><tspan x="296.8">:</tspan><tspan x="310.2">cam144_lscale_pmf</tspan></text>
<text font-size="25" x="232.3" y="236.4">years: 1979-1980</text>
<text font-size="25" y="205.8"><tspan x="1551.1" font-weight="bold" style="font-kerning:none">Baseline</tspan><tspan x="1675">:</tspan><tspan x="1688">cam144_lscale</tspan></text>
<text font-size="25" x="1550" y="236.4">years: 1979-1980</text>
<text font-size="33.33" y="1496.9"><tspan x="892" font-weight="bold" style="font-kerning:none">Test</tspan><tspan x="979.2">−</tspan><tspan x="1014" font-weight="bold" style="font-kerning:none">Baseline</tspan></text>
<text font-size="41.67" x="29.1" y="1276.3" xml:space="preserve">Mean: 171.98</text>
<text font-size="41.67" x="29.1" y="1322.8" xml:space="preserve">Max: 265.16</text>
<text font-size="41.67" x="29.1" y="1369.3" xml:space="preserve">Min: 45.85</text>
<text font-size="41.67" x="1347.9" y="1276.3" xml:space="preserve">Mean: 172.07</text>
<text font-size="41.67" x="1347.9" y="1322.8" xml:space="preserve">Max: 265.20</text>
<text font-size="41.67" x="1347.9" y="1369.3" xml:space="preserve">Min: 45.93</text>
<text font-size="41.67" x="688.1" y="2536.3" xml:space="preserve">Mean: -0.09</text>
<text font-size="41.67" x="688.1" y="2582.8" xml:space="preserve">Max:  4.41</text>
<text font-size="41.67" x="688.1" y="2629.3" xml:space="preserve">Min: -3.38</text>
</svg>
</body></html>
